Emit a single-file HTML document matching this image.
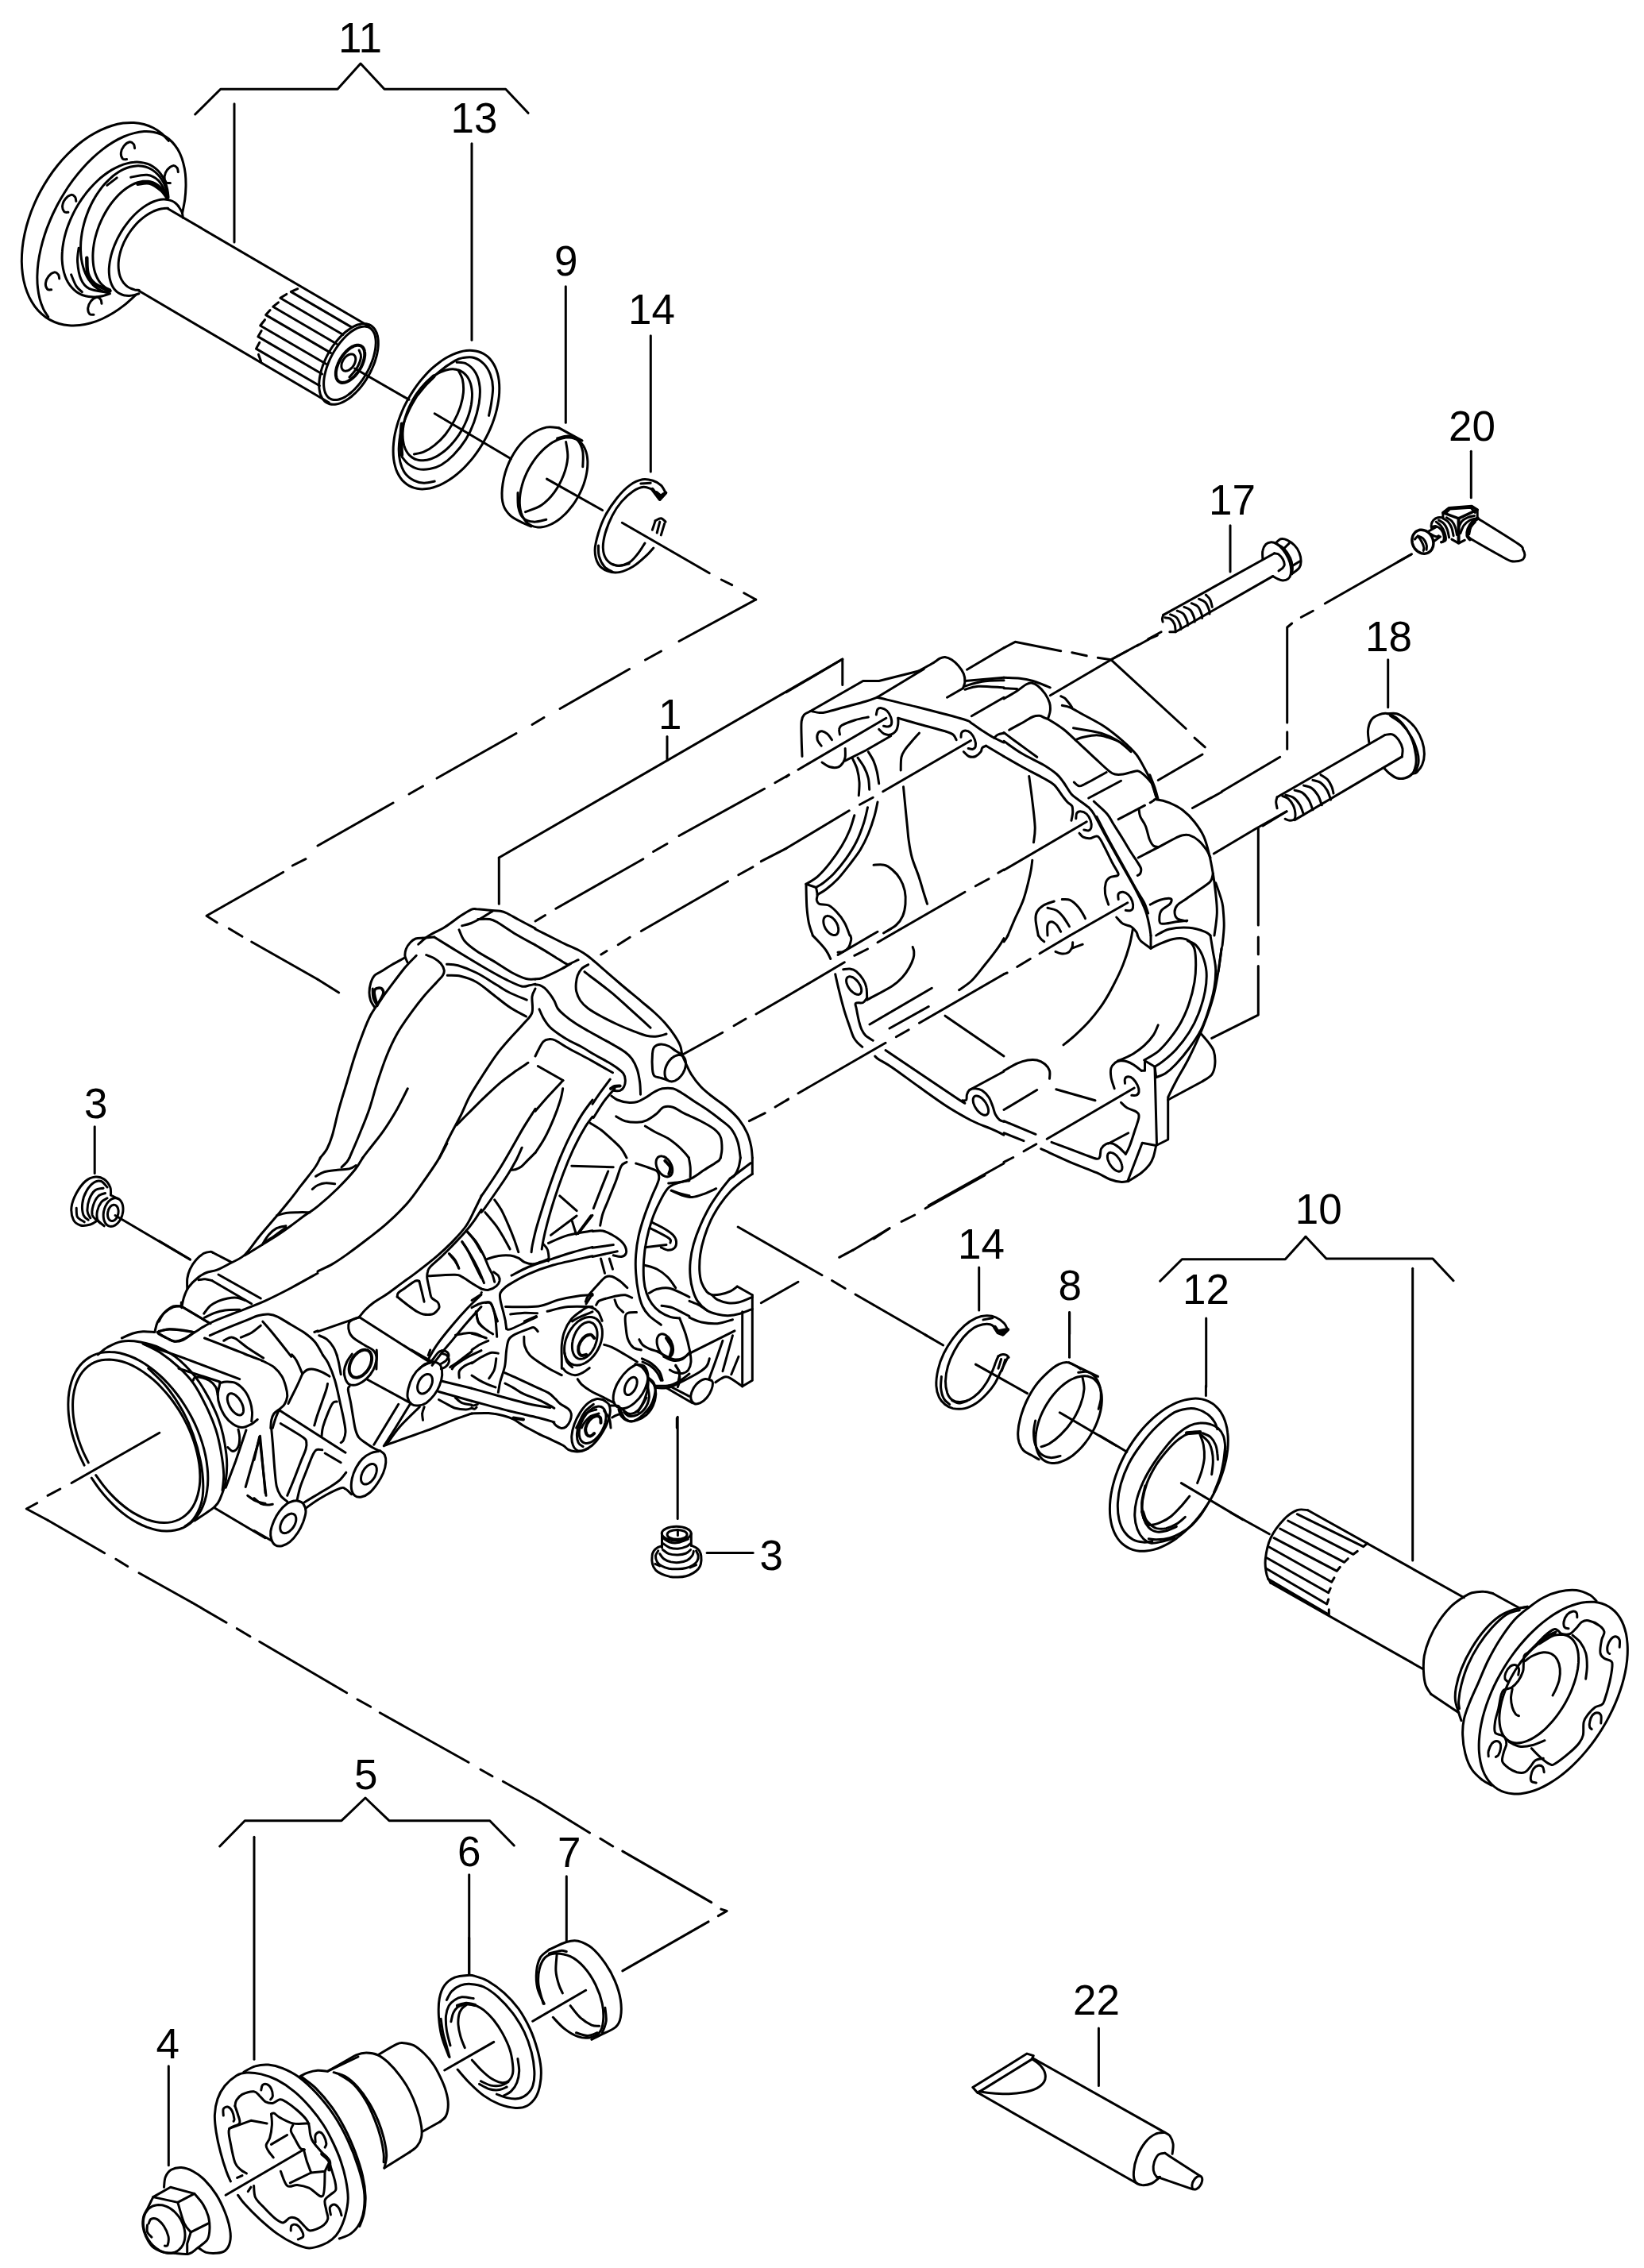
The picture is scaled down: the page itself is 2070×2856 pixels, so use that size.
<!DOCTYPE html>
<html><head><meta charset="utf-8"><title>Diagram</title>
<style>html,body{margin:0;padding:0;background:#fff}svg{display:block}</style></head>
<body><svg width="2070" height="2856" viewBox="0 0 2070 2856">
<rect width="2070" height="2856" fill="#fff"/>
<g fill="none" stroke="#000" stroke-width="3" stroke-linecap="round" stroke-linejoin="round">
<path d="M212.3 177.3C210.8 175.7 206.6 170.7 203.4 168C200.2 165.3 196.7 162.9 193 161C189.3 159.1 185.4 157.6 181.3 156.5C177.3 155.4 173 154.7 168.6 154.5C164.2 154.3 159.6 154.5 155 155.1C150.4 155.7 145.7 156.7 140.9 158.2C136.2 159.7 131.4 161.5 126.6 163.8C121.8 166.1 117 168.8 112.3 171.8C107.6 174.9 102.9 178.3 98.3 182C93.8 185.8 89.3 189.9 85 194.3C80.6 198.7 76.4 203.4 72.5 208.3C68.5 213.2 64.7 218.4 61.1 223.8C57.6 229.1 54.2 234.8 51.1 240.5C48 246.1 45.2 252 42.7 258C40.1 263.9 37.9 269.9 36 276C34 282 32.4 288.1 31.1 294.1C29.8 300.1 28.8 306.1 28.2 312C27.6 317.8 27.3 323.7 27.3 329.3C27.4 334.9 27.8 340.4 28.5 345.6C29.2 350.8 30.3 355.9 31.7 360.7C33.1 365.4 34.8 370 36.8 374.2C38.8 378.3 41.2 382.3 43.8 385.8C46.4 389.3 49.3 392.5 52.5 395.3C55.6 398.1 59 400.6 62.7 402.6C66.3 404.6 70.2 406.3 74.2 407.5C78.2 408.7 82.5 409.5 86.8 409.8C91.2 410.2 95.7 410.1 100.3 409.6C104.9 409.1 109.6 408.1 114.3 406.8C119.1 405.5 123.9 403.7 128.7 401.5C133.4 399.3 138.3 396.7 143 393.8C147.7 390.9 152.4 387.5 157 383.9C161.6 380.2 168.2 373.9 170.5 371.9"/>
<path d="M60.7 399C59.7 397.3 56.3 392.5 54.5 388.8C52.8 385.1 51.3 381 50.1 376.6C49 372.3 48.1 367.6 47.6 362.7C47 357.9 46.8 352.7 46.9 347.4C47 342.1 47.4 336.5 48.1 330.9C48.9 325.2 49.9 319.4 51.3 313.5C52.6 307.7 54.3 301.7 56.2 295.8C58.1 289.8 60.4 283.8 62.9 277.9C65.3 271.9 68.1 266 71.1 260.2C74.1 254.5 77.3 248.7 80.8 243.2C84.2 237.7 87.8 232.3 91.6 227.2C95.4 222.1 99.4 217.1 103.5 212.5C107.6 207.8 111.8 203.4 116.1 199.4C120.4 195.3 124.8 191.5 129.2 188.1C133.6 184.7 138.1 181.6 142.6 178.9C147 176.2 151.5 173.9 155.9 172C160.2 170.1 164.6 168.6 168.9 167.6C173.1 166.5 177.3 165.8 181.3 165.6C185.3 165.4 189.2 165.6 192.8 166.2C196.5 166.8 200.1 167.9 203.4 169.4C206.6 170.8 209.7 172.7 212.6 175C215.4 177.3 218 179.9 220.3 183C222.7 186 224.7 189.4 226.5 193.2C228.2 196.9 229.7 201 230.8 205.3C232 209.7 232.9 214.4 233.4 219.2C233.9 224.1 234.1 229.3 234 234.6C233.9 239.9 233.5 245.5 232.8 251.2C232 256.8 230.1 265.6 229.6 268.5"/>
<path d="M212.1 248.5C211.9 246.8 211.4 241.6 210.7 238.4C210 235.2 209.1 232.1 208 229.3C206.9 226.4 205.5 223.8 204 221.4C202.5 218.9 200.7 216.7 198.8 214.8C196.9 212.9 194.8 211.1 192.6 209.7C190.4 208.3 188 207.1 185.4 206.2C182.9 205.4 180.2 204.7 177.4 204.4C174.7 204.1 171.8 204 168.8 204.3C165.9 204.5 162.8 205.1 159.7 205.9C156.6 206.7 153.5 207.8 150.3 209.1C147.2 210.5 144 212.1 140.8 213.9C137.7 215.8 134.5 217.9 131.4 220.3C128.3 222.6 125.2 225.2 122.3 228C119.3 230.8 116.4 233.8 113.6 237C110.8 240.1 108.1 243.5 105.6 247C103 250.4 100.6 254.1 98.3 257.8C96.1 261.5 93.9 265.4 92 269.3C90.1 273.2 88.3 277.1 86.8 281.1C85.2 285.1 83.8 289.2 82.7 293.1C81.5 297.1 80.6 301.2 79.9 305.1C79.2 309 78.6 312.9 78.4 316.7C78.1 320.5 78 324.2 78.2 327.8C78.4 331.3 78.8 334.8 79.4 338.1C80 341.3 80.8 344.5 81.9 347.4C82.9 350.3 84.2 353 85.6 355.5C87.1 358 88.7 360.3 90.6 362.3C92.4 364.4 94.4 366.2 96.6 367.7C98.8 369.2 101.2 370.5 103.6 371.5C106.1 372.4 108.8 373.2 111.5 373.6C114.2 374 117.1 374.2 120 374C123 373.9 126 373.5 129.1 372.7C132.1 372 136.9 370.3 138.4 369.8"/>
<path d="M210.8 242.8C210.2 241.3 208.9 236.7 207.7 233.9C206.6 231.1 205.2 228.5 203.7 226.2C202.2 223.8 200.5 221.6 198.7 219.7C196.9 217.8 194.9 216.1 192.8 214.6C190.8 213.2 188.5 212 186.3 211.1C184 210.2 181.5 209.6 179.1 209.2C176.6 208.8 174.1 208.7 171.5 208.9C168.9 209.1 166.2 209.6 163.6 210.3C160.9 211 158.2 212 155.6 213.2C152.9 214.5 150.2 216 147.6 217.8C145 219.5 142.3 221.5 139.8 223.8C137.3 226 134.8 228.5 132.4 231.1C130 233.7 127.7 236.6 125.5 239.6C123.3 242.6 121.2 245.8 119.3 249.1C117.3 252.4 115.5 255.9 113.8 259.5C112.1 263 110.6 266.7 109.3 270.4C107.9 274.1 106.7 278 105.7 281.8C104.7 285.6 103.8 289.4 103.2 293.2C102.6 297 102.1 300.9 101.8 304.6C101.6 308.3 101.5 312.1 101.6 315.7C101.7 319.3 102 322.8 102.5 326.2C103 329.5 103.7 332.8 104.6 335.9C105.4 339 106.5 341.9 107.7 344.7C108.9 347.4 110.3 350 111.9 352.3C113.4 354.6 115.1 356.7 117 358.6C118.8 360.5 120.8 362.1 122.9 363.5C125 364.8 127.3 366 129.6 366.8C131.9 367.7 135.6 368.3 136.8 368.5"/>
<path d="M134.8 233.4L147.2 223.9"/>
<path d="M209.8 248.3C209.3 247.2 207.8 243.8 206.6 241.8C205.5 239.8 204.1 238 202.7 236.5C201.2 234.9 199.6 233.5 197.9 232.4C196.2 231.3 194.4 230.3 192.5 229.6C190.6 229 188.6 228.5 186.5 228.3C184.4 228.1 182.3 228.1 180.1 228.3C177.9 228.6 175.6 229.1 173.4 229.8C171.1 230.5 168.8 231.4 166.5 232.6C164.2 233.8 161.8 235.2 159.6 236.8C157.3 238.4 155 240.2 152.8 242.2C150.5 244.2 148.3 246.4 146.2 248.7C144.1 251 142 253.6 140.1 256.2C138.1 258.9 136.2 261.7 134.4 264.6C132.6 267.5 131 270.5 129.4 273.6C127.9 276.7 126.4 279.9 125.1 283.1C123.9 286.4 122.7 289.7 121.7 292.9C120.7 296.2 119.8 299.5 119.1 302.8C118.4 306.1 117.9 309.4 117.5 312.6C117.2 315.8 116.9 319 116.9 322.1C116.9 325.1 117 328.1 117.3 331C117.5 333.9 118 336.6 118.6 339.3C119.2 341.9 120 344.4 120.9 346.6C121.8 348.9 122.9 351.1 124.1 353C125.3 355 126.7 356.7 128.2 358.3C129.6 359.8 131.3 361.1 133 362.2C134.7 363.3 137.5 364.4 138.4 364.9"/>
<path d="M164.7 223.2C168.2 222.7 179.3 219.6 185.2 220.3C191 221 195.6 223.5 199.8 227.6C203.9 231.7 208.3 242.2 210 245.1"/>
<path d="M173.5 231.7C175.9 231.5 183.2 229.2 188.1 230.5C193 231.8 198.9 236.1 202.7 239.3C206.5 242.4 209.4 247.8 210.7 249.5" stroke-width="4.5"/>
<path d="M99.1 312.3C98.8 315.2 97.1 323.2 97.6 329.8C98.1 336.4 99.5 346.1 102 351.7C104.4 357.3 106.6 360.6 112.2 363.4C117.8 366.2 131.7 367.6 135.5 368.5"/>
<path d="M109.3 324.7C109.5 328 109 338.9 110.7 344.4C112.4 349.9 114.9 353.9 119.5 357.5C124.1 361.2 135.3 364.8 138.5 366.3" stroke-width="4.5"/>
<path d="M89.6 345.8C90.7 348.3 93.8 356.8 96.1 360.4C98.4 364.1 102.2 366.5 103.4 367.7"/>
<path d="M224.7 259.6C224.1 259 222.3 256.8 220.9 255.7C219.5 254.6 218 253.7 216.4 253C214.8 252.3 213 251.7 211.2 251.4C209.4 251.1 207.5 251 205.5 251.1C203.5 251.2 201.5 251.4 199.4 251.9C197.3 252.4 195.1 253.1 192.9 254C190.7 254.9 188.5 256 186.3 257.3C184.1 258.5 181.8 260 179.6 261.6C177.4 263.2 175.2 265 173 267C170.9 268.9 168.8 271 166.7 273.2C164.6 275.4 162.6 277.8 160.7 280.3C158.8 282.7 156.9 285.3 155.2 287.9C153.4 290.6 151.8 293.3 150.3 296.1C148.7 298.9 147.3 301.7 146 304.6C144.7 307.4 143.5 310.3 142.5 313.2C141.5 316 140.6 318.9 139.9 321.7C139.2 324.6 138.6 327.4 138.2 330.1C137.7 332.8 137.5 335.5 137.3 338.1C137.2 340.7 137.3 343.2 137.5 345.6C137.7 348 138 350.3 138.6 352.4C139.1 354.5 139.7 356.5 140.6 358.4C141.4 360.2 142.3 361.9 143.4 363.4C144.5 364.9 145.8 366.2 147.1 367.4C148.5 368.5 150 369.5 151.6 370.2C153.2 371 154.9 371.6 156.7 371.9C158.5 372.3 160.4 372.4 162.4 372.4C164.3 372.3 166.4 372.1 168.5 371.6C170.6 371.2 173.8 370 174.9 369.7"/>
<path d="M224.6 259.7C225.3 260.9 228 264.6 229 267C230 269.4 230.2 273.1 230.4 274.3"/>
<path d="M211.6 262.3C210.6 262.3 207.8 262.2 205.8 262.5C203.8 262.7 201.7 263.1 199.6 263.7C197.6 264.3 195.5 265.1 193.4 266C191.3 267 189.2 268.1 187.1 269.4C185 270.6 183 272.1 180.9 273.6C178.9 275.2 176.9 276.9 175 278.7C173.1 280.5 171.2 282.5 169.5 284.5C167.7 286.6 166 288.7 164.4 291C162.8 293.2 161.3 295.5 159.9 297.9C158.5 300.2 157.3 302.7 156.1 305.1C155 307.6 154 310.1 153.1 312.6C152.2 315.1 151.5 317.6 150.9 320C150.3 322.5 149.8 325 149.5 327.4C149.2 329.8 149.1 332.1 149.1 334.4C149.1 336.7 149.3 338.9 149.6 341C149.9 343.1 150.3 345.2 150.9 347.1C151.5 349 152.3 350.8 153.2 352.4C154.1 354.1 155.1 355.6 156.3 356.9C157.4 358.3 158.7 359.5 160.1 360.6C161.5 361.6 163 362.5 164.6 363.2C166.2 364 167.9 364.5 169.7 364.9C171.5 365.2 174.3 365.3 175.2 365.4"/>
<path d="M169.6 186.7C169.4 185.9 169.4 182.9 168.4 181.6C167.3 180.3 165.4 178.3 163.3 178.7C161.2 179.1 157.8 181.5 156 183.8C154.2 186.1 152.6 189.9 152.3 192.6C152.1 195.2 153.3 198.5 154.5 199.9C155.7 201.2 158.8 200.5 159.6 200.6"/>
<path d="M224.3 216.6C224.1 215.8 224.2 212.9 223.1 211.5C222.1 210.2 220.1 208.2 218 208.6C216 209 212.6 211.4 210.7 213.7C208.9 216 207.3 219.8 207.1 222.5C206.8 225.2 208.1 228.4 209.3 229.8C210.5 231.1 213.5 230.4 214.4 230.5"/>
<path d="M95.8 253.4C95.6 252.6 95.7 249.7 94.7 248.3C93.6 247 91.6 245 89.6 245.4C87.5 245.8 84.1 248.2 82.3 250.5C80.4 252.8 78.9 256.6 78.6 259.3C78.4 261.9 79.6 265.2 80.8 266.6C82 267.9 85.1 267.2 85.9 267.3"/>
<path d="M74.7 350.9C74.5 350.1 74.5 347.2 73.5 345.8C72.5 344.5 70.5 342.6 68.4 342.9C66.3 343.3 62.9 345.7 61.1 348C59.3 350.3 57.7 354.1 57.4 356.8C57.2 359.5 58.4 362.7 59.6 364.1C60.9 365.4 63.9 364.7 64.7 364.8"/>
<path d="M128 382.3C127.8 381.5 127.8 378.6 126.8 377.2C125.7 375.9 123.7 373.9 121.7 374.3C119.6 374.7 116.2 377.1 114.4 379.4C112.6 381.7 111 385.5 110.7 388.2C110.5 390.9 111.7 394.1 112.9 395.5C114.1 396.8 117.2 396.1 118 396.2"/>
<path d="M211.3 262.7L464.3 410.7"/>
<path d="M175 366.3L414.3 507"/>
<path d="M374.8 363.7L366.3 367.4L442.9 412.1"/>
<path d="M360.8 370.4L352.9 375.3L432 421.5"/>
<path d="M350.5 380.8L343.8 386.2L423.8 433"/>
<path d="M340.1 390.5L334.7 396.6L416.5 444.4"/>
<path d="M333.5 402.7L327.7 410L410.5 458.3"/>
<path d="M329.2 416.6L324.9 423.9L405.6 471"/>
<path d="M326.8 431.2L322.5 439.1L402.4 485.8"/>
<path d="M325.5 446.4L328.6 455"/>
<path d="M413.8 444.3C415 442.2 416.3 440.1 417.6 438C418.9 436 420.3 434 421.8 432.1C423.2 430.2 424.7 428.4 426.2 426.7C427.7 424.9 429.3 423.3 430.9 421.8C432.5 420.2 434.1 418.8 435.7 417.5C437.3 416.2 439 415 440.6 413.9C442.2 412.8 443.8 411.9 445.4 411.1C447 410.3 448.6 409.6 450.2 409C451.7 408.5 453.2 408.1 454.7 407.9C456.2 407.6 457.6 407.5 459 407.6C460.4 407.6 461.7 407.8 462.9 408.2C464.2 408.5 465.4 409 466.5 409.6C467.6 410.2 468.6 411 469.5 411.8C470.5 412.7 471.3 413.8 472.1 414.9C472.8 416.1 473.5 417.3 474 418.7C474.6 420.1 475.1 421.6 475.4 423.2C475.8 424.8 476 426.5 476.2 428.3C476.3 430.1 476.3 432 476.3 433.9C476.2 435.8 476 437.9 475.8 439.9C475.5 442 475.1 444.1 474.6 446.3C474.1 448.4 473.5 450.6 472.8 452.8C472.2 455 471.4 457.3 470.5 459.5C469.6 461.7 468.7 463.9 467.6 466.1C466.6 468.3 465.5 470.5 464.3 472.6C463.1 474.8 461.8 476.9 460.5 478.9C459.2 480.9 457.8 482.9 456.3 484.8C454.9 486.7 453.4 488.5 451.9 490.3C450.3 492 448.8 493.6 447.2 495.2C445.6 496.7 444 498.1 442.4 499.5C440.7 500.8 439.1 502 437.5 503C435.9 504.1 434.2 505.1 432.6 505.9C431 506.7 429.5 507.3 427.9 507.9C426.4 508.4 424.8 508.8 423.4 509C421.9 509.3 420.4 509.4 419.1 509.3C417.7 509.3 416.4 509.1 415.1 508.8C413.9 508.4 412.7 508 411.6 507.3C410.5 506.7 409.5 506 408.6 505.1C407.6 504.2 406.8 503.2 406 502C405.3 500.9 404.6 499.6 404 498.2C403.5 496.8 403 495.3 402.7 493.7C402.3 492.1 402.1 490.4 401.9 488.6C401.8 486.8 401.7 485 401.8 483C401.9 481.1 402 479.1 402.3 477C402.6 474.9 403 472.8 403.5 470.6C404 468.5 404.5 466.3 405.2 464.1C405.9 461.9 406.7 459.7 407.6 457.4C408.4 455.2 409.4 453 410.4 450.8C411.5 448.6 412.6 446.4 413.8 444.3Z"/>
<path d="M419 445.4C420 443.5 421.2 441.6 422.4 439.7C423.6 437.9 424.8 436 426.1 434.3C427.4 432.5 428.7 430.8 430.1 429.2C431.4 427.7 432.8 426.1 434.2 424.7C435.6 423.3 437.1 421.9 438.5 420.7C439.9 419.5 441.4 418.3 442.8 417.3C444.2 416.3 445.6 415.4 447 414.6C448.4 413.9 449.8 413.2 451.2 412.7C452.5 412.2 453.8 411.8 455.1 411.5C456.4 411.2 457.6 411.1 458.8 411.1C460 411.1 461.1 411.2 462.2 411.5C463.3 411.7 464.3 412.1 465.2 412.7C466.2 413.2 467 413.8 467.8 414.6C468.6 415.4 469.3 416.3 469.9 417.3C470.6 418.3 471.1 419.4 471.6 420.6C472 421.8 472.4 423.2 472.6 424.6C472.9 426 473.1 427.5 473.2 429.1C473.3 430.7 473.3 432.4 473.1 434.2C473 435.9 472.9 437.7 472.6 439.6C472.3 441.4 471.9 443.4 471.4 445.3C471 447.3 470.4 449.3 469.8 451.2C469.1 453.2 468.4 455.3 467.6 457.3C466.8 459.3 465.9 461.3 465 463.3C464 465.3 463 467.3 461.9 469.3C460.8 471.2 459.7 473.1 458.5 475C457.3 476.8 456.1 478.7 454.8 480.4C453.5 482.2 452.2 483.9 450.8 485.5C449.4 487.1 448.1 488.6 446.7 490C445.3 491.4 443.8 492.8 442.4 494C441 495.2 439.5 496.4 438.1 497.4C436.7 498.4 435.3 499.3 433.9 500.1C432.5 500.8 431.1 501.5 429.7 502C428.4 502.5 427 502.9 425.8 503.2C424.5 503.5 423.3 503.6 422.1 503.6C420.9 503.6 419.8 503.5 418.7 503.2C417.6 503 416.6 502.6 415.7 502C414.7 501.5 413.9 500.9 413.1 500.1C412.3 499.3 411.6 498.4 411 497.4C410.3 496.4 409.8 495.3 409.3 494.1C408.9 492.9 408.5 491.5 408.3 490.1C408 488.7 407.8 487.2 407.7 485.6C407.6 484 407.6 482.3 407.7 480.5C407.8 478.8 408 477 408.3 475.1C408.6 473.3 409 471.3 409.5 469.4C409.9 467.4 410.5 465.5 411.1 463.5C411.8 461.5 412.5 459.4 413.3 457.4C414.1 455.4 415 453.4 415.9 451.4C416.9 449.4 417.9 447.4 419 445.4Z"/>
<path d="M429.3 451C429.9 450.1 430.6 449.1 431.2 448.2C431.9 447.2 432.6 446.3 433.3 445.5C434 444.6 434.8 443.8 435.5 443C436.3 442.2 437.1 441.5 437.8 440.8C438.6 440.1 439.4 439.5 440.2 438.9C441 438.3 441.8 437.8 442.6 437.3C443.4 436.8 444.2 436.4 444.9 436.1C445.7 435.7 446.5 435.4 447.2 435.2C448 435 448.7 434.9 449.4 434.8C450.1 434.7 450.8 434.7 451.4 434.7C452.1 434.8 452.7 434.9 453.3 435.1C453.9 435.3 454.4 435.5 454.9 435.8C455.5 436.2 455.9 436.5 456.4 437C456.8 437.4 457.2 437.9 457.5 438.5C457.8 439.1 458.1 439.7 458.4 440.3C458.6 441 458.8 441.7 458.9 442.5C459.1 443.2 459.2 444.1 459.2 444.9C459.3 445.8 459.2 446.6 459.2 447.6C459.1 448.5 459 449.4 458.8 450.4C458.7 451.4 458.4 452.4 458.2 453.4C457.9 454.4 457.6 455.4 457.2 456.4C456.8 457.4 456.4 458.5 456 459.5C455.5 460.5 455 461.6 454.5 462.6C454 463.6 453.4 464.6 452.8 465.6C452.2 466.5 451.5 467.5 450.9 468.4C450.2 469.4 449.5 470.3 448.8 471.1C448.1 472 447.3 472.8 446.6 473.6C445.8 474.4 445.1 475.1 444.3 475.8C443.5 476.5 442.7 477.1 441.9 477.7C441.1 478.3 440.3 478.8 439.5 479.3C438.7 479.8 438 480.2 437.2 480.5C436.4 480.9 435.6 481.2 434.9 481.4C434.2 481.6 433.4 481.7 432.7 481.8C432 481.9 431.3 481.9 430.7 481.9C430 481.8 429.4 481.7 428.8 481.5C428.2 481.3 427.7 481.1 427.2 480.7C426.7 480.4 426.2 480 425.8 479.6C425.3 479.2 424.9 478.7 424.6 478.1C424.3 477.5 424 476.9 423.7 476.3C423.5 475.6 423.3 474.9 423.2 474.1C423 473.3 422.9 472.5 422.9 471.7C422.9 470.8 422.9 469.9 422.9 469C423 468.1 423.1 467.2 423.3 466.2C423.5 465.2 423.7 464.2 423.9 463.2C424.2 462.2 424.5 461.2 424.9 460.2C425.3 459.2 425.7 458.1 426.1 457.1C426.6 456.1 427.1 455 427.6 454C428.1 453 428.7 452 429.3 451Z" stroke-width="4"/>
<path d="M432.7 452.4C432.9 452 433.2 451.6 433.6 451.2C433.9 450.8 434.2 450.4 434.5 450C434.9 449.7 435.2 449.3 435.6 449C436 448.7 436.3 448.4 436.7 448.1C437.1 447.8 437.5 447.5 437.9 447.3C438.3 447.1 438.7 446.9 439 446.7C439.4 446.5 439.8 446.3 440.2 446.2C440.6 446.1 441 446 441.4 446C441.7 445.9 442.1 445.9 442.5 445.9C442.8 445.9 443.2 445.9 443.5 446C443.8 446 444.1 446.1 444.5 446.2C444.8 446.3 445 446.5 445.3 446.7C445.6 446.8 445.8 447.1 446.1 447.3C446.3 447.5 446.5 447.8 446.7 448.1C446.9 448.3 447 448.6 447.2 449C447.3 449.3 447.4 449.7 447.5 450C447.6 450.4 447.7 450.8 447.7 451.2C447.8 451.6 447.8 452 447.8 452.4C447.8 452.9 447.7 453.3 447.7 453.7C447.6 454.2 447.5 454.7 447.4 455.1C447.3 455.6 447.2 456 447 456.5C446.8 457 446.7 457.4 446.5 457.9C446.3 458.4 446 458.8 445.8 459.3C445.5 459.7 445.3 460.2 445 460.6C444.7 461 444.4 461.4 444.1 461.8C443.8 462.2 443.4 462.6 443.1 463C442.8 463.4 442.4 463.7 442 464C441.7 464.4 441.3 464.7 440.9 465C440.5 465.2 440.2 465.5 439.8 465.7C439.4 466 439 466.2 438.6 466.4C438.2 466.5 437.8 466.7 437.4 466.8C437 466.9 436.7 467 436.3 467.1C435.9 467.1 435.5 467.2 435.2 467.2C434.8 467.2 434.5 467.1 434.2 467.1C433.8 467 433.5 466.9 433.2 466.8C432.9 466.7 432.6 466.5 432.3 466.4C432.1 466.2 431.8 466 431.6 465.7C431.4 465.5 431.1 465.3 431 465C430.8 464.7 430.6 464.4 430.5 464.1C430.3 463.7 430.2 463.4 430.1 463C430 462.6 430 462.3 429.9 461.9C429.9 461.4 429.9 461 429.9 460.6C429.9 460.2 429.9 459.7 430 459.3C430 458.8 430.1 458.4 430.2 457.9C430.3 457.5 430.5 457 430.6 456.5C430.8 456.1 431 455.6 431.2 455.1C431.4 454.7 431.6 454.2 431.9 453.8C432.1 453.3 432.4 452.9 432.7 452.4Z"/>
<path d="M452.1 441C452.5 442.4 454.9 445.8 454.5 449.5C454.1 453.1 452.1 458.6 449.6 462.9C447.2 467.1 441.5 473 439.9 475"/>
<path d="M514.3 501.7C516.4 498.1 518.6 494.5 520.9 491.1C523.2 487.6 525.6 484.3 528.1 481.1C530.6 477.9 533.3 474.8 535.9 471.9C538.6 469 541.4 466.3 544.2 463.7C547 461.2 549.9 458.8 552.8 456.7C555.7 454.5 558.6 452.5 561.5 450.8C564.4 449.1 567.3 447.6 570.2 446.3C573.1 445 576 444 578.8 443.2C581.6 442.4 584.4 441.8 587.1 441.5C589.8 441.2 592.5 441.2 595 441.4C597.5 441.6 600 442 602.3 442.7C604.6 443.4 606.8 444.3 608.9 445.5C611 446.7 612.9 448.1 614.7 449.7C616.5 451.4 618.1 453.2 619.6 455.3C621.1 457.4 622.4 459.7 623.5 462.1C624.7 464.6 625.6 467.3 626.4 470.1C627.2 472.9 627.8 475.9 628.2 479.1C628.6 482.2 628.8 485.5 628.8 488.9C628.8 492.2 628.7 495.8 628.3 499.4C627.9 502.9 627.4 506.6 626.6 510.3C625.9 514.1 625 517.9 623.9 521.6C622.8 525.4 621.5 529.3 620.1 533.1C618.6 536.9 617 540.7 615.3 544.4C613.5 548.1 611.6 551.9 609.5 555.5C607.5 559.1 605.3 562.7 603 566.1C600.7 569.5 598.3 572.9 595.8 576.1C593.3 579.3 590.6 582.3 587.9 585.2C585.3 588.1 582.5 590.9 579.7 593.4C576.9 596 574 598.3 571.1 600.5C568.2 602.6 565.3 604.6 562.4 606.3C559.5 608.1 556.5 609.6 553.7 610.9C550.8 612.1 547.9 613.2 545.1 614C542.3 614.8 539.5 615.3 536.8 615.6C534.1 615.9 531.4 616 528.9 615.8C526.4 615.6 523.9 615.1 521.6 614.4C519.3 613.8 517.1 612.8 515 611.6C512.9 610.5 511 609 509.2 607.4C507.4 605.8 505.7 603.9 504.3 601.8C502.8 599.8 501.5 597.5 500.3 595C499.2 592.6 498.2 589.9 497.5 587.1C496.7 584.2 496.1 581.2 495.7 578.1C495.3 575 495.1 571.7 495.1 568.3C495.1 564.9 495.2 561.4 495.6 557.8C496 554.2 496.5 550.5 497.2 546.8C498 543.1 498.9 539.3 500 535.5C501.1 531.7 502.4 527.9 503.8 524.1C505.3 520.3 506.9 516.5 508.6 512.7C510.4 509 512.3 505.3 514.3 501.7Z"/>
<path d="M615.5 523.4C616 520.8 617.7 513.8 618.6 507.9C619.4 502 620.8 494.3 620.6 488.2C620.5 482.2 619.4 476.7 617.5 471.7C615.6 466.7 612.7 461.8 609.3 458.3C605.8 454.7 601.2 451.8 596.8 450.5C592.5 449.2 587.4 449.9 583.4 450.5C579.4 451.1 578.2 451.1 573.1 454.1C567.9 457.1 559.3 462.7 552.4 468.6C545.5 474.5 537.9 481.4 531.7 489.3C525.5 497.2 519.6 507 515.2 516.2C510.7 525.3 507 536 504.8 544.1C502.7 552.2 502.4 558.6 502.2 564.8C502.1 571 502.5 576.1 503.8 581.3C505.1 586.5 507.1 591.8 510 595.8C512.9 599.8 517.4 603 521.4 605.1C525.3 607.2 529.5 608 533.8 608.2C538.1 608.4 545 606.5 547.2 606.1"/>
<path d="M575.1 456.2C577.2 456.5 583.6 456 587.5 458.3C591.5 460.5 596.2 464.8 598.9 469.6C601.7 474.5 603.4 480.8 604.1 487.2C604.8 493.6 604.3 500.5 603.1 507.9C601.8 515.3 599.6 524.1 596.8 531.7C594.1 539.3 590.8 546.5 586.5 553.4C582.2 560.3 576.2 567.7 571 573C565.8 578.4 560.5 582.5 555.5 585.5C550.5 588.4 545.8 589.8 541 590.6C536.2 591.5 531 591.7 526.5 590.6C522.1 589.6 517.6 587 514.1 584.4C510.7 581.8 507.2 576.7 505.9 575.1"/>
<path d="M580.8 467.6C582.2 468.3 583.5 469.2 584.7 470.3C585.9 471.4 587 472.6 588 473.9C589 475.3 589.9 476.8 590.7 478.4C591.5 480 592.1 481.8 592.7 483.6C593.2 485.5 593.6 487.4 593.9 489.5C594.2 491.5 594.4 493.7 594.5 495.9C594.5 498.2 594.4 500.5 594.2 502.8C594 505.2 593.7 507.6 593.3 510C592.8 512.5 592.2 515 591.6 517.5C590.9 520 590.1 522.5 589.2 525C588.3 527.5 587.2 530 586.1 532.5C585 534.9 583.8 537.4 582.5 539.8C581.2 542.2 579.7 544.5 578.3 546.8C576.8 549 575.2 551.2 573.6 553.4C572 555.5 570.3 557.5 568.5 559.4C566.8 561.3 565 563.1 563.2 564.8C561.4 566.5 559.5 568.1 557.6 569.5C555.7 570.9 553.8 572.3 551.9 573.4C550 574.6 548.1 575.6 546.2 576.4C544.3 577.3 542.4 578 540.6 578.5C538.7 579 536.9 579.4 535.1 579.6C533.3 579.8 531.6 579.9 529.9 579.8C528.2 579.7 526.6 579.4 525.1 578.9C523.5 578.5 522 577.9 520.7 577.1C519.3 576.4 518 575.5 516.8 574.4C515.6 573.3 514.5 572.1 513.5 570.8C512.5 569.4 511.6 567.9 510.8 566.3C510 564.7 509.4 562.9 508.8 561.1C508.3 559.2 507.9 557.3 507.6 555.2C507.3 553.2 507.1 551 507.1 548.8C507 546.6 507.1 544.2 507.3 541.9C507.5 539.5 507.8 537.1 508.2 534.7C508.7 532.2 509.3 529.7 509.9 527.2C510.6 524.7 511.4 522.2 512.3 519.7C513.2 517.2 514.3 514.7 515.4 512.2C516.5 509.8 517.7 507.3 519 504.9C520.3 502.5 521.8 500.2 523.2 497.9C524.7 495.7 526.3 493.5 527.9 491.3C529.5 489.2 531.2 487.2 533 485.3C534.7 483.4 536.5 481.6 538.3 479.9C540.2 478.2 542 476.6 543.9 475.2C545.8 473.8 547.7 472.4 549.6 471.3C551.5 470.1 553.4 469.1 555.3 468.3C557.2 467.4 559.1 466.7 560.9 466.2C562.8 465.7 564.6 465.3 566.4 465.1C568.2 464.9 569.9 464.8 571.6 464.9C573.3 465 574.9 465.3 576.4 465.8C578 466.2 579.5 466.8 580.8 467.6Z"/>
<path d="M577.2 466.5C578.1 468.4 581.3 473.3 582.4 477.9C583.4 482.6 583.9 488.6 583.4 494.5C582.9 500.3 581.2 507.2 579.3 513.1C577.4 518.9 575.1 523.9 572 529.6C568.9 535.3 564.8 542 560.7 547.2C556.5 552.4 551.7 557 547.2 560.6C542.7 564.3 538.1 567 533.8 568.9C529.5 570.8 523.4 571.5 521.4 572"/>
<path d="M546.2 473.8C544.5 475.5 539.3 480.3 535.8 484.1C532.4 487.9 527.2 494.5 525.5 496.5" stroke-width="5"/>
<path d="M505.9 533.7C505.7 536.3 504.8 542.7 504.8 549.3C504.8 555.8 505.7 569.1 505.9 573" stroke-width="4.5"/>
<path d="M703.8 538.9C701.2 538.7 693.6 536.8 687.8 538.1C681.9 539.5 674.9 542.5 668.8 546.9C662.7 551.3 656.4 557.4 651.3 564.4C646.2 571.5 641.3 580.7 638.1 589.2C635 597.7 633 607.7 632.3 615.5C631.6 623.3 632.1 630.4 633.8 635.9C635.5 641.5 638.9 645.6 642.5 649.1C646.2 652.6 651.3 654.8 655.7 657.1C660 659.4 666.6 662 668.8 663"/>
<path d="M703.8 538.9L733 554.9"/>
<path d="M665.7 590.5C667 588.2 668.3 585.8 669.8 583.6C671.2 581.4 672.7 579.2 674.3 577.1C675.9 575 677.5 573 679.2 571.2C680.9 569.3 682.6 567.5 684.4 565.8C686.2 564.1 688 562.6 689.9 561.2C691.7 559.8 693.6 558.5 695.4 557.3C697.3 556.2 699.2 555.2 701 554.3C702.9 553.5 704.7 552.8 706.6 552.3C708.4 551.7 710.2 551.4 711.9 551.1C713.7 550.9 715.4 550.9 717 551C718.7 551.1 720.3 551.3 721.8 551.8C723.3 552.2 724.8 552.8 726.2 553.5C727.5 554.2 728.8 555.1 730 556.2C731.2 557.2 732.3 558.4 733.3 559.7C734.3 561 735.2 562.5 736 564.1C736.7 565.7 737.4 567.4 738 569.2C738.5 571 739 572.9 739.3 575C739.6 577 739.8 579.1 739.9 581.3C739.9 583.4 739.9 585.7 739.7 588C739.5 590.3 739.2 592.7 738.8 595.1C738.4 597.5 737.9 600 737.2 602.4C736.6 604.9 735.8 607.4 735 609.8C734.1 612.3 733.1 614.7 732 617.2C731 619.6 729.8 622 728.5 624.4C727.2 626.7 725.9 629 724.5 631.2C723 633.5 721.5 635.7 719.9 637.7C718.3 639.8 716.7 641.8 715 643.7C713.3 645.6 711.6 647.4 709.8 649C708 650.7 706.2 652.3 704.3 653.7C702.5 655.1 700.6 656.4 698.8 657.5C696.9 658.7 695 659.7 693.2 660.5C691.3 661.3 689.5 662 687.6 662.6C685.8 663.1 684 663.5 682.3 663.7C680.5 663.9 678.8 664 677.2 663.9C675.5 663.8 673.9 663.5 672.4 663.1C670.9 662.7 669.4 662.1 668 661.3C666.7 660.6 665.4 659.7 664.2 658.7C663 657.6 661.9 656.4 660.9 655.1C659.9 653.8 659 652.3 658.2 650.8C657.5 649.2 656.8 647.5 656.2 645.7C655.7 643.8 655.2 641.9 654.9 639.9C654.6 637.9 654.4 635.8 654.3 633.6C654.3 631.4 654.3 629.1 654.5 626.8C654.7 624.5 655 622.1 655.4 619.7C655.8 617.3 656.3 614.9 657 612.4C657.6 610 658.4 607.5 659.2 605C660.1 602.6 661.1 600.1 662.2 597.7C663.2 595.3 664.4 592.8 665.7 590.5Z"/>
<path d="M701.6 552C704 551.5 711.3 548.7 715.5 549.1C719.8 549.5 724.1 550.9 727.2 554.2C730.2 557.5 732.7 563.2 733.8 568.8C734.9 574.4 733.8 584.6 733.8 587.8"/>
<path d="M652 620.6C652.1 623.7 651.6 633.6 652.7 638.9C653.8 644.1 655.4 649 658.6 652C661.7 655 666.8 656.8 671.7 657.1C676.6 657.5 685.1 654.7 687.8 654.2"/>
<path d="M712.6 556.4C713 559.7 715.3 569.2 714.8 576.1C714.3 583 712.5 590.7 709.7 598C706.9 605.3 702.6 613.6 698 619.9C693.4 626.2 688 631.8 681.9 635.9C675.9 640.1 664.9 643.2 661.5 644.7"/>
<path d="M838.1 620.6C837.2 619 835 613.7 832.3 611.1C829.6 608.6 826 606.5 822.1 605.3C818.2 604.1 813.8 602.9 808.9 603.8C804.1 604.8 798.2 607.2 792.9 611.1C787.5 615 781.9 620.9 776.8 627.2C771.7 633.5 766.1 641.8 762.2 649.1C758.3 656.4 755.7 663.7 753.5 671C751.3 678.3 749.1 686.3 749.1 692.9C749.1 699.5 750.8 706 753.5 710.4C756.1 714.8 760.8 717.5 765.1 719.2C769.5 720.9 774.4 721.6 779.7 720.6C785.1 719.6 791.7 716.7 797.3 713.3C802.9 709.9 809.1 704.1 813.3 700.2C817.6 696.3 821.2 691.7 822.8 690"/>
<path d="M821.4 616.2C819.5 615.8 814.4 613 810.4 613.3C806.4 613.7 801.9 615.4 797.3 618.4C792.6 621.5 787 626.5 782.7 631.6C778.3 636.7 774.4 642.5 771 649.1C767.6 655.7 764.2 664.2 762.2 671C760.3 677.8 759.1 684.4 759.3 690C759.5 695.6 761 700.9 763.7 704.6C766.4 708.2 770.7 711.1 775.4 711.9C780 712.6 786.8 711.4 791.4 708.9C796 706.5 799.7 701.4 803.1 697.3C806.5 693.1 810.4 686.3 811.9 684.1"/>
<path d="M821.4 616.2L830.8 628.6L838.1 620.6" stroke-width="4.5"/>
<path d="M826.5 620.6L832.3 625.7L835.2 622.8" stroke-width="5"/>
<path d="M753.5 687C753.6 689.2 753 695.8 754.2 700.2C755.4 704.6 758 710 760.8 713.3C763.6 716.6 769.3 718.8 771 719.9"/>
<path d="M806.8 608.9L819.2 608.2"/>
<path d="M771 710.4C772.4 710.8 776.2 712.7 779.7 712.6C783.3 712.5 790.1 710.2 792.2 709.7"/>
<path d="M821.4 667.3L825 656.4"/>
<path d="M827.2 671L830.8 657.1"/>
<path d="M832.3 673.9L836.7 659.3"/>
<path d="M825 655.7C826.2 655.2 830.1 652.5 832.3 652.7C834.5 653 837.2 656.4 838.1 657.1"/>
<path d="M688.5 603.1L758.6 642.5"/>
<path d="M547.2 520.8L643.4 577.7"/>
<path d="M446.7 464L515 503.3"/>
<path d="M245.7 144L277.7 112.3L425 112.3L454 80L484 112.3L636.7 112.3L665 142.3"/>
<path d="M295 130.7L295 305"/>
<path d="M594 180.7L594 428.3"/>
<path d="M712.3 360.7L712.3 532.3"/>
<path d="M819.3 422.7L819.3 594"/>
<path d="M628.3 1080L628.3 1138.3"/>
<path d="M400 1233.3L426.7 1250"/>
<path d="M526.7 1189.2C528.9 1187.4 534.4 1181.9 540 1178.3C545.6 1174.7 553.3 1171.7 560 1167.5C566.7 1163.3 574.4 1157 580 1153.3C585.6 1149.6 590 1146.8 593.3 1145.3C596.7 1143.9 596.1 1144.5 600 1144.7C603.9 1144.8 611.7 1145.9 616.7 1146.3C621.7 1146.8 626.4 1146.6 630 1147.2C633.6 1147.8 634.4 1148.1 638.3 1150C642.2 1151.9 647.4 1155.1 653.3 1158.3C659.3 1161.5 670.6 1167.4 674 1169.2"/>
<path d="M581.7 1165.8C583.6 1165.3 589.2 1164.2 593.3 1162.5C597.5 1160.8 602.2 1158.3 606.7 1155.8C611.1 1153.3 617.8 1148.9 620 1147.5"/>
<path d="M601.7 1157.5C604.2 1157.5 612.5 1156.8 616.7 1157.5C620.8 1158.2 621.1 1158.5 626.7 1161.7C632.2 1164.9 642.1 1171.9 650 1176.7C657.9 1181.4 670 1187.8 674 1190"/>
<path d="M578 1170.8C579.2 1173.2 581.3 1180.6 585 1185C588.7 1189.4 593.3 1192.9 600 1197.5C606.7 1202.1 617.5 1207.9 625 1212.5C632.5 1217.1 638.8 1221.7 645 1225C651.2 1228.3 657.7 1231.2 662.5 1232.5C667.3 1233.8 672.1 1232.9 674 1233"/>
<path d="M546.7 1180C551.4 1182.9 564 1190.8 575 1197.5C586 1204.2 602.1 1214 612.5 1220C622.9 1226 630.1 1230 637.5 1233.7C644.9 1237.3 651.8 1240.8 656.7 1242C661.5 1243.2 663.8 1241.3 666.7 1240.8C669.6 1240.4 672.8 1239.4 674 1239.2"/>
<path d="M531.7 1181.3L546.7 1180"/>
<path d="M531.7 1181.3C530.3 1181.4 525.8 1181.1 523.3 1182C520.8 1182.9 518.7 1184.5 516.7 1186.7C514.7 1188.8 512.4 1192.1 511.3 1195C510.2 1197.9 509.7 1201.4 510 1204.2C510.3 1206.9 512.5 1210.4 513 1211.7"/>
<path d="M510 1205.8C507.2 1207.4 498.3 1212.1 493.3 1215C488.3 1217.9 483.6 1221.1 480 1223.3C476.4 1225.6 473.9 1225.8 471.7 1228.3C469.4 1230.8 467.8 1234.7 466.7 1238.3C465.6 1241.9 465 1246.4 465 1250C465 1253.6 465.6 1256.9 466.7 1260C467.8 1263.1 470.8 1266.9 471.7 1268.3"/>
<path d="M469.2 1245C469.3 1246.9 469 1253.1 470 1256.7C471 1260.3 474.2 1265 475 1266.7"/>
<path d="M475 1265.8C474.4 1263.8 472.2 1256.5 471.7 1253.3C471.1 1250.1 471 1248.2 471.7 1246.7C472.4 1245.1 474.3 1244.4 475.8 1244.2C477.4 1243.9 479.7 1243.8 480.8 1245C481.9 1246.2 483.5 1248.2 482.5 1251.7C481.5 1255.1 476.2 1263.5 475 1265.8" stroke-width="3.5"/>
<path d="M524.2 1203.3C521.8 1205.8 515.1 1212.2 510 1218.3C504.9 1224.4 498.3 1233.3 493.3 1240C488.3 1246.7 484.4 1251.9 480 1258.3C475.6 1264.7 470.6 1271.1 466.7 1278.3C462.8 1285.6 460 1293.1 456.7 1301.7C453.3 1310.3 450 1319.7 446.7 1330C443.3 1340.3 440 1352.2 436.7 1363.3C433.3 1374.4 429.7 1385.6 426.7 1396.7C423.6 1407.8 420.8 1421.7 418.3 1430C415.8 1438.3 414.2 1442 411.7 1446.7C409.2 1451.3 404.7 1456.1 403.3 1458"/>
<path d="M536.7 1202.5C538.3 1203.2 543.6 1204.9 546.7 1206.7C549.7 1208.5 552.9 1210.8 555 1213.3C557.1 1215.8 558.8 1219.2 559.2 1221.7C559.6 1224.2 559 1225.8 557.5 1228.3C556 1230.8 554 1232.2 550 1236.7C546 1241.1 538.9 1248.3 533.3 1255C527.8 1261.7 522.2 1268.9 516.7 1276.7C511.1 1284.4 505 1292.8 500 1301.7C495 1310.6 490.8 1319.7 486.7 1330C482.5 1340.3 478.6 1352.2 475 1363.3C471.4 1374.4 468.6 1386.1 465 1396.7C461.4 1407.2 457.5 1416.4 453.3 1426.7C449.2 1436.9 442.2 1452.8 440 1458"/>
<path d="M513.3 1370.8C511.1 1375.1 505 1387.9 500 1396.7C495 1405.4 488.9 1415.3 483.3 1423.3C477.8 1431.4 471.1 1439.2 466.7 1445C462.2 1450.8 458.3 1455.8 456.7 1458"/>
<path d="M562.5 1214.2C564.9 1214.4 570.4 1214 576.7 1215.8C582.9 1217.6 591.9 1221 600 1225C608.1 1229 618.1 1235.8 625 1240C631.9 1244.2 635.3 1246.8 641.7 1250C648.1 1253.2 659.7 1257.6 663.3 1259.2"/>
<path d="M563.3 1228.3C566.1 1228.5 573.9 1227.8 580 1229.2C586.1 1230.6 593.3 1232.9 600 1236.7C606.7 1240.4 613.1 1246.4 620 1251.7C626.9 1256.9 634.6 1263.6 641.7 1268.3C648.8 1273.1 659 1278.1 662.5 1280"/>
<path d="M674 1245C673.3 1246.7 670.7 1250 670 1255C669.3 1260 671.7 1269.4 670 1275C668.3 1280.6 664.7 1282.8 660 1288.3C655.3 1293.9 647.5 1301.7 641.7 1308.3C635.8 1315 630.6 1320.8 625 1328.3C619.4 1335.8 613.9 1344.7 608.3 1353.3C602.8 1361.9 596.4 1371.4 591.7 1380C586.9 1388.6 584.2 1396.7 580 1405C575.8 1413.3 571.1 1421.2 566.7 1430C562.2 1438.8 555.6 1453.3 553.3 1458"/>
<path d="M665 1338.3C662.5 1340 655.8 1344.2 650 1348.3C644.2 1352.5 636.9 1357.5 630 1363.3C623.1 1369.2 615.3 1376.7 608.3 1383.3C601.4 1390 593.9 1397.8 588.3 1403.3C582.8 1408.9 577.2 1414.4 575 1416.7"/>
<path d="M809.8 1081.7L699.8 1144.2"/>
<path d="M686.5 1152.5L674 1160"/>
<path d="M948 1091.7L929.8 1101.7"/>
<path d="M916.5 1109.7L807.3 1172.5"/>
<path d="M793.2 1180.3L778.2 1189.7"/>
<path d="M764 1197.5L756.8 1202"/>
<path d="M939 1283L924 1291.7"/>
<path d="M909.8 1300.3L859 1328.3"/>
<path d="M674 1170C676.8 1171.4 684.6 1175.3 690.7 1178.3C696.8 1181.4 704.3 1185.3 710.7 1188.3C717.1 1191.4 724 1194 729 1196.7C734 1199.3 735.9 1200.6 740.7 1204.2C745.4 1207.8 750.4 1212.4 757.3 1218.3C764.3 1224.3 774 1232.9 782.3 1240C790.7 1247.1 800.4 1255 807.3 1260.8C814.3 1266.7 819 1270.4 824 1275C829 1279.6 833.2 1283.6 837.3 1288.3C841.5 1293.1 845.8 1298.6 849 1303.3C852.2 1308.1 854.8 1312.5 856.5 1316.7C858.2 1320.8 857.8 1324.4 859 1328.3C860.2 1332.2 862.1 1335.8 864 1340C865.9 1344.2 867.6 1348.6 870.7 1353.3C873.7 1358.1 878.2 1363.9 882.3 1368.3C886.5 1372.8 890.1 1375.6 895.7 1380C901.2 1384.4 909.8 1390 915.7 1395C921.5 1400 926.5 1404.7 930.7 1410C934.8 1415.3 938.2 1421.1 940.7 1426.7C943.2 1432.2 944.6 1438.1 945.7 1443.3C946.8 1448.6 947.1 1455.6 947.3 1458"/>
<path d="M674 1190C676.8 1191.7 685.7 1196.9 690.7 1200C695.7 1203.1 700.1 1206 704 1208.3C707.9 1210.7 711.6 1213.3 714 1214.2C716.4 1215 715.8 1214.2 718.2 1213.3C720.5 1212.4 726.5 1209.4 728.2 1208.7"/>
<path d="M674 1233C675.4 1232.8 679 1232.7 682.3 1231.7C685.7 1230.6 689.8 1228.6 694 1226.7C698.2 1224.7 703.2 1222.2 707.3 1220C711.5 1217.8 717.1 1214.4 719 1213.3"/>
<path d="M740.7 1214.7C739.3 1215.6 734.6 1217.7 732.3 1220C730.1 1222.3 728.5 1225.3 727.3 1228.3C726.2 1231.4 725.6 1235 725.3 1238.3C725.1 1241.7 724.8 1244.7 725.7 1248.3C726.6 1251.9 728.2 1256.4 730.7 1260C733.2 1263.6 736.2 1266.7 740.7 1270C745.1 1273.3 751.2 1276.7 757.3 1280C763.4 1283.3 770.7 1286.9 777.3 1290C784 1293.1 791.2 1296 797.3 1298.3C803.4 1300.7 809 1303.1 814 1304.2C819 1305.3 823.2 1305.4 827.3 1305C831.5 1304.6 837.1 1302.5 839 1302"/>
<path d="M736 1223.7C737.3 1224.7 740.4 1227.3 744 1230C747.6 1232.7 752.3 1236.1 757.3 1240C762.3 1243.9 768.4 1248.6 774 1253.3C779.6 1258.1 785.1 1263.3 790.7 1268.3C796.2 1273.3 802.6 1279 807.3 1283.3C812.1 1287.6 817.1 1292.4 819 1294.2"/>
<path d="M674 1240C674.8 1240.1 677.1 1239.6 679 1240.3C680.9 1241 683.4 1242.3 685.7 1244.2C687.9 1246.1 690.2 1248.9 692.3 1251.7C694.4 1254.4 696.5 1257.8 698.2 1260.8C699.8 1263.9 700.2 1267.1 702.3 1270C704.4 1272.9 707.1 1275.3 710.7 1278.3C714.3 1281.4 719 1285 724 1288.3C729 1291.7 735.1 1295.1 740.7 1298.3C746.2 1301.5 751.8 1304.4 757.3 1307.5C762.9 1310.6 769 1313.8 774 1316.7C779 1319.6 783.7 1322.2 787.3 1325C790.9 1327.8 793.2 1329.7 795.7 1333.3C798.2 1336.9 800.7 1341.7 802.3 1346.7C804 1351.7 805 1358.1 805.7 1363.3C806.4 1368.6 806.4 1375.8 806.5 1378.3"/>
<path d="M679 1270.8C679.8 1272.6 681.8 1277.9 684 1281.7C686.2 1285.4 689 1289.9 692.3 1293.3C695.7 1296.8 699.8 1299.6 704 1302.5C708.2 1305.4 712.6 1308.2 717.3 1310.8C722.1 1313.5 727.1 1315.4 732.3 1318.3C737.6 1321.2 743.4 1325.1 749 1328.3C754.6 1331.5 760.9 1334.7 765.7 1337.5C770.4 1340.3 774.1 1342.6 777.3 1345C780.5 1347.4 783.2 1349.2 784.8 1351.7C786.5 1354.2 787.2 1357.2 787.3 1360C787.5 1362.8 786.8 1366.1 785.7 1368.3C784.6 1370.6 782.9 1372.5 780.7 1373.3C778.4 1374.2 773.7 1373.3 772.3 1373.3"/>
<path d="M780.7 1367.5C779.6 1367.6 775.9 1367.4 774 1368C772.1 1368.6 769.8 1370.4 769 1370.8" stroke-width="4"/>
<path d="M674 1330C674.8 1328.3 677.3 1323.1 679 1320C680.7 1316.9 682.1 1313.6 684 1311.7C685.9 1309.8 688.2 1308.9 690.7 1308.7C693.2 1308.4 694.8 1308.1 699 1310C703.2 1311.9 708.7 1316.1 715.7 1320C722.6 1323.9 731.4 1328.2 740.7 1333.3C750 1338.5 766.4 1347.9 771.5 1350.8"/>
<path d="M677.3 1342.5L709 1360.5"/>
<path d="M709 1360.5C705.9 1363.8 696.5 1373.6 690.7 1380C684.8 1386.4 676.8 1396 674 1399.2"/>
<path d="M708.7 1370.8C708.2 1373.2 707.6 1378.8 705.7 1385C703.8 1391.2 700.7 1400.3 697.3 1408.3C694 1416.4 689.6 1426.1 685.7 1433.3C681.8 1440.6 675.9 1448.6 674 1451.7"/>
<path d="M768.2 1359.2C765.8 1362.4 757.7 1373.1 754 1378.3C750.3 1383.5 747.3 1388.3 746 1390.3"/>
<path d="M774 1370.8C771.8 1373.5 765.1 1380.6 760.7 1386.7C756.2 1392.8 749.6 1404 747.3 1407.5"/>
<path d="M769.8 1380C771.1 1380.8 773.9 1383.6 777.3 1385C780.8 1386.4 786.5 1387.9 790.7 1388.3C794.8 1388.8 798.7 1388.5 802.3 1387.5C805.9 1386.5 808.7 1384.6 812.3 1382.5C815.9 1380.4 820.4 1376.9 824 1375C827.6 1373.1 830.1 1371.5 834 1370.8C837.9 1370.1 843.2 1369.9 847.3 1370.8C851.5 1371.8 854.6 1374 859 1376.7C863.4 1379.3 868.7 1383.2 874 1386.7C879.3 1390.1 885.1 1393.6 890.7 1397.5C896.2 1401.4 902.3 1406 907.3 1410C912.3 1414 917.1 1416.9 920.7 1421.7C924.3 1426.4 927.1 1432.3 929 1438.3C930.9 1444.4 931.8 1454.7 932.3 1458"/>
<path d="M775.7 1405.8C777.6 1406.8 782.9 1410.4 787.3 1411.7C791.8 1412.9 797.9 1413.5 802.3 1413.3C806.8 1413.2 810.1 1412.5 814 1410.8C817.9 1409.2 822.1 1406.1 825.7 1403.3C829.3 1400.6 832.1 1395.7 835.7 1394.2C839.3 1392.6 843.2 1392.9 847.3 1394.2C851.5 1395.4 854.8 1398.8 860.7 1401.7C866.5 1404.6 875.9 1408.3 882.3 1411.7C888.7 1415 894.8 1418.3 899 1421.7C903.2 1425 905.7 1427.5 907.3 1431.7C909 1435.8 909 1442.3 909 1446.7C909 1451.1 907.6 1456.1 907.3 1458"/>
<path d="M743.2 1414.2C745.5 1415.7 752.8 1419.9 757.3 1423.3C761.9 1426.8 766.5 1431.1 770.7 1435C774.8 1438.9 779.3 1442.8 782.3 1446.7C785.4 1450.5 787.9 1456.1 789 1458"/>
<path d="M812.3 1418C814.3 1419.2 819.3 1422.4 824 1425C828.7 1427.6 835.7 1430.3 840.7 1433.3C845.7 1436.4 850.4 1440.3 854 1443.3C857.6 1446.4 860.1 1449.2 862.3 1451.7C864.6 1454.1 866.5 1456.9 867.3 1458"/>
<path d="M859 1328.3C857.6 1327.5 853.4 1325.1 850.7 1323.3C847.9 1321.5 845.4 1318.9 842.3 1317.5C839.3 1316.1 835.4 1314.9 832.3 1315C829.3 1315.1 825.8 1316.4 824 1318.3C822.2 1320.3 821.9 1321.9 821.5 1326.7C821.1 1331.4 821.1 1341.9 821.5 1346.7C821.9 1351.4 822.2 1353.2 824 1355C825.8 1356.8 829.6 1356.6 832.3 1357.5C835.1 1358.4 839.3 1359.9 840.7 1360.3"/>
<path d="M858.9 1329.5C859.3 1329.7 859.7 1330 860.1 1330.3C860.5 1330.7 860.9 1331 861.2 1331.4C861.5 1331.9 861.8 1332.3 862.1 1332.8C862.3 1333.3 862.6 1333.8 862.7 1334.4C862.9 1334.9 863.1 1335.5 863.2 1336.1C863.3 1336.7 863.4 1337.3 863.4 1338C863.5 1338.7 863.5 1339.3 863.5 1340C863.4 1340.7 863.4 1341.4 863.3 1342.1C863.1 1342.8 863 1343.6 862.8 1344.3C862.6 1345 862.4 1345.8 862.2 1346.5C861.9 1347.2 861.6 1347.9 861.3 1348.6C861 1349.3 860.6 1350.1 860.3 1350.7C859.9 1351.4 859.5 1352.1 859.1 1352.7C858.6 1353.4 858.2 1354 857.7 1354.6C857.2 1355.2 856.7 1355.8 856.2 1356.3C855.7 1356.9 855.1 1357.4 854.6 1357.9C854 1358.3 853.5 1358.8 852.9 1359.2C852.4 1359.6 851.8 1359.9 851.2 1360.2C850.6 1360.6 850 1360.8 849.5 1361.1C848.9 1361.3 848.3 1361.5 847.7 1361.6C847.2 1361.7 846.6 1361.8 846.1 1361.9C845.5 1361.9 845 1361.9 844.5 1361.8C843.9 1361.8 843.4 1361.7 843 1361.5C842.5 1361.4 842 1361.2 841.6 1360.9C841.1 1360.7 840.7 1360.4 840.3 1360.1C840 1359.8 839.6 1359.4 839.3 1359C838.9 1358.6 838.6 1358.1 838.4 1357.6C838.1 1357.2 837.9 1356.6 837.7 1356.1C837.5 1355.5 837.4 1354.9 837.2 1354.3C837.1 1353.7 837.1 1353.1 837 1352.4C837 1351.8 837 1351.1 837 1350.4C837 1349.7 837.1 1349 837.2 1348.3C837.3 1347.6 837.5 1346.9 837.6 1346.1C837.8 1345.4 838 1344.7 838.3 1343.9C838.5 1343.2 838.8 1342.5 839.1 1341.8C839.5 1341.1 839.8 1340.4 840.2 1339.7C840.6 1339 841 1338.3 841.4 1337.7C841.8 1337 842.3 1336.4 842.8 1335.8C843.3 1335.2 843.8 1334.6 844.3 1334.1C844.8 1333.5 845.3 1333 845.9 1332.6C846.4 1332.1 847 1331.7 847.5 1331.3C848.1 1330.9 848.7 1330.5 849.3 1330.2C849.8 1329.9 850.4 1329.6 851 1329.4C851.6 1329.1 852.1 1329 852.7 1328.8C853.3 1328.7 853.8 1328.6 854.4 1328.6C854.9 1328.5 855.5 1328.5 856 1328.6C856.5 1328.6 857 1328.7 857.5 1328.9C858 1329 858.5 1329.2 858.9 1329.5Z"/>
<path d="M200 1562.5L239.2 1585.8"/>
<path d="M235.8 1623.3C235.8 1621.1 235.3 1614.2 235.8 1610C236.4 1605.8 237.4 1602.2 239.2 1598.3C241 1594.4 243.8 1590 246.7 1586.7C249.6 1583.3 253.6 1580.1 256.7 1578.3C259.7 1576.6 263.1 1576.5 265 1576.3C266.9 1576.2 267.8 1577.3 268.3 1577.5"/>
<path d="M268.3 1577.5L290.8 1589.2"/>
<path d="M403.3 1458C402.2 1460 400.6 1464.4 396.7 1470C392.8 1475.6 385.6 1484.4 380 1491.7C374.4 1498.9 368.9 1506.4 363.3 1513.3C357.8 1520.3 352.8 1526.1 346.7 1533.3C340.6 1540.6 333.1 1548.9 326.7 1556.7C320.3 1564.4 314.4 1574.3 308.3 1580C302.2 1585.7 295.8 1587.6 290 1590.8C284.2 1594 278.3 1597.2 273.3 1599.2C268.3 1601.1 263.9 1601 260 1602.5C256.1 1604 253.8 1605.3 250 1608.3C246.2 1611.4 240.6 1616.7 237.5 1620.8C234.4 1625 233.1 1629 231.7 1633.3C230.2 1637.6 229.2 1644.4 228.7 1646.7"/>
<path d="M456.7 1458C455 1460.6 451.9 1466.9 446.7 1473.3C441.4 1479.8 432.8 1489 425 1496.7C417.2 1504.3 406.9 1513.5 400 1519.2C393.1 1524.9 388.9 1526.8 383.3 1530.8C377.8 1534.9 372.2 1539.3 366.7 1543.3C361.1 1547.4 356.1 1551 350 1555C343.9 1559 335.8 1563.9 330 1567.5C324.2 1571.1 318.6 1574.4 315 1576.7C311.4 1578.9 309.4 1580.1 308.3 1580.8"/>
<path d="M440 1458C439.4 1458.9 438.3 1461.3 436.7 1463.3C435 1465.3 431.1 1468.9 430 1470"/>
<path d="M397.5 1481.3C399.3 1480.4 403.8 1477.2 408.3 1475.8C412.9 1474.5 419.7 1474 425 1473.3C430.3 1472.6 436.1 1472.6 440 1471.7C443.9 1470.7 446.9 1468.2 448.3 1467.5"/>
<path d="M393.3 1497.5C394.4 1496.7 397.2 1493.8 400 1492.5C402.8 1491.2 406.4 1489.9 410 1489.7C413.6 1489.4 419.7 1490.6 421.7 1490.8"/>
<path d="M348.3 1530.8C350.3 1530.3 355.6 1528.2 360 1527.5C364.4 1526.8 370 1526.8 375 1526.7C380 1526.5 387.5 1526.7 390 1526.7"/>
<path d="M330 1567.5C331.4 1565.4 335.3 1558.5 338.3 1555C341.4 1551.5 344.7 1548.6 348.3 1546.7C351.9 1544.8 358.1 1544.2 360 1543.7"/>
<path d="M333.3 1564.2C335.3 1562.9 340.6 1559.7 345 1556.7C349.4 1553.6 357.5 1547.6 360 1545.8"/>
<path d="M275 1605L328.3 1635"/>
<path d="M250 1611.7C251.4 1611.5 255.6 1610.7 258.3 1610.8C261.1 1611 265.3 1612.2 266.7 1612.5"/>
<path d="M266.7 1612.5L316.7 1641.7"/>
<path d="M256.7 1654.2C258.1 1652.5 261.9 1646.8 265 1644.2C268.1 1641.5 271.4 1639.9 275 1638.3C278.6 1636.8 282.8 1635.7 286.7 1635C290.6 1634.3 294.7 1633.8 298.3 1634.2C301.9 1634.6 306.7 1636.9 308.3 1637.5"/>
<path d="M257.5 1659.2C259.6 1658.2 265.7 1654.9 270 1653.3C274.3 1651.8 278.1 1650.7 283.3 1650C288.6 1649.3 298.6 1649.3 301.7 1649.2"/>
<path d="M200 1664.2C201.1 1662.4 203.6 1656.5 206.7 1653.3C209.7 1650.1 214.7 1646.4 218.3 1645C221.9 1643.6 226.7 1645 228.3 1645"/>
<path d="M228.3 1645L261.7 1665"/>
<path d="M400 1603.3C394.4 1606.4 377.8 1615.8 366.7 1621.7C355.6 1627.5 344.4 1633.3 333.3 1638.3C322.2 1643.3 311.1 1647.2 300 1651.7C288.9 1656.1 275.6 1660.8 266.7 1665C257.8 1669.2 252.2 1673.3 246.7 1676.7C241.1 1680 237.8 1682.9 233.3 1685C228.9 1687.1 223.9 1689.2 220 1689.2C216.1 1689.2 213.3 1686.5 210 1685C206.7 1683.5 201.7 1680.8 200 1680"/>
<path d="M200 1676.3C202.2 1675.9 208.3 1673.9 213.3 1673.7C218.3 1673.4 224.9 1674.4 230 1675C235.1 1675.6 241.8 1677.1 244.2 1677.5"/>
<path d="M264.2 1681.7C267.4 1680.3 276 1676.4 283.3 1673.3C290.7 1670.3 301.4 1666.1 308.3 1663.3C315.3 1660.6 320 1658.1 325 1656.7C330 1655.3 334.2 1654.7 338.3 1655C342.5 1655.3 345.3 1656.1 350 1658.3C354.7 1660.6 361.1 1665 366.7 1668.3C372.2 1671.7 378.3 1674.7 383.3 1678.3C388.3 1681.9 392.8 1685.3 396.7 1690C400.6 1694.7 405 1703.9 406.7 1706.7"/>
<path d="M257.5 1685C261.8 1686.7 274.9 1691.7 283.3 1695C291.8 1698.3 300.6 1701.9 308.3 1705C316.1 1708.1 326.4 1711.9 330 1713.3"/>
<path d="M281.7 1688.3C283.1 1687.6 287.5 1684.6 290 1684.2C292.5 1683.8 292.8 1683.5 296.7 1685.8C300.6 1688.2 307.5 1694.3 313.3 1698.3C319.2 1702.4 328.6 1708.1 331.7 1710"/>
<path d="M303.3 1684.2C305.6 1683.2 312.5 1680.8 316.7 1678.3C320.8 1675.8 326.4 1670.7 328.3 1669.2"/>
<path d="M330.8 1664.2C332.6 1666.2 337.6 1671.8 341.7 1676.7C345.7 1681.5 350.8 1688.1 355 1693.3C359.2 1698.6 364.7 1705.8 366.7 1708.3"/>
<path d="M401.7 1681.7C403.3 1682.5 408.6 1684.2 411.7 1686.7C414.7 1689.2 417.9 1693.3 420 1696.7C422.1 1700 423.5 1705 424.2 1706.7"/>
<path d="M400 1675.8L395.8 1677.5"/>
<path d="M562.9 1440C560.8 1443.8 555.6 1454.2 550.4 1462.6C545.1 1470.9 537.8 1481.4 531.6 1490.1C525.3 1498.9 520.1 1506.8 512.8 1515.2C505.5 1523.5 496.1 1532.7 487.7 1540.2C479.4 1547.8 471 1553.8 462.7 1560.3C454.3 1566.8 444.9 1573.9 437.6 1579.1C430.3 1584.3 425.1 1588 418.8 1591.6C412.5 1595.3 403.1 1599.4 400 1601"/>
<path d="M606 1506.4C604.7 1509.1 601.2 1516.4 598 1522.7C594.8 1529 591.5 1537.1 586.7 1544C581.9 1550.9 575.2 1557.8 569.2 1564.1C563.1 1570.3 557.7 1575.3 550.4 1581.6C543.1 1587.9 532.6 1596 525.3 1601.6C518 1607.3 512.8 1610.8 506.5 1615.4C500.2 1620 493.8 1625 487.7 1629.2C481.7 1633.4 474.8 1637.1 470.2 1640.5C465.6 1643.8 463.1 1646.3 460.1 1649.3C457.2 1652.2 453.9 1656.6 452.6 1658"/>
<path d="M452.6 1658.7L400 1676.8"/>
<path d="M452.6 1658.7C451.2 1659.2 446 1660.6 443.9 1661.8C441.7 1662.9 440.3 1663.7 439.5 1665.5C438.6 1667.4 438.5 1670.6 438.8 1673.1C439.2 1675.6 439.9 1678.3 441.4 1680.6C442.8 1682.9 444.5 1684.6 447.6 1686.8C450.7 1689.1 456.4 1692.1 460.1 1694.4C463.9 1696.7 467.9 1698.3 470.2 1700.6C472.5 1702.9 473.3 1704.3 473.9 1708.2C474.6 1712 473.9 1721.3 473.9 1723.9"/>
<path d="M606 1523.3C604.5 1525.7 599.9 1533.2 596.7 1537.7C593.5 1542.2 590.7 1545.7 586.7 1550.3C582.7 1554.9 577.9 1560.1 572.9 1565.3C567.9 1570.5 561.9 1576.6 556.6 1581.6C551.4 1586.6 544.6 1592 541.6 1595.4C538.6 1598.7 539.1 1599.3 538.5 1601.6C537.8 1603.9 537.5 1605.8 537.8 1609.2C538.1 1612.5 539.5 1617.7 540.3 1621.7C541.2 1625.7 541.8 1630.5 542.8 1633C543.9 1635.5 545.1 1635.5 546.6 1636.7C548.1 1638 550.6 1638.8 551.6 1640.5C552.7 1642.2 553.3 1644.9 552.9 1646.8C552.5 1648.6 550.6 1650.4 549.1 1651.8C547.7 1653.1 546.8 1654.4 544.1 1654.9C541.4 1655.4 536 1655.4 532.8 1654.9C529.7 1654.4 528.6 1653.7 525.3 1651.8C522 1649.8 517 1646.1 512.8 1643C508.6 1639.9 502.3 1634.6 500.2 1633"/>
<path d="M500.2 1633C500.5 1632.1 499.8 1629.8 501.5 1628C503.2 1626.1 506.7 1624.2 510.3 1621.7C513.8 1619.2 519.9 1614.6 522.8 1613.2C525.7 1611.8 527 1613.2 527.8 1613.2"/>
<path d="M527.8 1613.2L530.9 1625.5L534.1 1639.2"/>
<path d="M539.7 1606.7C545.2 1606.4 565.9 1604.9 572.9 1605.2C579.9 1605.4 577.9 1606 581.7 1607.9C585.5 1609.8 591.4 1614.2 595.5 1616.7C599.5 1619.2 604.2 1621.9 606 1622.9"/>
<path d="M565.4 1578.5C566.7 1579.8 570.8 1583.5 572.9 1586.6C575 1589.7 577.1 1595.5 577.9 1597.3"/>
<path d="M581.7 1563.4C582.7 1565 585.7 1568.8 588 1572.8C590.3 1576.9 592.5 1581.8 595.5 1587.9C598.5 1593.9 604.2 1605.6 606 1609.2"/>
<path d="M588 1550.3C589.6 1552.4 595 1558.4 598 1562.8C601 1567.2 604.7 1574.3 606 1576.6"/>
<path d="M452.6 1658.7L537.8 1713.2L544.1 1715.7"/>
<path d="M606 1630.5C603 1633.4 594.1 1641.5 588 1648C581.8 1654.5 575.4 1661.8 569.2 1669.3C562.9 1676.8 555.5 1685.8 550.4 1693.1C545.2 1700.4 540.4 1709.8 538.5 1713.2"/>
<path d="M606 1645.5C603 1648.8 594.1 1658.4 588 1665.5C581.8 1672.6 574.4 1681.8 569.2 1688.1C563.9 1694.4 560.8 1697.9 556.6 1703.1C552.5 1708.4 546.2 1716.7 544.1 1719.4"/>
<path d="M556.6 1704.4C557.7 1704.8 561.4 1705.2 562.9 1706.9C564.4 1708.6 565.6 1712.1 565.4 1714.4C565.2 1716.7 563.3 1719.1 561.6 1720.7C560 1722.3 556.4 1723.4 555.4 1723.9"/>
<path d="M599.2 1651.8C599.7 1653.6 600.6 1660.1 601.7 1663C602.9 1666 605.3 1668.3 606 1669.3"/>
<path d="M573.5 1681.2C575.9 1680.8 583.9 1679 588 1678.7C592 1678.4 595 1678.7 598 1679.3C601 1680 604.7 1681.9 606 1682.5"/>
<path d="M527.8 1723.9C529.1 1722.9 532.6 1718.9 535.3 1717.5C538 1716.2 542.6 1716 544.1 1715.7"/>
<path d="M606 1700.6C603 1702.1 593.5 1706.3 588 1709.4C582.4 1712.5 576.1 1717 572.9 1719.4C569.8 1721.9 569.8 1723.2 569.2 1723.9"/>
<path d="M123.3 1705.8C125.3 1704.3 130 1699.4 135 1696.7C140 1693.9 146.4 1690.3 153.3 1689.2C160.3 1688.1 168.6 1688.6 176.7 1690C184.7 1691.4 193.3 1693.6 201.7 1697.5C210 1701.4 218.3 1706 226.7 1713.3C235 1720.7 243.6 1729.4 251.7 1741.7C259.7 1753.9 269.4 1771.7 275 1786.7C280.6 1801.7 283.5 1818.6 285 1831.7C286.5 1844.7 285.6 1855.6 284.2 1865C282.8 1874.4 279 1882.9 276.7 1888.3C274.3 1893.8 272.8 1894.7 270 1897.5C267.2 1900.3 264.2 1902.1 260 1905C255.8 1907.9 247.5 1913.3 245 1915"/>
<path d="M180 1692C183.6 1693.9 194.2 1698.4 201.7 1703.3C209.2 1708.3 218.1 1715.3 225 1721.7C231.9 1728.1 237.5 1733.3 243.3 1741.7C249.2 1750 255.3 1761.9 260 1771.7C264.7 1781.4 268.6 1790.6 271.7 1800C274.7 1809.4 276.7 1818.9 278.3 1828.3C280 1837.8 281.4 1848.6 281.7 1856.7C281.9 1864.7 280.3 1873.3 280 1876.7"/>
<path d="M115.3 1861.2C117 1863.6 121.8 1870.9 125.3 1875.4C128.8 1879.9 132.4 1884.3 136.2 1888.3C140 1892.4 143.9 1896.3 147.9 1899.8C151.9 1903.3 156 1906.6 160.1 1909.6C164.2 1912.5 168.4 1915.1 172.6 1917.4C176.8 1919.7 181 1921.6 185.1 1923.2C189.3 1924.7 193.4 1925.9 197.4 1926.7C201.4 1927.5 205.4 1928 209.2 1928C213 1928.1 216.8 1927.7 220.3 1927C223.9 1926.3 227.3 1925.2 230.5 1923.8C233.7 1922.3 236.7 1920.5 239.5 1918.3C242.2 1916.2 244.8 1913.6 247.1 1910.8C249.4 1907.9 251.5 1904.7 253.3 1901.3C255.1 1897.8 256.6 1894 257.9 1890C259.1 1886 260.1 1881.7 260.7 1877.3C261.4 1872.8 261.8 1868.1 261.8 1863.3C261.9 1858.4 261.7 1853.4 261.1 1848.3C260.6 1843.2 259.8 1837.9 258.7 1832.6C257.6 1827.3 256.2 1821.9 254.5 1816.6C252.8 1811.2 250.9 1805.8 248.7 1800.5C246.5 1795.3 244 1789.9 241.3 1784.8C238.6 1779.7 235.7 1774.6 232.6 1769.7C229.5 1764.8 226.2 1760 222.7 1755.5C219.2 1750.9 215.6 1746.6 211.8 1742.5C208 1738.4 204.1 1734.5 200.1 1731C196.2 1727.4 192 1724.1 187.9 1721.2C183.8 1718.2 179.6 1715.6 175.4 1713.3C171.3 1711 167.1 1709 162.9 1707.5C158.8 1705.9 154.6 1704.7 150.6 1703.8C146.6 1703 142.6 1702.5 138.8 1702.5C135 1702.4 131.2 1702.7 127.7 1703.4C124.1 1704.1 120.7 1705.1 117.5 1706.6C114.3 1708 111.2 1709.8 108.5 1712C105.7 1714.1 103.1 1716.6 100.7 1719.5C98.4 1722.3 96.3 1725.5 94.5 1728.9C92.7 1732.3 91.2 1736.1 89.9 1740.1C88.7 1744.1 87.7 1748.4 87 1752.8C86.3 1757.3 85.9 1762 85.9 1766.8C85.8 1771.6 86 1776.7 86.5 1781.8C87 1786.9 87.8 1792.1 88.9 1797.4C90 1802.7 91.4 1808.1 93.1 1813.4C94.7 1818.8 96.7 1824.2 98.8 1829.5C101 1834.8 104.9 1842.6 106.1 1845.2"/>
<path d="M120.7 1857.6C122.2 1859.7 126.8 1866.3 130 1870.4C133.2 1874.5 136.6 1878.5 140.1 1882.1C143.6 1885.8 147.2 1889.3 150.9 1892.5C154.5 1895.6 158.3 1898.6 162.1 1901.2C165.8 1903.9 169.7 1906.2 173.5 1908.2C177.3 1910.3 181.1 1912 184.8 1913.4C188.6 1914.7 192.3 1915.8 195.9 1916.5C199.5 1917.2 203.1 1917.5 206.5 1917.6C209.9 1917.6 213.3 1917.2 216.4 1916.6C219.5 1915.9 222.6 1914.8 225.4 1913.5C228.2 1912.1 230.9 1910.4 233.3 1908.4C235.7 1906.4 238 1904.1 240 1901.5C242 1898.9 243.7 1895.9 245.2 1892.8C246.8 1889.6 248 1886.1 249 1882.5C250 1878.8 250.8 1874.9 251.3 1870.8C251.8 1866.7 252 1862.4 251.9 1858C251.8 1853.6 251.5 1849 250.9 1844.4C250.3 1839.7 249.4 1834.9 248.3 1830.1C247.2 1825.3 245.8 1820.4 244.2 1815.5C242.5 1810.7 240.7 1805.7 238.6 1800.9C236.5 1796.1 234.1 1791.3 231.6 1786.6C229.1 1781.9 226.3 1777.3 223.4 1772.9C220.5 1768.4 217.4 1764.1 214.2 1760C211 1755.9 207.6 1751.9 204.1 1748.2C200.7 1744.5 197.1 1741 193.4 1737.7C189.8 1734.5 186 1731.5 182.2 1728.9C178.5 1726.2 174.6 1723.8 170.9 1721.7C167.1 1719.6 163.2 1717.9 159.5 1716.4C155.7 1715 152 1713.9 148.4 1713.2C144.8 1712.4 141.2 1712 137.7 1711.9C134.3 1711.9 130.9 1712.2 127.8 1712.8C124.6 1713.4 121.6 1714.4 118.7 1715.7C115.9 1717 113.2 1718.7 110.7 1720.6C108.3 1722.6 106 1724.9 104 1727.4C101.9 1730 100.1 1732.9 98.6 1736C97 1739.2 95.7 1742.6 94.7 1746.2C93.6 1749.8 92.8 1753.7 92.3 1757.8C91.8 1761.8 91.5 1766.1 91.6 1770.5C91.6 1774.9 91.9 1779.5 92.4 1784.1C93 1788.7 93.8 1793.5 94.9 1798.3C96 1803.1 97.4 1808 98.9 1812.9C100.5 1817.7 102.4 1822.7 104.4 1827.5C106.5 1832.3 110.2 1839.4 111.3 1841.8"/>
<path d="M186.7 1723.3C190.6 1727.2 202.8 1737.8 210 1746.7C217.2 1755.6 224.4 1766.7 230 1776.7C235.6 1786.7 239.6 1796.1 243.3 1806.7C247.1 1817.2 250.4 1829.4 252.5 1840C254.6 1850.6 255.7 1861.1 255.8 1870C256 1878.9 255.4 1886.1 253.3 1893.3C251.2 1900.6 246.7 1908.6 243.3 1913.3C240 1918.1 235 1920.3 233.3 1921.7"/>
<path d="M200.8 1804.2L90 1867.5"/>
<path d="M75.8 1875L60 1883.3"/>
<path d="M60 1914.2L131.7 1955.8"/>
<path d="M145.8 1963.3L160.8 1972.5"/>
<path d="M175 1980.8L241.7 2018"/>
<path d="M270.8 1899.2L334 1936.7"/>
<path d="M153.3 1685C155.6 1684 162.2 1680.6 166.7 1679.2C171.1 1677.8 175.3 1676.9 180 1676.7C184.7 1676.4 192.5 1677.4 195 1677.5"/>
<path d="M195 1676.7C195.6 1674.7 196.4 1668.9 198.3 1665C200.3 1661.1 203.3 1656.5 206.7 1653.3C210 1650.1 214.7 1647.2 218.3 1645.8C221.9 1644.4 226.7 1645.1 228.3 1645"/>
<path d="M228.3 1645L265 1666.7"/>
<path d="M228.3 1640L228.3 1645"/>
<path d="M198.3 1677.5C200.3 1676.9 205.3 1674.6 210 1674.2C214.7 1673.8 221.1 1674.4 226.7 1675C232.2 1675.6 240.6 1677.1 243.3 1677.5"/>
<path d="M198.3 1678.3C200.3 1679.4 206.4 1683.2 210 1685C213.6 1686.8 216.7 1688.8 220 1689.2C223.3 1689.6 226.4 1689 230 1687.5C233.6 1686 239.7 1681.2 241.7 1680"/>
<path d="M180.8 1692.5L226.7 1708.3L301.7 1736.7"/>
<path d="M225 1723.3L276.7 1740"/>
<path d="M243.3 1738.3C243.6 1737.8 243.6 1735.7 245 1735C246.4 1734.3 248.6 1733.6 251.7 1734.2C254.7 1734.7 260 1736.2 263.3 1738.3C266.7 1740.4 269.9 1743.6 271.7 1746.7C273.5 1749.7 273.7 1755 274.2 1756.7"/>
<path d="M276.7 1741.7C278.1 1741.4 281.7 1740 285 1740C288.3 1740 292.8 1739.7 296.7 1741.7C300.6 1743.6 305.3 1747.8 308.3 1751.7C311.4 1755.6 313.5 1760.6 315 1765C316.5 1769.4 317.2 1774.2 317.5 1778.3C317.8 1782.5 316.8 1788.1 316.7 1790"/>
<path d="M276.7 1743.3C276.2 1745.6 274.2 1752.2 274.2 1756.7C274.2 1761.1 275.1 1765.6 276.7 1770C278.2 1774.4 280.6 1779.4 283.3 1783.3C286.1 1787.2 289.7 1791 293.3 1793.3C296.9 1795.7 301.1 1797.5 305 1797.5C308.9 1797.5 313.5 1795 316.7 1793.3C319.9 1791.7 322.9 1788.5 324.2 1787.5"/>
<path d="M303.1 1764.5C303.4 1765.1 303.7 1765.6 304 1766.2C304.3 1766.8 304.6 1767.4 304.8 1768C305.1 1768.6 305.3 1769.2 305.5 1769.8C305.7 1770.4 305.9 1771 306 1771.5C306.1 1772.1 306.3 1772.7 306.4 1773.2C306.4 1773.8 306.5 1774.3 306.5 1774.9C306.6 1775.4 306.6 1775.9 306.5 1776.4C306.5 1776.9 306.5 1777.3 306.4 1777.8C306.3 1778.2 306.2 1778.6 306 1779C305.9 1779.3 305.7 1779.7 305.5 1780C305.4 1780.3 305.1 1780.6 304.9 1780.8C304.6 1781.1 304.4 1781.3 304.1 1781.5C303.8 1781.6 303.5 1781.8 303.2 1781.8C302.8 1781.9 302.5 1782 302.1 1782C301.7 1782 301.4 1782 301 1781.9C300.6 1781.9 300.2 1781.8 299.7 1781.6C299.3 1781.5 298.9 1781.3 298.5 1781.1C298 1780.9 297.6 1780.7 297.1 1780.4C296.7 1780.1 296.3 1779.8 295.8 1779.4C295.4 1779.1 294.9 1778.7 294.5 1778.3C294.1 1777.9 293.6 1777.4 293.2 1777C292.8 1776.5 292.4 1776 292 1775.5C291.6 1775 291.2 1774.5 290.8 1773.9C290.5 1773.4 290.1 1772.8 289.8 1772.3C289.4 1771.7 289.1 1771.1 288.8 1770.5C288.5 1769.9 288.3 1769.3 288 1768.8C287.8 1768.2 287.6 1767.6 287.4 1767C287.2 1766.4 287 1765.8 286.8 1765.2C286.7 1764.6 286.6 1764.1 286.5 1763.5C286.4 1763 286.3 1762.4 286.3 1761.9C286.3 1761.4 286.3 1760.9 286.3 1760.4C286.3 1759.9 286.4 1759.4 286.5 1759C286.5 1758.6 286.7 1758.2 286.8 1757.8C286.9 1757.4 287.1 1757.1 287.3 1756.8C287.5 1756.4 287.7 1756.2 288 1755.9C288.2 1755.7 288.5 1755.5 288.8 1755.3C289 1755.1 289.4 1755 289.7 1754.9C290 1754.8 290.4 1754.8 290.7 1754.7C291.1 1754.7 291.5 1754.8 291.9 1754.8C292.3 1754.9 292.7 1755 293.1 1755.1C293.5 1755.2 294 1755.4 294.4 1755.6C294.8 1755.8 295.3 1756.1 295.7 1756.4C296.1 1756.7 296.6 1757 297 1757.3C297.5 1757.7 297.9 1758.1 298.3 1758.5C298.8 1758.9 299.2 1759.3 299.6 1759.8C300 1760.2 300.5 1760.7 300.9 1761.2C301.2 1761.7 301.6 1762.3 302 1762.8C302.4 1763.4 302.7 1763.9 303.1 1764.5Z"/>
<path d="M300 1800C300.3 1801.7 301.7 1806.4 301.7 1810C301.7 1813.6 301.4 1818.8 300 1821.7C298.6 1824.6 295.6 1827.4 293.3 1827.5C291.1 1827.6 287.8 1823.3 286.7 1822.5"/>
<path d="M310 1800.8L296.7 1840L284.2 1873.3"/>
<path d="M309.2 1872.5L327.5 1808.3L334 1880"/>
<path d="M311.7 1883.3C313.3 1884.4 317.9 1888.3 321.7 1890C325.4 1891.7 331.9 1892.8 334 1893.3"/>
<path d="M674.1 1396.3C671.6 1400.3 664.1 1411.7 659 1420.1C654 1428.5 649.2 1437.4 644 1446.4C638.8 1455.4 633.4 1465 627.7 1474C622.1 1483 613.8 1495 610.2 1500.3C606.6 1505.6 606.7 1505 606 1505.9"/>
<path d="M657.2 1445.2C656 1447.7 653.1 1454.8 650.3 1460.2C647.4 1465.6 644 1471.7 640.2 1477.7C636.5 1483.8 632.7 1489.2 627.7 1496.5C622.7 1503.8 613.8 1516.6 610.2 1521.6C606.6 1526.6 606.7 1525.8 606 1526.6"/>
<path d="M674 1451.7C672.3 1453.3 667 1458.6 664.1 1461.4C661.1 1464.3 659 1467.1 656.5 1469C654 1470.8 651.2 1472 649 1472.7C646.8 1473.5 644.3 1473.2 643.4 1473.4"/>
<path d="M746 1385C743.6 1388.4 736.4 1397.5 731.7 1405.1C727 1412.6 722.3 1421.4 717.9 1430.1C713.5 1438.9 709.4 1448.1 705.4 1457.7C701.4 1467.3 697.7 1477.7 694.1 1487.8C690.6 1497.8 687.2 1508 684.1 1517.8C681 1527.7 677.6 1538.3 675.3 1546.7C673 1555 671.4 1562.9 670.3 1568C669.3 1573 669.3 1575.3 669.1 1576.7"/>
<path d="M746 1406.3C744.2 1408.8 739.5 1414.5 735.5 1421.4C731.4 1428.2 726.1 1438.3 721.7 1447.7C717.3 1457.1 713.1 1467.3 709.2 1477.7C705.2 1488.2 701.2 1499.9 697.9 1510.3C694.5 1520.8 691.4 1531.8 689.1 1540.4C686.8 1549 685.2 1556.3 684.1 1561.7C683 1567.1 682.5 1571.1 682.2 1573"/>
<path d="M704.8 1505.9L726.1 1524.7"/>
<path d="M726.1 1531L693.5 1555.4"/>
<path d="M720.4 1537.9L725.5 1554.2"/>
<path d="M746 1530.4L728 1553.5"/>
<path d="M690.4 1565.5C694.5 1563.8 706.2 1558 715.4 1555.4C724.7 1552.8 740.9 1550.7 746 1549.8"/>
<path d="M684.1 1566.7C684.9 1567.7 688 1570.3 689.1 1573C690.3 1575.7 690.8 1580.5 691 1583C691.2 1585.5 690.5 1587.2 690.4 1588"/>
<path d="M644 1606.2C647.6 1604.4 657.6 1598.8 665.3 1595.5C673 1592.3 681 1589.9 690.4 1586.8C699.8 1583.6 712.4 1579.4 721.7 1576.7C731 1574 741.9 1571.5 746 1570.5"/>
<path d="M632.7 1624.3C634 1623.3 634.8 1621.4 640.2 1618.1C645.7 1614.7 655.9 1608.5 665.3 1604.3C674.7 1600.1 683.2 1596.8 696.6 1593C710.1 1589.3 737.8 1583.6 746 1581.7"/>
<path d="M622.7 1510.9C624.2 1513.1 628.5 1518.8 631.5 1524.1C634.4 1529.4 637.5 1536.6 640.2 1542.9C643 1549.2 645.7 1556.1 647.8 1561.7C649.8 1567.3 651.9 1574.2 652.8 1576.7"/>
<path d="M610.8 1526.6C613.2 1529.5 621.1 1538.5 625.2 1544.1C629.3 1549.8 632.4 1555.6 635.2 1560.4C638.1 1565.2 641 1570.9 642.1 1573"/>
<path d="M587 1549.8C589 1552 595.2 1557.8 598.9 1562.9C602.5 1568.1 606.2 1575.1 608.9 1580.5C611.6 1585.9 613.3 1591.3 615.2 1595.5C617.1 1599.7 618.9 1602.4 620.2 1605.5C621.4 1608.7 622.3 1612.9 622.7 1614.3"/>
<path d="M582 1564.2C583.8 1566.9 589.2 1574.6 592.6 1580.5C596.1 1586.3 599.8 1593.4 602.7 1599.3C605.5 1605.1 608.4 1612.9 609.5 1615.6"/>
<path d="M565.7 1579.2C567 1580.9 571.8 1586.3 573.8 1589.3C575.8 1592.2 577 1595.5 577.6 1596.8"/>
<path d="M613.3 1585.5C615.7 1584.8 622.8 1582.2 627.7 1581.5C632.6 1580.8 638.6 1580.7 642.7 1581.1C646.9 1581.6 649.8 1582.9 652.8 1584.2C655.7 1585.6 657.4 1588 660.3 1589.3C663.2 1590.5 667 1591.8 670.3 1591.8C673.7 1591.8 677 1590.3 680.3 1589.3C683.7 1588.2 688.7 1586.1 690.4 1585.5"/>
<path d="M606 1623.1C607.6 1623.3 612 1625 615.2 1624.3C618.4 1623.7 622.9 1621.2 625.2 1619.3C627.5 1617.5 628.5 1615.2 629 1613.1C629.4 1611 629 1608.7 627.7 1606.8C626.5 1604.9 622.5 1602.6 621.4 1601.8"/>
<path d="M632.7 1624.3C632.2 1625.2 630 1627.1 629.6 1629.4C629.2 1631.7 629.5 1634.2 630.2 1638.1C630.9 1642.1 632.9 1648.9 634 1653.2C635 1657.5 636.1 1662.1 636.5 1663.9"/>
<path d="M606.4 1627.5L606 1628.1"/>
<path d="M611.4 1640.6C612.5 1640.6 616 1639.2 617.7 1640.6C619.4 1642.1 620 1645.5 621.4 1649.4C622.9 1653.3 625.6 1661.5 626.5 1663.9"/>
<path d="M636.5 1645.6C643.4 1645.5 666.8 1646.5 677.8 1645C688.9 1643.6 694.5 1639.1 702.9 1636.9C711.2 1634.7 720.8 1632.9 728 1631.9C735.1 1630.8 743 1630.8 746 1630.6"/>
<path d="M746 1629.4L738 1641.9"/>
<path d="M642.7 1655C645.7 1654.7 654.7 1653.4 660.3 1653.2C665.9 1653 673.9 1653.7 676.6 1653.8"/>
<path d="M689.1 1651.3C693.5 1650.3 705.9 1646.6 715.4 1645.6C724.9 1644.7 740.9 1645.6 746 1645.6"/>
<path d="M660.3 1663.9L675.3 1657.5"/>
<path d="M746 1651.9C743 1653.2 732.2 1657.4 728 1659.4C723.7 1661.4 721.7 1663.2 720.4 1663.9"/>
<path d="M844.2 1464.5C844.5 1465 844.8 1465.6 845 1466.1C845.3 1466.7 845.5 1467.3 845.7 1467.8C845.9 1468.4 846.1 1469 846.2 1469.5C846.4 1470.1 846.5 1470.7 846.6 1471.2C846.7 1471.8 846.7 1472.3 846.7 1472.9C846.8 1473.4 846.8 1473.9 846.7 1474.4C846.7 1475 846.6 1475.5 846.6 1475.9C846.5 1476.4 846.3 1476.9 846.2 1477.3C846.1 1477.7 845.9 1478.1 845.7 1478.5C845.5 1478.9 845.2 1479.2 845 1479.6C844.7 1479.9 844.5 1480.2 844.2 1480.4C843.9 1480.7 843.5 1480.9 843.2 1481.1C842.9 1481.3 842.5 1481.5 842.1 1481.6C841.7 1481.7 841.3 1481.8 840.9 1481.8C840.5 1481.9 840.1 1481.9 839.7 1481.8C839.2 1481.8 838.8 1481.8 838.4 1481.6C837.9 1481.5 837.5 1481.4 837 1481.2C836.6 1481.1 836.1 1480.8 835.7 1480.6C835.2 1480.4 834.8 1480.1 834.3 1479.8C833.9 1479.5 833.4 1479.1 833 1478.8C832.6 1478.4 832.2 1478 831.7 1477.6C831.3 1477.2 831 1476.7 830.6 1476.2C830.2 1475.8 829.8 1475.3 829.5 1474.8C829.2 1474.3 828.8 1473.7 828.5 1473.2C828.2 1472.7 828 1472.1 827.7 1471.6C827.5 1471 827.2 1470.5 827 1469.9C826.9 1469.3 826.7 1468.8 826.5 1468.2C826.4 1467.6 826.3 1467.1 826.2 1466.5C826.1 1465.9 826 1465.4 826 1464.9C826 1464.3 826 1463.8 826 1463.3C826.1 1462.8 826.1 1462.3 826.2 1461.8C826.3 1461.3 826.4 1460.9 826.6 1460.4C826.7 1460 826.9 1459.6 827.1 1459.2C827.3 1458.8 827.5 1458.5 827.8 1458.1C828 1457.8 828.3 1457.5 828.6 1457.3C828.9 1457 829.2 1456.8 829.6 1456.6C829.9 1456.4 830.3 1456.3 830.6 1456.1C831 1456 831.4 1455.9 831.8 1455.9C832.2 1455.8 832.7 1455.8 833.1 1455.9C833.5 1455.9 834 1456 834.4 1456.1C834.8 1456.2 835.3 1456.3 835.7 1456.5C836.2 1456.7 836.7 1456.9 837.1 1457.1C837.6 1457.4 838 1457.6 838.4 1457.9C838.9 1458.2 839.3 1458.6 839.8 1459C840.2 1459.3 840.6 1459.7 841 1460.1C841.4 1460.6 841.8 1461 842.2 1461.5C842.6 1461.9 842.9 1462.4 843.3 1462.9C843.6 1463.4 843.9 1464 844.2 1464.5Z"/>
<path d="M837.3 1461.7C838.4 1463.1 843.2 1467.2 844 1470C844.8 1472.8 842.6 1476.9 842.3 1478.3" stroke-width="4"/>
<path d="M800.7 1465C803.2 1465.8 811.2 1468.3 815.7 1470C820.1 1471.7 825 1472.8 827.3 1475C829.7 1477.2 829.8 1480.6 829.8 1483.3C829.8 1486.1 828.9 1487.8 827.3 1491.7C825.8 1495.6 823.4 1499.7 820.7 1506.7C817.9 1513.6 813.4 1525 810.7 1533.3C807.9 1541.7 805.7 1548.9 804 1556.7C802.3 1564.4 801.2 1572.2 800.7 1580C800.1 1587.8 800.1 1595.3 800.7 1603.3C801.2 1611.4 802.6 1621.4 804 1628.3C805.4 1635.3 806.8 1640.3 809 1645C811.2 1649.7 813.4 1652.8 817.3 1656.7C821.2 1660.6 829.8 1666.4 832.3 1668.3"/>
<path d="M868 1486.7C865.4 1487.2 856.9 1488.3 852.3 1490C847.8 1491.7 844.3 1492.8 840.7 1496.7C837.1 1500.6 834 1506.7 830.7 1513.3C827.3 1520 823.4 1528.6 820.7 1536.7C817.9 1544.7 815.7 1553.3 814 1561.7C812.3 1570 811.2 1578.3 810.7 1586.7C810.1 1595 810.1 1604.7 810.7 1611.7C811.2 1618.6 812.3 1623.3 814 1628.3C815.7 1633.3 817.9 1637.8 820.7 1641.7C823.4 1645.6 826.8 1648.9 830.7 1651.7C834.6 1654.4 839.8 1656.9 844 1658.3C848.2 1659.7 853.7 1659.7 855.7 1660"/>
<path d="M789 1463.3C787.9 1464.2 784.6 1464.4 782.3 1468.3C780.1 1472.2 778.4 1479.4 775.7 1486.7C772.9 1493.9 768.4 1504.7 765.7 1511.7C762.9 1518.6 760.7 1523.1 759 1528.3C757.3 1533.6 756.2 1540.8 755.7 1543.3"/>
<path d="M765.7 1475C764 1479.2 758.7 1492.2 755.7 1500C752.6 1507.8 748.7 1518.1 747.3 1521.7"/>
<path d="M719.8 1468.3L772.3 1469.7"/>
<path d="M744 1530.8L727.3 1553.3"/>
<path d="M746 1550.5C748.2 1550.4 754.9 1549.2 759 1550C763.1 1550.8 767.1 1553.1 770.7 1555C774.3 1556.9 777.9 1559.2 780.7 1561.7C783.4 1564.2 786.1 1567.2 787.3 1570C788.6 1572.8 789 1576.2 788.2 1578.3C787.3 1580.4 785 1582.1 782.3 1582.5C779.7 1582.9 774 1581.1 772.3 1580.8"/>
<path d="M746 1571.2L772.3 1567.5"/>
<path d="M746 1582.5L777.3 1575.8"/>
<path d="M756.5 1585L761.5 1603.3"/>
<path d="M767.3 1585L771.5 1598.3"/>
<path d="M737.3 1639.2C737.9 1637.9 738.2 1635.1 740.7 1631.7C743.2 1628.2 748.7 1622.2 752.3 1618.3C755.9 1614.4 759.3 1610.1 762.3 1608.3C765.4 1606.5 767.6 1606.7 770.7 1607.5C773.7 1608.3 777.5 1611 780.7 1613.3C783.9 1615.7 788.3 1620.3 789.8 1621.7"/>
<path d="M812.3 1593.3C814.8 1594.2 822.6 1595.8 827.3 1598.3C832.1 1600.8 836.8 1604.4 840.7 1608.3C844.6 1612.2 849 1619.4 850.7 1621.7"/>
<path d="M817.3 1628.3C819 1627.5 822.9 1624.3 827.3 1623.3C831.8 1622.4 837.2 1620.8 844 1622.5C850.8 1624.2 864 1631.5 868 1633.3"/>
<path d="M833 1644.2C835.2 1644.6 841.3 1644.9 846.3 1646.7C851.3 1648.5 859.4 1653.2 863 1655C866.6 1656.8 867.2 1657.1 868 1657.5"/>
<path d="M812.3 1570.8L839 1567.5"/>
<path d="M820.7 1539.2C823.2 1540.4 831.2 1544 835.7 1546.7C840.1 1549.3 844.7 1552.2 847.3 1555C850 1557.8 851.2 1560.6 851.5 1563.3C851.8 1566.1 850.8 1569.9 849 1571.7C847.2 1573.5 843.4 1574.3 840.7 1574.2C837.9 1574 833.7 1571.4 832.3 1570.8"/>
<path d="M819 1546.7C822.9 1548.8 838.2 1556.1 842.3 1559.2C846.5 1562.2 843.7 1564 844 1565"/>
<path d="M845.7 1499.2C847.6 1499.9 853.6 1502.2 857.3 1503.3C861.1 1504.4 866.2 1505.4 868 1505.8"/>
<path d="M845.7 1690.8C846 1691.4 846.2 1692.1 846.4 1692.7C846.6 1693.3 846.8 1694 847 1694.6C847.1 1695.2 847.2 1695.9 847.3 1696.5C847.4 1697.1 847.5 1697.7 847.5 1698.3C847.6 1698.9 847.6 1699.5 847.6 1700.1C847.5 1700.7 847.5 1701.3 847.4 1701.8C847.3 1702.4 847.2 1702.9 847.1 1703.4C847 1703.9 846.8 1704.3 846.6 1704.8C846.4 1705.2 846.2 1705.6 846 1706C845.7 1706.4 845.5 1706.7 845.2 1707C844.9 1707.3 844.6 1707.6 844.2 1707.8C843.9 1708.1 843.6 1708.3 843.2 1708.4C842.8 1708.6 842.4 1708.7 842 1708.8C841.7 1708.8 841.2 1708.9 840.8 1708.8C840.4 1708.8 840 1708.8 839.5 1708.7C839.1 1708.6 838.6 1708.5 838.2 1708.3C837.8 1708.1 837.3 1707.9 836.9 1707.6C836.4 1707.4 836 1707.1 835.5 1706.8C835.1 1706.5 834.6 1706.1 834.2 1705.7C833.8 1705.3 833.4 1704.9 833 1704.4C832.6 1704 832.2 1703.5 831.8 1703C831.4 1702.5 831.1 1701.9 830.7 1701.4C830.4 1700.8 830 1700.2 829.7 1699.7C829.4 1699.1 829.2 1698.5 828.9 1697.8C828.6 1697.2 828.4 1696.6 828.2 1696C828 1695.4 827.8 1694.7 827.7 1694.1C827.5 1693.5 827.4 1692.8 827.3 1692.2C827.2 1691.6 827.1 1690.9 827.1 1690.3C827.1 1689.7 827 1689.1 827.1 1688.5C827.1 1688 827.1 1687.4 827.2 1686.9C827.3 1686.3 827.4 1685.8 827.5 1685.3C827.7 1684.8 827.8 1684.3 828 1683.9C828.2 1683.5 828.4 1683 828.7 1682.7C828.9 1682.3 829.2 1681.9 829.5 1681.6C829.7 1681.3 830.1 1681.1 830.4 1680.8C830.7 1680.6 831.1 1680.4 831.4 1680.3C831.8 1680.1 832.2 1680 832.6 1679.9C833 1679.8 833.4 1679.8 833.8 1679.8C834.2 1679.8 834.7 1679.9 835.1 1680C835.5 1680.1 836 1680.2 836.4 1680.4C836.9 1680.6 837.3 1680.8 837.8 1681C838.2 1681.3 838.7 1681.6 839.1 1681.9C839.5 1682.2 840 1682.6 840.4 1683C840.8 1683.4 841.3 1683.8 841.7 1684.3C842.1 1684.7 842.5 1685.2 842.8 1685.7C843.2 1686.2 843.6 1686.7 843.9 1687.3C844.3 1687.8 844.6 1688.4 844.9 1689C845.2 1689.6 845.5 1690.2 845.7 1690.8Z"/>
<path d="M839 1685C840.1 1686.9 844.8 1693.1 845.7 1696.7C846.5 1700.3 844.3 1705 844 1706.7" stroke-width="4"/>
<path d="M637.7 1673.3C638.7 1673.3 637.7 1675.8 644 1673.3C650.3 1670.8 670.4 1660.8 675.7 1658.3"/>
<path d="M636.5 1664.7L637.7 1673.3"/>
<path d="M746 1631.3L744 1630.8"/>
<path d="M749 1648.3C747.6 1647.9 743.7 1645.3 740.7 1645.8C737.6 1646.4 734.3 1649 730.7 1651.7C727.1 1654.3 722.3 1657.5 719 1661.7C715.7 1665.8 712.6 1671.4 710.7 1676.7C708.7 1681.9 707.9 1687.2 707.3 1693.3C706.8 1699.4 707.3 1708.3 707.3 1713.3C707.3 1718.3 707.3 1721.7 707.3 1723.3"/>
<path d="M749 1648.3C749.8 1649.2 752.5 1650.8 754 1653.3C755.5 1655.8 757.5 1661.7 758.2 1663.3"/>
<path d="M750.7 1643.3C751.2 1642.5 752.3 1639.6 754 1638.3C755.7 1637.1 756.8 1636.9 760.7 1635.8C764.6 1634.7 772.9 1632.5 777.3 1631.7C781.8 1630.8 784.3 1630.4 787.3 1630.8C790.4 1631.2 794.3 1633.6 795.7 1634.2"/>
<path d="M715.7 1679.1C716.4 1677.9 717.1 1676.6 717.8 1675.4C718.6 1674.3 719.4 1673.1 720.2 1672C721.1 1670.9 721.9 1669.8 722.8 1668.8C723.8 1667.8 724.7 1666.9 725.7 1666C726.6 1665.1 727.6 1664.3 728.6 1663.6C729.7 1662.9 730.7 1662.2 731.7 1661.6C732.8 1661 733.8 1660.5 734.9 1660.1C735.9 1659.6 736.9 1659.3 738 1659C739 1658.8 740 1658.6 741 1658.5C742 1658.4 743 1658.4 744 1658.5C744.9 1658.6 745.9 1658.7 746.8 1659C747.7 1659.2 748.5 1659.6 749.4 1660C750.2 1660.4 751 1660.9 751.7 1661.5C752.4 1662.1 753.1 1662.8 753.7 1663.5C754.3 1664.2 754.9 1665 755.4 1665.9C755.9 1666.8 756.4 1667.7 756.8 1668.7C757.1 1669.7 757.5 1670.7 757.7 1671.8C758 1672.9 758.2 1674.1 758.3 1675.3C758.4 1676.5 758.5 1677.7 758.4 1678.9C758.4 1680.2 758.4 1681.5 758.2 1682.8C758.1 1684.1 757.8 1685.4 757.5 1686.7C757.3 1688 756.9 1689.4 756.5 1690.7C756.1 1692 755.6 1693.3 755.1 1694.6C754.5 1695.9 753.9 1697.2 753.3 1698.5C752.7 1699.7 751.9 1701 751.2 1702.2C750.5 1703.3 749.7 1704.5 748.8 1705.6C748 1706.7 747.1 1707.8 746.2 1708.8C745.3 1709.8 744.3 1710.7 743.4 1711.6C742.4 1712.5 741.4 1713.3 740.4 1714C739.4 1714.8 738.3 1715.4 737.3 1716C736.3 1716.6 735.2 1717.1 734.2 1717.5C733.1 1718 732.1 1718.3 731.1 1718.6C730 1718.8 729 1719 728 1719.1C727 1719.2 726 1719.2 725 1719.1C724.1 1719 723.1 1718.9 722.3 1718.6C721.4 1718.4 720.5 1718 719.7 1717.6C718.9 1717.2 718.1 1716.7 717.4 1716.1C716.6 1715.5 715.9 1714.9 715.3 1714.1C714.7 1713.4 714.1 1712.6 713.6 1711.7C713.1 1710.8 712.7 1709.9 712.3 1708.9C711.9 1707.9 711.6 1706.9 711.3 1705.8C711.1 1704.7 710.9 1703.5 710.7 1702.3C710.6 1701.1 710.6 1699.9 710.6 1698.7C710.6 1697.4 710.7 1696.1 710.8 1694.8C711 1693.5 711.2 1692.2 711.5 1690.9C711.8 1689.6 712.1 1688.2 712.5 1686.9C712.9 1685.6 713.4 1684.3 714 1683C714.5 1681.7 715.1 1680.4 715.7 1679.1Z"/>
<path d="M722.6 1683.2C722.9 1682.2 723.3 1681.2 723.8 1680.2C724.2 1679.3 724.7 1678.4 725.1 1677.4C725.6 1676.5 726.2 1675.7 726.7 1674.8C727.3 1674 727.9 1673.2 728.5 1672.4C729.1 1671.7 729.7 1671 730.3 1670.3C731 1669.7 731.6 1669.1 732.3 1668.5C733 1668 733.7 1667.5 734.3 1667C735 1666.6 735.7 1666.2 736.4 1665.9C737.1 1665.6 737.8 1665.3 738.5 1665.2C739.2 1665 739.8 1664.9 740.5 1664.8C741.2 1664.8 741.8 1664.8 742.5 1664.8C743.1 1664.9 743.7 1665.1 744.3 1665.3C744.9 1665.5 745.5 1665.8 746 1666.1C746.6 1666.5 747.1 1666.9 747.6 1667.3C748.1 1667.8 748.5 1668.3 748.9 1668.9C749.3 1669.4 749.7 1670.1 750 1670.8C750.4 1671.4 750.7 1672.2 750.9 1672.9C751.2 1673.7 751.4 1674.5 751.6 1675.4C751.8 1676.2 751.9 1677.1 752 1678C752 1678.9 752.1 1679.9 752.1 1680.9C752.1 1681.8 752 1682.8 751.9 1683.8C751.8 1684.8 751.7 1685.8 751.5 1686.8C751.3 1687.8 751.1 1688.9 750.8 1689.9C750.5 1690.9 750.2 1691.9 749.8 1692.9C749.5 1693.9 749.1 1694.9 748.7 1695.8C748.2 1696.8 747.8 1697.7 747.3 1698.6C746.8 1699.5 746.3 1700.4 745.7 1701.2C745.2 1702 744.6 1702.8 744 1703.6C743.4 1704.4 742.7 1705.1 742.1 1705.7C741.5 1706.4 740.8 1707 740.1 1707.5C739.5 1708.1 738.8 1708.6 738.1 1709C737.4 1709.5 736.7 1709.8 736 1710.1C735.3 1710.5 734.6 1710.7 733.9 1710.9C733.3 1711.1 732.6 1711.2 731.9 1711.2C731.3 1711.3 730.6 1711.3 730 1711.2C729.3 1711.1 728.7 1711 728.1 1710.8C727.5 1710.6 726.9 1710.3 726.4 1709.9C725.9 1709.6 725.3 1709.2 724.9 1708.7C724.4 1708.3 723.9 1707.7 723.5 1707.2C723.1 1706.6 722.7 1706 722.4 1705.3C722 1704.6 721.7 1703.9 721.5 1703.1C721.2 1702.3 721 1701.5 720.8 1700.7C720.7 1699.8 720.6 1698.9 720.5 1698C720.4 1697.1 720.4 1696.2 720.4 1695.2C720.4 1694.2 720.4 1693.2 720.5 1692.2C720.6 1691.2 720.8 1690.2 721 1689.2C721.1 1688.2 721.4 1687.2 721.6 1686.2C721.9 1685.2 722.2 1684.2 722.6 1683.2Z"/>
<path d="M748.2 1685C747.5 1684.3 745.8 1681.2 744 1680.8C742.2 1680.4 739.6 1681 737.3 1682.5C735.1 1684 732.2 1687.1 730.7 1690C729.1 1692.9 728 1697.2 728.2 1700C728.3 1702.8 729.8 1705.7 731.5 1706.7C733.2 1707.6 737.1 1706 738.2 1705.8" stroke-width="4"/>
<path d="M710.7 1703.3C711.2 1705.3 712.3 1711.9 714 1715C715.7 1718.1 719.6 1720.6 720.7 1721.7"/>
<path d="M709 1723.3C709.8 1724.2 711.5 1726.9 714 1728.3C716.5 1729.7 720.7 1731.7 724 1731.7C727.3 1731.7 730.9 1729.9 734 1728.3C737.1 1726.8 740.9 1723.5 742.3 1722.5"/>
<path d="M659.8 1683.3C660 1685.3 659.4 1691.1 660.7 1695C661.9 1698.9 664 1703.1 667.3 1706.7C670.7 1710.3 676.2 1713.6 680.7 1716.7C685.1 1719.7 689.6 1722.5 694 1725C698.4 1727.5 705.1 1730.6 707.3 1731.7"/>
<path d="M677.3 1676.7C676.5 1675.8 674.3 1672.2 672.3 1671.7C670.4 1671.1 669.6 1671.9 665.7 1673.3C661.8 1674.7 653.2 1677.8 649 1680C644.8 1682.2 642.6 1683.3 640.7 1686.7C638.8 1690 638.5 1694.4 637.7 1700C636.8 1705.6 637 1713.3 635.7 1720C634.4 1726.7 631.2 1734.4 629.8 1740C628.4 1745.6 627.8 1751.1 627.3 1753.3"/>
<path d="M594 1646.7C595.7 1645.8 600.4 1642.8 604 1641.7C607.6 1640.6 612.9 1639.2 615.7 1640C618.4 1640.8 619.3 1643.1 620.7 1646.7C622.1 1650.3 623.2 1655.6 624 1661.7C624.8 1667.8 625.4 1679.7 625.7 1683.3"/>
<path d="M599.8 1651.7C600.2 1653.9 600.5 1661.4 602.3 1665C604.1 1668.6 607.6 1670.8 610.7 1673.3C613.7 1675.8 619 1678.9 620.7 1680"/>
<path d="M594 1679.2C595.4 1679.6 599.3 1680.7 602.3 1681.7C605.4 1682.6 610.7 1684.4 612.3 1685"/>
<path d="M594 1700C595.7 1698.9 600.5 1695.3 604 1693.3C607.5 1691.4 613 1689.2 614.8 1688.3"/>
<path d="M594 1716.7C596.2 1715.3 603.2 1710.6 607.3 1708.3C611.5 1706.1 615.7 1704 619 1703.3C622.3 1702.6 625.9 1704 627.3 1704.2"/>
<path d="M624.8 1710.8C624.4 1713.2 623.9 1720.8 622.3 1725C620.8 1729.2 616.8 1734 615.7 1735.8"/>
<path d="M594 1637.5L605.7 1630"/>
<path d="M800.7 1718.3C799 1719.4 794 1721.9 790.7 1725C787.3 1728.1 783.4 1732.5 780.7 1736.7C777.9 1740.8 775.4 1745.6 774 1750C772.6 1754.4 771.8 1759.7 772.3 1763.3C772.9 1766.9 774.8 1770 777.3 1771.7C779.8 1773.3 783.7 1774.2 787.3 1773.3C790.9 1772.5 795.4 1769.7 799 1766.7C802.6 1763.6 806.4 1759.2 809 1755C811.6 1750.8 813.7 1745.8 814.8 1741.7C815.9 1737.5 816.4 1733.6 815.7 1730C815 1726.4 812.9 1721.9 810.7 1720C808.4 1718.1 803.7 1718.6 802.3 1718.3"/>
<path d="M788.4 1742.5C788.7 1742.1 788.9 1741.6 789.2 1741.2C789.4 1740.7 789.7 1740.3 790 1739.8C790.3 1739.4 790.6 1739 790.9 1738.6C791.2 1738.2 791.5 1737.9 791.9 1737.5C792.2 1737.2 792.5 1736.8 792.9 1736.5C793.2 1736.2 793.5 1736 793.9 1735.7C794.2 1735.5 794.6 1735.3 794.9 1735.1C795.2 1734.9 795.6 1734.7 795.9 1734.6C796.3 1734.5 796.6 1734.4 796.9 1734.3C797.2 1734.2 797.6 1734.2 797.9 1734.2C798.2 1734.2 798.5 1734.2 798.8 1734.3C799 1734.4 799.3 1734.5 799.6 1734.6C799.8 1734.7 800.1 1734.9 800.3 1735C800.5 1735.2 800.7 1735.4 800.9 1735.7C801.1 1735.9 801.3 1736.2 801.4 1736.5C801.5 1736.8 801.7 1737.1 801.8 1737.5C801.9 1737.8 802 1738.2 802 1738.6C802.1 1738.9 802.1 1739.3 802.2 1739.8C802.2 1740.2 802.2 1740.6 802.1 1741.1C802.1 1741.5 802.1 1742 802 1742.5C801.9 1742.9 801.8 1743.4 801.7 1743.9C801.6 1744.4 801.5 1744.9 801.3 1745.4C801.2 1745.8 801 1746.3 800.8 1746.8C800.6 1747.3 800.4 1747.8 800.1 1748.3C799.9 1748.7 799.7 1749.2 799.4 1749.6C799.1 1750.1 798.9 1750.5 798.6 1751C798.3 1751.4 798 1751.8 797.7 1752.2C797.4 1752.6 797.1 1752.9 796.7 1753.3C796.4 1753.6 796.1 1753.9 795.7 1754.2C795.4 1754.5 795 1754.8 794.7 1755.1C794.4 1755.3 794 1755.5 793.7 1755.7C793.3 1755.9 793 1756.1 792.7 1756.2C792.3 1756.3 792 1756.4 791.7 1756.5C791.3 1756.5 791 1756.6 790.7 1756.6C790.4 1756.6 790.1 1756.6 789.8 1756.5C789.5 1756.4 789.3 1756.3 789 1756.2C788.8 1756.1 788.5 1755.9 788.3 1755.7C788.1 1755.6 787.9 1755.3 787.7 1755.1C787.5 1754.9 787.3 1754.6 787.2 1754.3C787 1754 786.9 1753.7 786.8 1753.3C786.7 1753 786.6 1752.6 786.5 1752.2C786.5 1751.9 786.4 1751.4 786.4 1751C786.4 1750.6 786.4 1750.2 786.4 1749.7C786.5 1749.3 786.5 1748.8 786.6 1748.3C786.7 1747.9 786.7 1747.4 786.9 1746.9C787 1746.4 787.1 1745.9 787.3 1745.4C787.4 1744.9 787.6 1744.5 787.8 1744C788 1743.5 788.2 1743 788.4 1742.5Z"/>
<path d="M817.3 1736.7C818.4 1738.1 822.6 1741.7 824 1745C825.4 1748.3 825.9 1752.5 825.7 1756.7C825.4 1760.8 824.3 1765.8 822.3 1770C820.4 1774.2 817.3 1778.6 814 1781.7C810.7 1784.7 806.2 1787.1 802.3 1788.3C798.4 1789.6 794 1790 790.7 1789.2C787.3 1788.3 784.3 1785.7 782.3 1783.3C780.4 1781 779.6 1776.4 779 1775"/>
<path d="M815.7 1746.7C815.9 1748.9 817.9 1755.6 817.3 1760C816.8 1764.4 814.8 1769.7 812.3 1773.3C809.8 1776.9 805.7 1780 802.3 1781.7C799 1783.3 795.1 1783.9 792.3 1783.3C789.6 1782.8 786.8 1779.2 785.7 1778.3"/>
<path d="M760.7 1693.3C762.3 1693.9 766.5 1694.7 770.7 1696.7C774.8 1698.6 780.4 1701.9 785.7 1705C790.9 1708.1 799.6 1713.3 802.3 1715"/>
<path d="M727.3 1736.7C728.2 1737.8 729.6 1740.8 732.3 1743.3C735.1 1745.8 739.3 1748.9 744 1751.7C748.7 1754.4 755.8 1757.5 760.7 1760C765.5 1762.5 771.1 1765.6 773.2 1766.7"/>
<path d="M804.8 1686.7C805.5 1687.8 806.9 1691.4 809 1693.3C811.1 1695.3 814.3 1696.9 817.3 1698.3C820.4 1699.7 825.7 1701.1 827.3 1701.7"/>
<path d="M809 1715C810.7 1715.8 815.9 1717.8 819 1720C822.1 1722.2 825.1 1725.3 827.3 1728.3C829.6 1731.4 831.5 1736.7 832.3 1738.3"/>
<path d="M850.7 1720C851.5 1721.4 855.1 1725 855.7 1728.3C856.2 1731.7 854.3 1738.1 854 1740"/>
<path d="M868 1730C865.7 1731.7 858.6 1737.5 854 1740C849.4 1742.5 845.7 1744.2 840.7 1745C835.7 1745.8 826.8 1745 824 1745"/>
<path d="M842.3 1745L868 1758.3"/>
<path d="M801.5 1652.5C799.7 1652.6 793 1652.4 790.7 1653.3C788.3 1654.3 787.8 1655 787.3 1658.3C786.9 1661.7 787.6 1668.6 788.2 1673.3C788.7 1678.1 789.1 1682.8 790.7 1686.7C792.2 1690.6 794.6 1694.4 797.3 1696.7C800.1 1698.9 805.7 1699.4 807.3 1700"/>
<path d="M774 1636.7C774.6 1638.1 775.5 1642.4 777.3 1645C779.1 1647.6 783.6 1651.2 784.8 1652.5"/>
<path d="M835.7 1708.3C837.6 1709.2 843.4 1712.8 847.3 1713.3C851.2 1713.9 855.6 1713.3 859 1711.7C862.4 1710 866.5 1704.7 868 1703.3"/>
<path d="M750.7 1775C749 1775.6 743.7 1776.4 740.7 1778.3C737.6 1780.3 734.8 1783.4 732.3 1786.7C729.8 1789.9 726.8 1796.1 725.7 1798"/>
<path d="M760.7 1776.7C761.8 1778.3 765.9 1783.1 767.3 1786.7C768.7 1790.2 768.7 1796.1 769 1798"/>
<path d="M754 1780C752.3 1780.6 747.1 1781.4 744 1783.3C740.9 1785.3 737.6 1789.2 735.7 1791.7C733.7 1794.1 732.9 1796.9 732.3 1798"/>
<path d="M852.3 1785.8L852.3 1798"/>
<path d="M947.3 1458L947.3 1478.3"/>
<path d="M947.3 1478.3C945 1480 937.9 1484.7 933.3 1488.3C928.8 1491.9 924.4 1495.3 920 1500C915.6 1504.7 910.8 1510.6 906.7 1516.7C902.5 1522.8 898.3 1529.7 895 1536.7C891.7 1543.6 888.9 1551.1 886.7 1558.3C884.4 1565.6 882.6 1573.1 881.7 1580C880.7 1586.9 880.6 1594.2 880.8 1600C881.1 1605.8 881.8 1610.6 883.3 1615C884.9 1619.4 887.8 1624 890 1626.7C892.2 1629.3 895.6 1630.1 896.7 1630.8"/>
<path d="M896.7 1630.8C898.3 1630.7 902.8 1630.8 906.7 1630C910.6 1629.2 916.4 1627.5 920 1625.8C923.6 1624.2 926.9 1621 928.3 1620"/>
<path d="M928.3 1620L947.3 1630.8"/>
<path d="M896.7 1630.8C897.8 1631.8 900 1635 903.3 1636.7C906.7 1638.3 912.2 1640.3 916.7 1640.8C921.1 1641.4 924.9 1641.2 930 1640C935.1 1638.8 944.4 1634.4 947.3 1633.3"/>
<path d="M945 1464.7L919.2 1484.2"/>
<path d="M919.2 1484.2C917.1 1486.8 911 1494 906.7 1500C902.4 1506 897.5 1512.8 893.3 1520C889.2 1527.2 885 1535.6 881.7 1543.3C878.3 1551.1 875.4 1559.2 873.3 1566.7C871.2 1574.2 869.9 1581.4 869.2 1588.3C868.5 1595.3 868.6 1602.2 869.2 1608.3C869.7 1614.4 871 1620 872.5 1625C874 1630 875.4 1634.2 878.3 1638.3C881.2 1642.5 885.8 1647.2 890 1650C894.2 1652.8 898.9 1653.9 903.3 1655C907.8 1656.1 911.9 1656.8 916.7 1656.7C921.4 1656.5 926.6 1655.6 931.7 1654.2C936.8 1652.8 944.7 1649.3 947.3 1648.3"/>
<path d="M932.3 1458C931.9 1460 931.2 1466.3 930 1470C928.8 1473.7 926.8 1477.6 925 1480C923.2 1482.4 920.1 1483.5 919.2 1484.2"/>
<path d="M907.3 1458C906.9 1458.6 906.1 1460.6 905 1461.7C903.9 1462.7 901.5 1463.8 900.8 1464.2"/>
<path d="M947.3 1630.8L947.3 1738.3L934.7 1745.8"/>
<path d="M934.7 1651.7L934.7 1745.8"/>
<path d="M929.2 1545L1035 1605.8"/>
<path d="M1047.5 1612.5L1064.2 1622.5"/>
<path d="M1056.7 1583.3L1074 1574.2"/>
<path d="M958.3 1640.8L1005 1614.2"/>
<path d="M943.3 1411.7L963.3 1401.7"/>
<path d="M855.7 1660C856.9 1663.3 861.2 1673.3 863.3 1680C865.4 1686.7 867.2 1694.2 868.3 1700C869.4 1705.8 870.3 1710.8 870 1715C869.7 1719.2 868.3 1722.6 866.7 1725C865 1727.4 862.8 1728.6 860 1729.2C857.2 1729.7 852.8 1729 850 1728.3C847.2 1727.6 844.4 1725.6 843.3 1725"/>
<path d="M841.7 1490C844.4 1489.7 853.3 1489.4 858.3 1488.3C863.3 1487.2 866.9 1485.8 871.7 1483.3C876.4 1480.8 881.9 1476.4 886.7 1473.3C891.4 1470.3 897.8 1466.4 900 1465"/>
<path d="M845 1499.2C847.2 1500.1 853.9 1503.6 858.3 1505C862.8 1506.4 866.9 1507.8 871.7 1507.5C876.4 1507.2 881.7 1505.1 886.7 1503.3C891.7 1501.5 899.2 1497.8 901.7 1496.7"/>
<path d="M867.3 1458C867.6 1460 868.9 1465.9 869.2 1470C869.5 1474.1 869.2 1480.4 869.2 1482.5"/>
<path d="M868 1638.3C870 1639.2 876.3 1641.4 880 1643.3C883.7 1645.3 888.3 1648.9 890 1650"/>
<path d="M868 1659.2C870.6 1660.1 877.4 1663.8 883.3 1665C889.2 1666.2 896.8 1667.2 903.3 1666.7C909.9 1666.1 919.3 1662.5 922.5 1661.7"/>
<path d="M827.3 1701.7C830 1703.1 839.6 1708.3 843.3 1710C847.1 1711.7 847.5 1711.9 850 1712C852.5 1712.1 855 1712.3 858.3 1710.8C861.7 1709.4 868.1 1704.6 870 1703.3"/>
<path d="M870 1703.3L925 1675.8"/>
<path d="M808.3 1710.8C810.3 1711.8 816.4 1714 820 1716.7C823.6 1719.3 827.6 1723.1 830 1726.7C832.4 1730.3 833.5 1736.4 834.2 1738.3"/>
<path d="M850.8 1719.2C851.5 1720.7 854.2 1725.1 855 1728.3C855.8 1731.5 856.1 1735.3 855.8 1738.3C855.6 1741.4 853.8 1745.3 853.3 1746.7"/>
<path d="M893.3 1710.8C892.8 1712.4 892.2 1717.1 890 1720C887.8 1722.9 885.8 1724.7 880 1728.3C874.2 1731.9 861.4 1738.5 855 1741.7C848.6 1744.9 846.4 1746.5 841.7 1747.5C836.9 1748.5 829.2 1747.5 826.7 1747.5"/>
<path d="M922.5 1681.7L910 1726.7"/>
<path d="M910 1688.3C908.3 1693.1 902.8 1708.9 900 1716.7C897.2 1724.4 894.4 1731.9 893.3 1735"/>
<path d="M930 1708.3L920.8 1730.8"/>
<path d="M900.8 1740.8C902.1 1740 905.7 1736.9 908.3 1735.8C911 1734.7 912.3 1732.5 916.7 1734.2C921.1 1735.8 931.7 1743.9 934.7 1745.8"/>
<path d="M895.8 1738.3C894.3 1738.1 889.9 1735.8 886.7 1736.7C883.5 1737.5 879.3 1740.6 876.7 1743.3C874 1746.1 871.9 1750.3 870.8 1753.3C869.7 1756.4 869.4 1759.3 870 1761.7C870.6 1764 872.2 1766.7 874.2 1767.5C876.1 1768.3 879 1767.9 881.7 1766.7C884.3 1765.4 887.6 1762.8 890 1760C892.4 1757.2 894.6 1753.1 895.8 1750C897.1 1746.9 897.5 1743.6 897.5 1741.7C897.5 1739.7 896.1 1738.9 895.8 1738.3"/>
<path d="M840 1748.3L871.7 1766.7"/>
<path d="M800 1717.5C801.4 1718.2 805.8 1719.3 808.3 1721.7C810.8 1724 813.8 1727.5 815 1731.7C816.2 1735.8 816.4 1741.7 815.8 1746.7C815.3 1751.7 813.5 1756.9 811.7 1761.7C809.9 1766.4 806.4 1772.3 805 1775C803.6 1777.7 803.6 1777.5 803.3 1778"/>
<path d="M816.7 1735C817.8 1736.1 821.9 1738.9 823.3 1741.7C824.7 1744.4 825.3 1747.8 825 1751.7C824.7 1755.6 823.3 1760.6 821.7 1765C820 1769.4 816.1 1775.8 815 1778"/>
<path d="M330 1713.7C330.6 1713.9 330.8 1713.7 333.3 1715C335.8 1716.3 341.4 1718.6 345 1721.7C348.6 1724.7 352.5 1729.2 355 1733.3C357.5 1737.5 358.9 1742.5 360 1746.7C361.1 1750.8 361.9 1754.7 361.7 1758.3C361.4 1761.9 359.7 1765.8 358.3 1768.3C356.9 1770.8 355.6 1771.4 353.3 1773.3C351.1 1775.3 346.9 1777.5 345 1780C343.1 1782.5 342.4 1785.3 341.7 1788.3C341 1791.4 341 1796.7 340.8 1798.3"/>
<path d="M350.8 1776.7C350.1 1778.3 347.9 1783.1 346.7 1786.7C345.4 1790.3 343.9 1796.4 343.3 1798.3"/>
<path d="M367.5 1705.8C368.5 1707.1 371.1 1709.3 373.3 1713.3C375.6 1717.4 379.6 1727.2 380.8 1730"/>
<path d="M380.8 1730C381.8 1729.2 384.3 1726 386.7 1725C389 1724 391.7 1723.6 395 1724.2C398.3 1724.7 403.3 1726.8 406.7 1728.3C410 1729.9 413.6 1732.5 415 1733.3"/>
<path d="M380.8 1730C379.6 1732.8 376 1741.1 373.3 1746.7C370.7 1752.2 366.7 1759.9 365 1763.3C363.3 1766.8 363.3 1766.8 363 1767.5"/>
<path d="M406.7 1706.7C407.8 1708.3 410.8 1711.4 413.3 1716.7C415.8 1721.9 419.2 1730 421.7 1738.3C424.2 1746.7 426.4 1758.1 428.3 1766.7C430.3 1775.3 432.2 1783.9 433.3 1790C434.4 1796.1 435.1 1799.4 435 1803.3C434.9 1807.2 433.5 1811.1 432.5 1813.3C431.5 1815.6 429.7 1816.1 429.2 1816.7"/>
<path d="M424.2 1706.7C424.6 1708.3 425.8 1712.6 426.7 1716.7C427.5 1720.7 428.8 1728.5 429.2 1730.8"/>
<path d="M412.5 1742.5C412.2 1743.8 412.1 1746 410.8 1750C409.6 1754 406.9 1761.1 405 1766.7C403.1 1772.2 400.7 1778.6 399.2 1783.3C397.6 1788.1 396.4 1793.1 395.8 1795"/>
<path d="M424.2 1765C423.3 1765.3 421 1764.4 419.2 1766.7C417.4 1768.9 415.4 1773.3 413.3 1778.3C411.2 1783.3 408.1 1791.7 406.7 1796.7C405.3 1801.7 405.3 1806.4 405 1808.3"/>
<path d="M443.3 1705C442.2 1706.7 438.3 1711.4 436.7 1715C435 1718.6 433.6 1723.1 433.3 1726.7C433.1 1730.3 433.9 1733.9 435 1736.7C436.1 1739.4 437.5 1742.2 440 1743.3C442.5 1744.4 446.4 1744.6 450 1743.3C453.6 1742.1 458.3 1738.9 461.7 1735.8C465 1732.8 467.9 1729 470 1725C472.1 1721 473.5 1715.8 474.2 1711.7C474.9 1707.5 474.2 1701.9 474.2 1700"/>
<path d="M443.6 1711.1C444 1710.4 444.4 1709.7 444.9 1709C445.4 1708.4 445.9 1707.7 446.4 1707.1C447 1706.5 447.5 1705.9 448.1 1705.3C448.6 1704.8 449.2 1704.2 449.8 1703.8C450.4 1703.3 451 1702.8 451.6 1702.4C452.2 1702 452.8 1701.7 453.5 1701.3C454.1 1701 454.7 1700.8 455.3 1700.5C455.9 1700.3 456.5 1700.1 457.1 1700C457.7 1699.9 458.3 1699.8 458.9 1699.8C459.5 1699.8 460.1 1699.8 460.6 1699.9C461.2 1699.9 461.7 1700.1 462.2 1700.2C462.7 1700.4 463.2 1700.6 463.6 1700.9C464.1 1701.2 464.5 1701.5 464.9 1701.8C465.3 1702.2 465.6 1702.6 466 1703C466.3 1703.5 466.6 1704 466.8 1704.5C467.1 1705 467.3 1705.6 467.5 1706.2C467.7 1706.8 467.8 1707.4 467.9 1708C468 1708.7 468.1 1709.3 468.1 1710C468.1 1710.7 468.1 1711.4 468 1712.2C468 1712.9 467.9 1713.6 467.7 1714.4C467.6 1715.1 467.4 1715.9 467.2 1716.7C467 1717.4 466.7 1718.2 466.4 1719C466.1 1719.7 465.8 1720.5 465.4 1721.2C465.1 1721.9 464.7 1722.7 464.2 1723.4C463.8 1724.1 463.4 1724.8 462.9 1725.5C462.4 1726.1 461.9 1726.8 461.4 1727.4C460.9 1728 460.3 1728.6 459.7 1729.2C459.2 1729.7 458.6 1730.3 458 1730.7C457.4 1731.2 456.8 1731.7 456.2 1732.1C455.6 1732.5 455 1732.8 454.4 1733.2C453.7 1733.5 453.1 1733.7 452.5 1734C451.9 1734.2 451.3 1734.4 450.7 1734.5C450.1 1734.6 449.5 1734.7 448.9 1734.7C448.3 1734.7 447.7 1734.7 447.2 1734.6C446.7 1734.6 446.1 1734.4 445.6 1734.3C445.1 1734.1 444.6 1733.9 444.2 1733.6C443.7 1733.3 443.3 1733 442.9 1732.7C442.5 1732.3 442.2 1731.9 441.9 1731.5C441.5 1731 441.2 1730.5 441 1730C440.7 1729.5 440.5 1728.9 440.3 1728.3C440.2 1727.8 440 1727.1 439.9 1726.5C439.8 1725.8 439.8 1725.2 439.7 1724.5C439.7 1723.8 439.7 1723.1 439.8 1722.3C439.9 1721.6 440 1720.9 440.1 1720.1C440.2 1719.4 440.4 1718.6 440.6 1717.8C440.9 1717.1 441.1 1716.3 441.4 1715.6C441.7 1714.8 442 1714 442.4 1713.3C442.7 1712.6 443.1 1711.8 443.6 1711.1Z" stroke-width="4"/>
<path d="M440 1745.8C439.7 1746.5 438.1 1746.5 438.3 1750C438.6 1753.5 440.6 1760.6 441.7 1766.7C442.8 1772.8 444 1781.1 445 1786.7C446 1792.2 446.4 1796.1 447.5 1800C448.6 1803.9 449.6 1807.2 451.7 1810C453.7 1812.8 456.9 1814.4 460 1816.7C463.1 1818.9 467.2 1821.7 470 1823.3C472.8 1825 475.6 1826.1 476.7 1826.7"/>
<path d="M461.7 1736.7L516.7 1766.7"/>
<path d="M543.3 1715C541.1 1716.1 533.9 1718.6 530 1721.7C526.1 1724.7 522.6 1728.9 520 1733.3C517.4 1737.8 515.3 1743.9 514.2 1748.3C513.1 1752.8 512.6 1756.7 513.3 1760C514 1763.3 516.1 1766.7 518.3 1768.3C520.6 1770 523.6 1770.3 526.7 1770C529.7 1769.7 533.3 1768.9 536.7 1766.7C540 1764.4 543.9 1760.3 546.7 1756.7C549.4 1753.1 551.7 1749.2 553.3 1745C555 1740.8 556.4 1735.8 556.7 1731.7C556.9 1727.5 556.1 1722.6 555 1720C553.9 1717.4 551.9 1716.7 550 1715.8C548.1 1715 544.4 1715.1 543.3 1715"/>
<path d="M527.8 1739C528 1738.5 528.3 1738 528.6 1737.5C528.9 1737 529.2 1736.5 529.6 1736.1C529.9 1735.6 530.3 1735.2 530.6 1734.8C531 1734.4 531.4 1734 531.8 1733.6C532.1 1733.2 532.5 1732.9 532.9 1732.6C533.3 1732.3 533.7 1732 534.2 1731.8C534.6 1731.5 535 1731.3 535.4 1731.1C535.8 1731 536.2 1730.8 536.6 1730.7C537 1730.6 537.4 1730.5 537.8 1730.4C538.2 1730.4 538.6 1730.4 539 1730.4C539.3 1730.4 539.7 1730.5 540.1 1730.6C540.4 1730.7 540.7 1730.8 541.1 1731C541.4 1731.1 541.7 1731.3 542 1731.6C542.2 1731.8 542.5 1732.1 542.7 1732.3C543 1732.6 543.2 1733 543.4 1733.3C543.6 1733.6 543.7 1734 543.9 1734.4C544 1734.8 544.2 1735.2 544.2 1735.7C544.3 1736.1 544.4 1736.6 544.4 1737.1C544.5 1737.5 544.5 1738 544.5 1738.5C544.5 1739 544.4 1739.5 544.4 1740.1C544.3 1740.6 544.2 1741.1 544.1 1741.7C543.9 1742.2 543.8 1742.7 543.6 1743.3C543.5 1743.8 543.3 1744.3 543 1744.9C542.8 1745.4 542.6 1745.9 542.3 1746.4C542.1 1746.9 541.8 1747.4 541.5 1747.9C541.2 1748.4 540.9 1748.9 540.5 1749.3C540.2 1749.8 539.8 1750.2 539.5 1750.6C539.1 1751 538.7 1751.4 538.3 1751.8C538 1752.1 537.6 1752.5 537.2 1752.8C536.8 1753.1 536.4 1753.4 535.9 1753.6C535.5 1753.9 535.1 1754.1 534.7 1754.3C534.3 1754.4 533.9 1754.6 533.5 1754.7C533.1 1754.8 532.7 1754.9 532.3 1754.9C531.9 1755 531.5 1755 531.1 1755C530.8 1754.9 530.4 1754.9 530 1754.8C529.7 1754.7 529.4 1754.6 529 1754.4C528.7 1754.2 528.4 1754 528.1 1753.8C527.9 1753.6 527.6 1753.3 527.4 1753C527.1 1752.8 526.9 1752.4 526.7 1752.1C526.5 1751.7 526.4 1751.4 526.2 1751C526.1 1750.6 525.9 1750.2 525.9 1749.7C525.8 1749.3 525.7 1748.8 525.7 1748.3C525.6 1747.9 525.6 1747.4 525.6 1746.9C525.6 1746.4 525.7 1745.8 525.7 1745.3C525.8 1744.8 525.9 1744.3 526 1743.7C526.2 1743.2 526.3 1742.7 526.5 1742.1C526.6 1741.6 526.8 1741.1 527.1 1740.5C527.3 1740 527.5 1739.5 527.8 1739Z"/>
<path d="M518.3 1700L543.3 1714.2"/>
<path d="M539.2 1706.7L541.7 1700"/>
<path d="M543.3 1714.2C544.7 1712.4 549.4 1705.6 551.7 1703.3C553.9 1701.1 555.8 1701.2 556.7 1700.8"/>
<path d="M555 1717.5C556.1 1716.8 560 1715.1 561.7 1713.3C563.3 1711.5 565 1708.6 565 1706.7C565 1704.7 563.1 1702.6 561.7 1701.7C560.3 1700.7 557.5 1701 556.7 1700.8"/>
<path d="M556.7 1739.2L594 1748.3"/>
<path d="M552.5 1752.5L594 1764.2"/>
<path d="M552.5 1762.5C554 1763.3 558.2 1765.7 561.7 1767.5C565.1 1769.3 569.2 1772.1 573.3 1773.3C577.5 1774.6 583.2 1775 586.7 1775C590.1 1775 592.8 1773.6 594 1773.3"/>
<path d="M566.7 1721.7C568.3 1720.6 572.1 1718.3 576.7 1715C581.2 1711.7 591.1 1703.9 594 1701.7"/>
<path d="M578.3 1735C578.3 1733.6 577.2 1729.2 578.3 1726.7C579.4 1724.2 582.4 1721.8 585 1720C587.6 1718.2 592.5 1716.5 594 1715.8"/>
<path d="M573.3 1760C574.7 1761.1 578.2 1765.1 581.7 1766.7C585.1 1768.2 591.9 1768.8 594 1769.2"/>
<path d="M534.2 1771.7C533.8 1773.1 531.9 1777.2 531.7 1780C531.4 1782.8 532.4 1786.9 532.5 1788.3"/>
<path d="M470.8 1819.2L501.7 1768.3"/>
<path d="M483.3 1820.8C485.6 1817.4 491.1 1808.9 496.7 1800C502.2 1791.1 513.3 1772.9 516.7 1767.5"/>
<path d="M486.7 1819.2C489.4 1815.4 496.4 1804.6 503.3 1796.7C510.3 1788.8 524.2 1775.8 528.3 1771.7"/>
<path d="M485 1820C493.6 1816.9 522.5 1806.9 536.7 1801.7C550.8 1796.4 560.4 1791.9 570 1788.3C579.6 1784.7 590 1781.4 594 1780"/>
<path d="M476.7 1827.5C475 1827.9 470 1828.5 466.7 1830C463.3 1831.5 459.7 1833.6 456.7 1836.7C453.6 1839.7 450.6 1844.2 448.3 1848.3C446.1 1852.5 444.3 1857.2 443.3 1861.7C442.4 1866.1 441.9 1871.4 442.5 1875C443.1 1878.6 444.6 1881.7 446.7 1883.3C448.8 1885 451.9 1885.6 455 1885C458.1 1884.4 461.7 1882.8 465 1880C468.3 1877.2 472.1 1872.5 475 1868.3C477.9 1864.2 480.7 1859.4 482.5 1855C484.3 1850.6 485.6 1845.6 485.8 1841.7C486.1 1837.8 485.4 1834.2 484.2 1831.7C482.9 1829.2 479.3 1827.5 478.3 1826.7"/>
<path d="M457.4 1852.2C457.7 1851.7 458 1851.2 458.3 1850.7C458.7 1850.2 459 1849.7 459.4 1849.2C459.8 1848.8 460.2 1848.3 460.6 1847.9C461 1847.5 461.4 1847.1 461.8 1846.7C462.2 1846.3 462.6 1846 463.1 1845.7C463.5 1845.4 463.9 1845.1 464.4 1844.8C464.8 1844.6 465.2 1844.4 465.7 1844.2C466.1 1844 466.5 1843.9 466.9 1843.8C467.4 1843.6 467.8 1843.6 468.2 1843.5C468.6 1843.5 469 1843.5 469.3 1843.5C469.7 1843.6 470.1 1843.6 470.4 1843.7C470.8 1843.8 471.1 1844 471.4 1844.2C471.7 1844.3 472 1844.6 472.3 1844.8C472.5 1845 472.8 1845.3 473 1845.6C473.2 1845.9 473.4 1846.3 473.6 1846.6C473.7 1847 473.9 1847.4 474 1847.8C474.1 1848.2 474.2 1848.7 474.3 1849.1C474.3 1849.6 474.3 1850.1 474.3 1850.6C474.3 1851.1 474.3 1851.6 474.3 1852.1C474.2 1852.7 474.1 1853.2 474 1853.8C473.9 1854.3 473.8 1854.9 473.6 1855.4C473.4 1856 473.2 1856.5 473 1857.1C472.8 1857.6 472.6 1858.2 472.3 1858.7C472.1 1859.3 471.8 1859.8 471.5 1860.4C471.2 1860.9 470.8 1861.4 470.5 1861.9C470.1 1862.4 469.8 1862.9 469.4 1863.4C469 1863.8 468.6 1864.3 468.2 1864.7C467.9 1865.1 467.4 1865.5 467 1865.9C466.6 1866.2 466.2 1866.6 465.7 1866.9C465.3 1867.2 464.9 1867.5 464.5 1867.7C464 1868 463.6 1868.2 463.2 1868.4C462.7 1868.6 462.3 1868.7 461.9 1868.8C461.5 1868.9 461 1869 460.6 1869C460.2 1869.1 459.9 1869.1 459.5 1869C459.1 1869 458.7 1868.9 458.4 1868.8C458.1 1868.7 457.7 1868.6 457.4 1868.4C457.1 1868.2 456.8 1868 456.6 1867.8C456.3 1867.5 456 1867.2 455.8 1866.9C455.6 1866.6 455.4 1866.3 455.2 1865.9C455.1 1865.6 454.9 1865.2 454.8 1864.7C454.7 1864.3 454.6 1863.9 454.6 1863.4C454.5 1863 454.5 1862.5 454.5 1862C454.5 1861.5 454.5 1861 454.6 1860.4C454.6 1859.9 454.7 1859.4 454.8 1858.8C454.9 1858.3 455.1 1857.7 455.2 1857.2C455.4 1856.6 455.6 1856 455.8 1855.5C456 1854.9 456.2 1854.4 456.5 1853.8C456.8 1853.3 457.1 1852.7 457.4 1852.2Z"/>
<path d="M442.5 1881.7C441.2 1880.6 437.4 1876.2 435 1875C432.6 1873.8 433.6 1872.2 428.3 1874.2C423.1 1876.1 410.6 1882.5 403.3 1886.7C396.1 1890.8 388.1 1897.1 385 1899.2"/>
<path d="M351.7 1775.8L435 1829.2"/>
<path d="M353.3 1792.5C358.1 1795.4 376.2 1806 381.7 1810C387.1 1814 385.3 1814.2 385.8 1816.7C386.4 1819.2 386.2 1820.8 385 1825C383.8 1829.2 380.8 1835.3 378.3 1841.7C375.8 1848.1 372.8 1856.4 370 1863.3C367.2 1870.3 363.1 1880 361.7 1883.3"/>
<path d="M409.2 1830L429.2 1841.7"/>
<path d="M405.8 1825.8C404.6 1825.8 400.4 1824.6 398.3 1825.8C396.2 1827.1 395.3 1829.3 393.3 1833.3C391.4 1837.4 389.2 1843.6 386.7 1850C384.2 1856.4 380.4 1865.3 378.3 1871.7C376.2 1878.1 374.9 1885.6 374.2 1888.3"/>
<path d="M435.8 1854.2C434.6 1855.7 431.5 1860.4 428.3 1863.3C425.1 1866.2 421.4 1868.6 416.7 1871.7C411.9 1874.7 405.6 1878.3 400 1881.7C394.4 1885 386.1 1890 383.3 1891.7"/>
<path d="M341.7 1798.3C341.9 1801.4 342.6 1808.1 343.3 1816.7C344 1825.3 345 1840.8 345.8 1850C346.7 1859.2 347.1 1866.1 348.3 1871.7C349.6 1877.2 351.1 1880.1 353.3 1883.3C355.6 1886.5 360.3 1889.6 361.7 1890.8"/>
<path d="M370 1890C368.6 1890.6 364.7 1891.1 361.7 1893.3C358.6 1895.6 354.4 1899.7 351.7 1903.3C348.9 1906.9 346.8 1910.8 345 1915C343.2 1919.2 341.4 1924.4 340.8 1928.3C340.3 1932.2 340.7 1935.4 341.7 1938.3C342.6 1941.2 344.4 1944.4 346.7 1945.8C348.9 1947.2 351.9 1947.4 355 1946.7C358.1 1946 361.7 1944.4 365 1941.7C368.3 1938.9 372.2 1934.2 375 1930C377.8 1925.8 380 1921.1 381.7 1916.7C383.3 1912.2 385 1907.2 385 1903.3C385 1899.4 383.3 1895.6 381.7 1893.3C380 1891.1 376.9 1890.6 375 1890C373.1 1889.4 370.8 1890 370 1890"/>
<path d="M356 1914C356.3 1913.5 356.7 1913 357 1912.5C357.4 1912.1 357.8 1911.6 358.1 1911.2C358.5 1910.7 358.9 1910.3 359.3 1909.9C359.8 1909.6 360.2 1909.2 360.6 1908.9C361 1908.5 361.5 1908.2 361.9 1907.9C362.3 1907.6 362.8 1907.4 363.2 1907.2C363.7 1907 364.1 1906.8 364.5 1906.6C365 1906.5 365.4 1906.3 365.8 1906.3C366.2 1906.2 366.6 1906.1 367 1906.1C367.4 1906.1 367.8 1906.1 368.2 1906.2C368.5 1906.2 368.9 1906.3 369.2 1906.4C369.6 1906.6 369.9 1906.7 370.2 1906.9C370.5 1907.1 370.8 1907.3 371 1907.6C371.3 1907.8 371.5 1908.1 371.7 1908.4C371.9 1908.7 372.1 1909.1 372.2 1909.5C372.4 1909.8 372.5 1910.2 372.6 1910.6C372.7 1911.1 372.8 1911.5 372.8 1911.9C372.8 1912.4 372.8 1912.9 372.8 1913.4C372.8 1913.9 372.8 1914.4 372.7 1914.9C372.6 1915.4 372.5 1915.9 372.4 1916.4C372.2 1917 372.1 1917.5 371.9 1918C371.7 1918.6 371.5 1919.1 371.3 1919.6C371 1920.2 370.8 1920.7 370.5 1921.2C370.2 1921.7 369.9 1922.3 369.6 1922.8C369.3 1923.3 368.9 1923.7 368.6 1924.2C368.2 1924.7 367.8 1925.1 367.4 1925.6C367 1926 366.6 1926.4 366.2 1926.8C365.8 1927.2 365.4 1927.6 365 1927.9C364.5 1928.2 364.1 1928.6 363.7 1928.8C363.2 1929.1 362.8 1929.4 362.4 1929.6C361.9 1929.8 361.5 1930 361 1930.1C360.6 1930.3 360.2 1930.4 359.8 1930.5C359.4 1930.6 358.9 1930.6 358.5 1930.6C358.2 1930.7 357.8 1930.6 357.4 1930.6C357 1930.5 356.7 1930.4 356.3 1930.3C356 1930.2 355.7 1930 355.4 1929.8C355.1 1929.7 354.8 1929.4 354.6 1929.2C354.3 1928.9 354.1 1928.6 353.9 1928.3C353.7 1928 353.5 1927.7 353.4 1927.3C353.2 1926.9 353.1 1926.5 353 1926.1C352.9 1925.7 352.8 1925.3 352.8 1924.8C352.7 1924.4 352.7 1923.9 352.8 1923.4C352.8 1922.9 352.8 1922.4 352.9 1921.9C353 1921.4 353.1 1920.8 353.2 1920.3C353.3 1919.8 353.5 1919.3 353.7 1918.7C353.9 1918.2 354.1 1917.6 354.3 1917.1C354.5 1916.6 354.8 1916.1 355.1 1915.5C355.4 1915 355.7 1914.5 356 1914Z"/>
<path d="M320 1927.5L341.7 1940"/>
<path d="M320 1838.3L326.7 1809.2L335 1883.3"/>
<path d="M320 1886.7C321.4 1887.8 325.6 1891.9 328.3 1893.3C331.1 1894.7 334.2 1894.9 336.7 1895C339.2 1895.1 342.2 1894.3 343.3 1894.2"/>
<path d="M759 1762.5C757.6 1762.4 753.7 1761 750.7 1761.7C747.6 1762.4 744 1763.9 740.7 1766.7C737.3 1769.4 733.6 1773.9 730.7 1778.3C727.8 1782.8 725 1788.3 723.2 1793.3C721.4 1798.3 720.1 1803.9 719.8 1808.3C719.6 1812.8 720.2 1816.9 721.5 1820C722.8 1823.1 725 1825.7 727.3 1826.7C729.7 1827.6 732.6 1826.9 735.7 1825.8C738.7 1824.7 742.3 1822.9 745.7 1820C749 1817.1 752.6 1812.8 755.7 1808.3C758.7 1803.9 761.9 1798.3 764 1793.3C766.1 1788.3 767.8 1782.5 768.2 1778.3C768.6 1774.2 768 1771 766.5 1768.3C765 1765.7 760.2 1763.5 759 1762.5"/>
<path d="M747.3 1768.3C745.7 1769.7 740.2 1773.1 737.3 1776.7C734.4 1780.3 731.6 1785.3 729.8 1790C728 1794.7 726.8 1800.6 726.5 1805C726.2 1809.4 726.9 1813.9 728.2 1816.7C729.4 1819.4 733 1820.8 734 1821.7"/>
<path d="M733.7 1787.8C734.2 1786.9 734.7 1785.9 735.3 1785C735.9 1784 736.5 1783.1 737.1 1782.3C737.7 1781.4 738.4 1780.6 739 1779.8C739.7 1779 740.4 1778.2 741.1 1777.5C741.8 1776.8 742.5 1776.2 743.3 1775.6C744 1775 744.7 1774.4 745.5 1773.9C746.2 1773.4 746.9 1773 747.7 1772.6C748.4 1772.3 749.1 1771.9 749.9 1771.7C750.6 1771.5 751.3 1771.3 752 1771.2C752.7 1771 753.3 1771 754 1771C754.6 1771 755.3 1771.1 755.9 1771.3C756.5 1771.4 757.1 1771.6 757.6 1771.9C758.1 1772.2 758.7 1772.5 759.1 1772.9C759.6 1773.3 760 1773.8 760.4 1774.3C760.8 1774.8 761.2 1775.4 761.5 1776C761.8 1776.7 762.1 1777.4 762.3 1778.1C762.5 1778.8 762.7 1779.6 762.8 1780.4C762.9 1781.2 763 1782.1 763 1783C763.1 1783.8 763 1784.8 763 1785.7C762.9 1786.6 762.8 1787.6 762.6 1788.6C762.5 1789.6 762.2 1790.6 762 1791.6C761.7 1792.6 761.4 1793.6 761.1 1794.6C760.8 1795.6 760.4 1796.6 759.9 1797.6C759.5 1798.6 759 1799.6 758.5 1800.6C758.1 1801.6 757.5 1802.5 756.9 1803.5C756.4 1804.4 755.8 1805.3 755.2 1806.2C754.5 1807 753.9 1807.9 753.2 1808.7C752.5 1809.5 751.9 1810.2 751.1 1810.9C750.4 1811.6 749.7 1812.3 749 1812.9C748.3 1813.5 747.5 1814 746.8 1814.5C746.1 1815 745.3 1815.4 744.6 1815.8C743.9 1816.2 743.1 1816.5 742.4 1816.7C741.7 1817 741 1817.2 740.3 1817.3C739.6 1817.4 738.9 1817.5 738.3 1817.4C737.6 1817.4 737 1817.3 736.4 1817.2C735.8 1817 735.2 1816.8 734.7 1816.5C734.1 1816.3 733.6 1815.9 733.1 1815.5C732.7 1815.1 732.2 1814.7 731.8 1814.1C731.4 1813.6 731.1 1813 730.8 1812.4C730.5 1811.8 730.2 1811.1 730 1810.4C729.8 1809.6 729.6 1808.9 729.5 1808C729.3 1807.2 729.3 1806.4 729.2 1805.5C729.2 1804.6 729.2 1803.7 729.3 1802.7C729.4 1801.8 729.5 1800.8 729.6 1799.9C729.8 1798.9 730 1797.9 730.3 1796.9C730.5 1795.9 730.8 1794.8 731.2 1793.8C731.5 1792.8 731.9 1791.8 732.3 1790.8C732.7 1789.8 733.2 1788.8 733.7 1787.8Z"/>
<path d="M756.5 1791.7C756.4 1790.6 756.8 1786.4 755.7 1785C754.6 1783.6 752.1 1782.8 749.8 1783.3C747.6 1783.9 744.4 1785.8 742.3 1788.3C740.2 1790.8 737.9 1795.3 737.3 1798.3C736.8 1801.4 737.9 1805 739 1806.7C740.1 1808.3 742.5 1808.6 744 1808.3C745.5 1808.1 747.5 1805.6 748.2 1805" stroke-width="4"/>
<path d="M769 1770C770.7 1770.1 776.8 1769.4 779 1770.8C781.2 1772.2 780.9 1775.7 782.3 1778.3C783.7 1781 785.1 1784.7 787.3 1786.7C789.6 1788.6 792.6 1790.3 795.7 1790C798.7 1789.7 802.3 1787.5 805.7 1785C809 1782.5 812.9 1778.3 815.7 1775C818.4 1771.7 820.8 1767.5 822.3 1765C823.9 1762.5 824.4 1760.8 824.8 1760"/>
<path d="M784 1775C785.1 1775.8 788.2 1779.3 790.7 1780C793.2 1780.7 796.2 1780.6 799 1779.2C801.8 1777.8 804.8 1774.9 807.3 1771.7C809.8 1768.5 812.9 1761.9 814 1760"/>
<path d="M770.7 1785C771.8 1784.4 775.4 1782.5 777.3 1781.7C779.3 1780.8 781.5 1780.3 782.3 1780"/>
<path d="M853.2 1784.2L853.2 1912.5"/>
<ellipse cx="851.7" cy="1931.1" rx="18.5" ry="8.9" transform="rotate(0 851.7 1931.1)"/>
<ellipse cx="852.6" cy="1932.4" rx="12.5" ry="5.9" transform="rotate(0 852.6 1932.4)"/>
<path d="M853.4 1926.6L853.4 1933.6"/>
<path d="M833.5 1931.1L833.5 1949"/>
<path d="M870.3 1931.1L870.3 1946.4"/>
<path d="M835.8 1937.5C837 1938.2 840.5 1941.1 843.4 1942C846.4 1942.8 849.8 1943.2 853.6 1942.6C857.5 1942 864.3 1938.9 866.4 1938.1"/>
<path d="M835.1 1943.9C836.5 1944.7 840.3 1947.9 843.4 1949C846.5 1950 850.2 1950.5 853.6 1950.3C857.1 1950 861.3 1948.8 863.9 1947.7C866.4 1946.6 868.1 1944.5 869 1943.9"/>
<path d="M834.5 1951.5C835.8 1952.4 839 1955.6 842.2 1956.6C845.3 1957.7 850 1958 853.6 1957.9C857.3 1957.8 861.2 1957.1 863.9 1956C866.5 1954.9 868.7 1952.3 869.6 1951.5"/>
<path d="M830.7 1956.6C831.5 1957.7 833.4 1961.3 835.8 1963C838.1 1964.7 841.5 1966.1 844.7 1966.9C847.9 1967.6 851.5 1967.8 854.9 1967.5C858.3 1967.2 862.4 1966.3 865.1 1964.9C867.9 1963.6 870.1 1961.1 871.5 1959.2C872.9 1957.3 873.1 1954.4 873.4 1953.4"/>
<path d="M833.5 1946.7C832.5 1947.1 829.2 1947.8 827.5 1949C825.7 1950.1 824.1 1951.7 823 1953.4C821.9 1955.2 821.3 1956.5 821.1 1959.2C820.8 1961.9 820.7 1966.4 821.5 1969.4C822.2 1972.4 823.6 1975 825.5 1977.1C827.5 1979.2 830.2 1980.8 833.2 1982.2C836.2 1983.6 840 1984.7 843.4 1985.4C846.8 1986 850.2 1986.1 853.6 1986C857.1 1985.9 860.7 1985.6 863.9 1984.7C867.1 1983.9 870.3 1982.4 872.8 1980.9C875.4 1979.4 877.6 1977.7 879.2 1975.8C880.8 1973.9 881.8 1972.2 882.4 1969.4C883 1966.6 883.1 1962 882.8 1959.2C882.5 1956.4 881.5 1954.5 880.5 1952.8C879.5 1951.1 878.2 1950 876.6 1949C875 1947.9 871.9 1946.8 870.9 1946.4"/>
<path d="M828.7 1952.8C828.2 1953.9 825.8 1956.9 825.5 1959.2C825.3 1961.5 826.2 1964.7 827.5 1966.9C828.7 1969 830.8 1970.6 833.2 1972C835.7 1973.4 838.7 1974.5 842.2 1975.2C845.6 1975.8 850 1975.9 853.6 1975.8C857.3 1975.7 860.7 1975.4 863.9 1974.5C867.1 1973.7 870.5 1972.2 872.8 1970.7C875.2 1969.2 876.9 1967.5 877.9 1965.6C879 1963.7 879.4 1961.3 879.2 1959.2C879 1957.1 877.1 1953.9 876.6 1952.8"/>
<path d="M824.9 1969.4L830.7 1972"/>
<path d="M869 1973.9L876.6 1970.7"/>
<path d="M890.1 1955.4L948.2 1955.4"/>
<path d="M119.2 1418.8L119.2 1477.5"/>
<path d="M139.5 1505C139.4 1503.3 140.1 1498.3 138.8 1495C137.4 1491.7 134.4 1487.2 131.2 1485C128.1 1482.8 124 1481.6 120 1482C116 1482.4 111.5 1484.1 107.5 1487.5C103.5 1490.9 99.2 1497.1 96.2 1502.5C93.3 1507.9 90.6 1514.4 90 1520C89.4 1525.6 90.6 1532.4 92.5 1536.2C94.4 1540.1 97.7 1542 101.2 1543C104.8 1544 110.2 1543 113.8 1542C117.3 1541 121 1537.8 122.5 1537"/>
<path d="M96.2 1521.2C96.5 1523.1 95.8 1529.6 97.5 1532.5C99.2 1535.4 104.8 1537.7 106.2 1538.8"/>
<path d="M135 1495C133.8 1493.8 130.2 1488.5 127.5 1487.5C124.8 1486.5 121.9 1486.7 118.8 1488.8C115.6 1490.8 111.2 1495.6 108.8 1500C106.2 1504.4 104.4 1510 103.8 1515C103.1 1520 103.8 1526.5 105 1530C106.2 1533.5 110.2 1535.2 111.2 1536.2"/>
<path d="M130 1496.2C128.3 1496.7 122.9 1496.5 120 1498.8C117.1 1501 114.2 1505.6 112.5 1510C110.8 1514.4 109.8 1521 110 1525C110.2 1529 113.1 1532.3 113.8 1533.8"/>
<path d="M132.5 1502.5C131 1503.1 126.2 1503.8 123.8 1506.2C121.2 1508.8 118.8 1513.5 117.5 1517.5C116.2 1521.5 115.6 1526.9 116.2 1530C116.9 1533.1 120.4 1535.2 121.2 1536.2"/>
<path d="M135 1508.8C133.8 1509.6 129.6 1511 127.5 1513.8C125.4 1516.5 123.3 1521.5 122.5 1525C121.7 1528.5 121.9 1532.5 122.5 1535C123.1 1537.5 125.6 1539.2 126.2 1540"/>
<path d="M139.5 1505L148.8 1509.5"/>
<path d="M131.2 1523.4C131.4 1522.6 131.6 1521.9 131.9 1521.1C132.2 1520.4 132.5 1519.6 132.8 1518.9C133.2 1518.2 133.5 1517.6 133.9 1516.9C134.3 1516.2 134.7 1515.6 135.1 1515C135.6 1514.4 136 1513.9 136.5 1513.3C137 1512.8 137.4 1512.3 137.9 1511.9C138.4 1511.4 139 1511 139.5 1510.7C140 1510.3 140.5 1510 141.1 1509.7C141.6 1509.5 142.2 1509.3 142.7 1509.1C143.2 1508.9 143.8 1508.8 144.3 1508.7C144.9 1508.7 145.4 1508.7 145.9 1508.7C146.4 1508.7 146.9 1508.8 147.4 1509C147.9 1509.1 148.4 1509.3 148.9 1509.5C149.4 1509.8 149.8 1510 150.2 1510.4C150.7 1510.7 151.1 1511.1 151.4 1511.5C151.8 1511.9 152.2 1512.4 152.5 1512.9C152.8 1513.4 153.1 1513.9 153.4 1514.5C153.7 1515.1 153.9 1515.7 154.1 1516.3C154.3 1517 154.5 1517.6 154.6 1518.3C154.7 1519 154.8 1519.7 154.9 1520.5C155 1521.2 155 1522 155 1522.7C155 1523.5 154.9 1524.3 154.9 1525C154.8 1525.8 154.7 1526.6 154.5 1527.4C154.4 1528.1 154.2 1528.9 154 1529.7C153.8 1530.4 153.6 1531.2 153.3 1531.9C153 1532.7 152.7 1533.4 152.4 1534.1C152 1534.8 151.7 1535.5 151.3 1536.2C150.9 1536.8 150.5 1537.5 150.1 1538C149.6 1538.6 149.2 1539.2 148.7 1539.7C148.2 1540.2 147.7 1540.7 147.2 1541.2C146.7 1541.6 146.2 1542 145.7 1542.4C145.2 1542.7 144.6 1543.1 144.1 1543.3C143.6 1543.6 143 1543.8 142.5 1544C141.9 1544.1 141.4 1544.3 140.9 1544.3C140.3 1544.4 139.8 1544.4 139.3 1544.4C138.8 1544.3 138.2 1544.2 137.7 1544.1C137.3 1544 136.8 1543.8 136.3 1543.5C135.8 1543.3 135.4 1543 135 1542.7C134.5 1542.4 134.1 1542 133.7 1541.6C133.4 1541.1 133 1540.7 132.7 1540.2C132.4 1539.7 132.1 1539.1 131.8 1538.6C131.5 1538 131.3 1537.4 131.1 1536.7C130.9 1536.1 130.7 1535.4 130.6 1534.7C130.5 1534 130.3 1533.3 130.3 1532.6C130.2 1531.9 130.2 1531.1 130.2 1530.3C130.2 1529.6 130.2 1528.8 130.3 1528C130.4 1527.3 130.5 1526.5 130.6 1525.7C130.8 1524.9 131 1524.1 131.2 1523.4Z"/>
<path d="M135.9 1526.1C135.9 1525.6 136.1 1525.2 136.2 1524.8C136.3 1524.3 136.4 1523.9 136.6 1523.5C136.8 1523.1 136.9 1522.7 137.1 1522.3C137.3 1521.9 137.5 1521.6 137.7 1521.2C138 1520.9 138.2 1520.5 138.4 1520.2C138.7 1519.9 138.9 1519.6 139.2 1519.3C139.5 1519.1 139.7 1518.8 140 1518.6C140.3 1518.4 140.6 1518.2 140.9 1518C141.1 1517.8 141.4 1517.7 141.7 1517.6C142 1517.5 142.3 1517.4 142.6 1517.3C142.9 1517.3 143.2 1517.2 143.5 1517.2C143.8 1517.2 144.1 1517.2 144.4 1517.3C144.6 1517.4 144.9 1517.4 145.2 1517.6C145.5 1517.7 145.7 1517.8 146 1518C146.2 1518.2 146.5 1518.4 146.7 1518.6C146.9 1518.8 147.1 1519 147.3 1519.3C147.5 1519.6 147.7 1519.9 147.9 1520.2C148 1520.5 148.2 1520.8 148.3 1521.2C148.5 1521.5 148.6 1521.9 148.7 1522.3C148.8 1522.7 148.9 1523.1 148.9 1523.5C149 1523.9 149 1524.3 149.1 1524.7C149.1 1525.2 149.1 1525.6 149.1 1526.1C149.1 1526.5 149 1526.9 149 1527.4C148.9 1527.8 148.9 1528.3 148.8 1528.7C148.7 1529.1 148.6 1529.6 148.4 1530C148.3 1530.4 148.2 1530.9 148 1531.3C147.9 1531.7 147.7 1532.1 147.5 1532.5C147.3 1532.9 147.1 1533.2 146.9 1533.6C146.7 1533.9 146.4 1534.3 146.2 1534.6C145.9 1534.9 145.7 1535.2 145.4 1535.5C145.2 1535.7 144.9 1536 144.6 1536.2C144.3 1536.4 144.1 1536.6 143.8 1536.8C143.5 1537 143.2 1537.1 142.9 1537.2C142.6 1537.3 142.3 1537.4 142 1537.5C141.7 1537.5 141.4 1537.6 141.1 1537.6C140.8 1537.6 140.5 1537.5 140.3 1537.5C140 1537.4 139.7 1537.3 139.4 1537.2C139.2 1537.1 138.9 1537 138.7 1536.8C138.4 1536.6 138.2 1536.4 137.9 1536.2C137.7 1536 137.5 1535.7 137.3 1535.5C137.1 1535.2 136.9 1534.9 136.8 1534.6C136.6 1534.3 136.4 1534 136.3 1533.6C136.2 1533.3 136 1532.9 135.9 1532.5C135.8 1532.1 135.8 1531.7 135.7 1531.3C135.6 1530.9 135.6 1530.5 135.6 1530C135.5 1529.6 135.5 1529.2 135.5 1528.7C135.6 1528.3 135.6 1527.9 135.6 1527.4C135.7 1527 135.8 1526.5 135.9 1526.1Z"/>
<path d="M122.5 1537L131.2 1543.8"/>
<path d="M594 1748.4C599.6 1749.9 615.8 1754.4 627.7 1757.7C639.6 1760.9 654.4 1765.2 665.3 1767.7C676.2 1770.2 688.3 1771.7 692.9 1772.5"/>
<path d="M594 1764.2C601.7 1766.2 626.3 1773 640.2 1776.5C654.2 1780 668.2 1782.8 677.8 1785.2C687.4 1787.6 694.5 1789.9 697.9 1790.9"/>
<path d="M635.9 1728.8C638.7 1730.1 646.8 1733.6 652.8 1736.4C658.7 1739.1 665.3 1742.2 671.6 1745.1C677.8 1748.1 685.8 1751.2 690.4 1753.9C695 1756.6 696.6 1759.1 699.1 1761.4C701.6 1763.7 702.7 1765.6 705.4 1767.7C708.1 1769.8 713.1 1771.9 715.4 1774C717.7 1776 718.8 1777.7 719.2 1780.2C719.6 1782.7 719 1786.3 717.9 1789C716.9 1791.7 714.8 1794.9 712.9 1796.5C711 1798.1 708.7 1798.6 706.7 1798.4C704.6 1798.2 702.1 1796.5 700.4 1795.3C698.7 1794 697.3 1791.6 696.6 1790.9"/>
<path d="M635.9 1742C637.6 1742.9 642.6 1745.4 646.5 1747.6C650.4 1749.8 653.8 1752.7 659 1755.2C664.3 1757.7 672.2 1760.2 677.8 1762.7C683.5 1765.2 689.5 1768.4 692.9 1770.2C696.2 1772 697 1772.8 697.9 1773.3"/>
<path d="M594 1780C597.5 1779.9 608.5 1779.1 615.2 1779.6C621.8 1780.1 628.8 1781.5 634 1782.7C639.2 1784 642.3 1785 646.5 1787.1C650.7 1789.2 653.8 1792.2 659 1795.3C664.3 1798.3 671.6 1802.1 677.8 1805.3C684.1 1808.4 691.4 1811.5 696.6 1814.1C701.9 1816.6 706 1818.4 709.2 1820.3C712.3 1822.2 712.9 1824.1 715.4 1825.3C717.9 1826.6 721.3 1827.5 724.2 1827.8C727.1 1828.1 730.3 1827.8 733 1827.2C735.7 1826.6 739.2 1824.6 740.5 1824.1"/>
<path d="M646.5 1785.5L659 1787.5" stroke-width="4"/>
<path d="M594 1773.3C594.6 1773.5 596.6 1774.4 597.6 1774.2C598.7 1774 599.7 1772.4 600.1 1772.1"/>
<path d="M594 1770.2C594.6 1770.1 596.4 1769.9 597.6 1769.6C598.9 1769.3 600.8 1768.5 601.4 1768.3"/>
<path d="M594 1732C595.4 1732.9 599.5 1735.8 602.7 1737.6C605.8 1739.4 609.1 1741.1 612.7 1742.6C616.2 1744.2 622.1 1746.3 624 1747"/>
<path d="M990 871.7L1060.8 830L1060.8 862.5"/>
<path d="M1010 952.5C1009.9 948.8 1009.3 937.4 1009.2 930C1009 922.6 1008.6 913.3 1009.2 908.3C1009.7 903.3 1010.7 902.1 1012.5 900C1014.3 897.9 1018.8 896.5 1020 895.8"/>
<path d="M1020 895.8L1086.7 857.5L1106.7 857.5L1156.7 845"/>
<path d="M1022.5 895.8C1024 896.1 1028.8 897.4 1031.7 897.5C1034.6 897.6 1034.4 897.9 1040 896.7C1045.6 895.4 1056.7 892.2 1065 890C1073.3 887.8 1083.3 885.3 1090 883.3C1096.7 881.3 1102.5 878.9 1105 878"/>
<path d="M1156.7 845C1159.4 843.5 1168.9 838.5 1173.3 835.8C1177.8 833.2 1180.6 830.6 1183.3 829.2C1186.1 827.8 1187.5 827.2 1190 827.5C1192.5 827.8 1195.6 829 1198.3 830.8C1201.1 832.6 1204.2 835.4 1206.7 838.3C1209.2 841.2 1211.9 845 1213.3 848.3C1214.7 851.7 1215.1 855.3 1215 858.3C1214.9 861.4 1212.9 865.3 1212.5 866.7"/>
<path d="M1212.5 866.7L1192.5 878.3"/>
<path d="M1104.2 878.3L1163.3 842.5"/>
<path d="M1105 878.3C1113.6 880.4 1138.6 886.2 1156.7 890.8C1174.7 895.4 1202.2 902.5 1213.3 905.8C1224.4 909.2 1219.4 908.5 1223.3 910.8C1227.2 913.2 1232.2 917.1 1236.7 920C1241.1 922.9 1245.4 925.8 1250 928.3C1254.6 930.8 1261.7 933.9 1264 935"/>
<path d="M1215 857.5L1264 853.3"/>
<path d="M1214.2 864.2C1217.9 863.2 1228.4 859.6 1236.7 858.3C1245 857.1 1259.4 856.9 1264 856.7"/>
<path d="M1215 868.3C1217.8 867.6 1223.5 864.6 1231.7 864.2C1239.8 863.8 1258.6 865.6 1264 865.8"/>
<path d="M1217.5 843.3L1264 815.8"/>
<path d="M1223.3 901.7L1264 878.3"/>
<path d="M1103.3 900C1103.6 898.9 1103.9 894.7 1105 893.3C1106.1 891.9 1108.1 891.4 1110 891.7C1111.9 891.9 1114.7 893.1 1116.7 895C1118.6 896.9 1120.7 900.6 1121.7 903.3C1122.6 906.1 1123.1 909.7 1122.5 911.7C1121.9 913.6 1120 914.6 1118.3 915C1116.7 915.4 1113.5 914.3 1112.5 914.2"/>
<path d="M1106.7 918.3C1107.8 919.3 1110.8 923.1 1113.3 924.2C1115.8 925.3 1119.2 925.7 1121.7 925C1124.2 924.3 1126.8 922.2 1128.3 920C1129.9 917.8 1130.4 914.3 1130.8 911.7C1131.2 909 1130.8 905.4 1130.8 904.2"/>
<path d="M1115.8 904.2L1005 969.2"/>
<path d="M993.3 975.8L990 978.3"/>
<path d="M1130.8 904.2C1135.1 905.4 1146.8 908.9 1156.7 911.7C1166.5 914.4 1182.8 918.6 1190 920.8C1197.2 923.1 1197.6 923.2 1200 925C1202.4 926.8 1203.5 930.6 1204.2 931.7"/>
<path d="M1093.3 903C1090.6 903.6 1082.2 904.9 1076.7 906.7C1071.1 908.4 1063.3 911.4 1060 913.3C1056.7 915.3 1057.1 916.4 1056.7 918.3C1056.2 920.3 1057.4 923.9 1057.5 925"/>
<path d="M1047.5 931.7C1046.5 930.4 1043.8 926 1041.7 924.2C1039.6 922.4 1036.9 921 1035 920.8C1033.1 920.7 1031 921.5 1030 923.3C1029 925.1 1028.5 929 1029.2 931.7C1029.9 934.3 1033.3 937.9 1034.2 939.2"/>
<path d="M1121.7 926.7L1090 945L1063.3 958.3"/>
<path d="M1064.2 942.5C1064.2 944.3 1064.6 950.4 1064.2 953.3C1063.8 956.2 1063.1 957.9 1061.7 960C1060.3 962.1 1058.6 964.9 1055.8 965.8C1053.1 966.8 1048.5 966.8 1045 965.8C1041.5 964.9 1036.7 961 1035 960"/>
<path d="M1210 928.3C1210.1 927.4 1209.9 923.9 1210.8 922.5C1211.8 921.1 1213.9 919.9 1215.8 920C1217.8 920.1 1220.6 921.4 1222.5 923.3C1224.4 925.3 1226.5 928.9 1227.5 931.7C1228.5 934.4 1228.8 938.1 1228.3 940C1227.9 941.9 1226.5 942.9 1225 943.3C1223.5 943.8 1220.1 942.6 1219.2 942.5"/>
<path d="M1213.3 946.7C1214.4 947.6 1217.5 951.5 1220 952.5C1222.5 953.5 1225.8 953.5 1228.3 952.5C1230.8 951.5 1233.6 948.5 1235 946.7C1236.4 944.9 1235.6 942.9 1236.7 941.7C1237.8 940.4 1240.8 939.6 1241.7 939.2"/>
<path d="M1241.7 939.2L1264 952.5"/>
<path d="M1222.5 932.5L1111.7 996.7"/>
<path d="M1099.2 1004.2L1082.5 1013.3"/>
<path d="M1069.2 1020.8L990 1068.3"/>
<path d="M1251.7 929.2C1252.5 928.5 1254.6 926 1256.7 925C1258.7 924 1262.8 923.6 1264 923.3"/>
<path d="M1157.5 923C1156 924.7 1151.2 929.9 1148.3 933.3C1145.4 936.7 1142.2 940 1140 943.3C1137.8 946.7 1136 948.9 1135 953.3C1134 957.8 1134.3 967.2 1134.2 970"/>
<path d="M1093.3 946.7C1094.4 948.6 1098.2 954.2 1100 958.3C1101.8 962.5 1103.1 966.9 1104.2 971.7C1105.3 976.4 1106.2 984.2 1106.7 986.7"/>
<path d="M1080 954.2C1081.4 956.2 1086.1 962.4 1088.3 966.7C1090.6 971 1092.3 975.4 1093.3 980C1094.4 984.6 1094.4 991.8 1094.7 994.2"/>
<path d="M1073.3 955C1074.3 957.2 1077.7 963.3 1079.2 968.3C1080.6 973.3 1081.6 979.4 1082 985C1082.4 990.6 1081.4 998.9 1081.3 1001.7"/>
<path d="M1137.5 990.8C1137.9 995.1 1139.2 1008.2 1140 1016.7C1140.8 1025.1 1141.8 1034.7 1142.5 1041.7C1143.2 1048.6 1143.2 1051.9 1144.2 1058.3C1145.1 1064.7 1146.2 1072.5 1148.3 1080C1150.4 1087.5 1154.2 1095.8 1156.7 1103.3C1159.2 1110.8 1161.5 1119.2 1163.3 1125C1165.1 1130.8 1166.8 1136.1 1167.5 1138.3"/>
<path d="M1075.8 1026.7C1074.9 1029.7 1072.6 1038.6 1070 1045C1067.4 1051.4 1064.2 1058.1 1060 1065C1055.8 1071.9 1050 1080.3 1045 1086.7C1040 1093.1 1035 1098.9 1030 1103.3C1025 1107.8 1017.5 1111.7 1015 1113.3"/>
<path d="M1092.5 1016.7C1091.7 1020 1089.9 1029.4 1087.5 1036.7C1085.1 1043.9 1082.1 1052.5 1078.3 1060C1074.6 1067.5 1069.7 1075 1065 1081.7C1060.3 1088.3 1054.7 1095 1050 1100C1045.3 1105 1040.4 1108.8 1036.7 1111.7C1032.9 1114.6 1029 1116.5 1027.5 1117.5"/>
<path d="M1105 1010C1104.3 1013.1 1102.8 1021.7 1100.8 1028.3C1098.9 1035 1096.2 1043.1 1093.3 1050C1090.4 1056.9 1087.2 1063.6 1083.3 1070C1079.4 1076.4 1074.7 1082.2 1070 1088.3C1065.3 1094.4 1060 1101.4 1055 1106.7C1050 1111.9 1044.3 1116.7 1040 1120C1035.7 1123.3 1031 1125.6 1029.2 1126.7"/>
<path d="M1015 1113.3L1027.5 1117.5"/>
<path d="M1027.5 1117.5C1027.8 1119 1029 1124 1029.2 1126.7C1029.3 1129.3 1027.9 1131.4 1028.3 1133.3C1028.8 1135.3 1029.2 1137.2 1031.7 1138.3C1034.2 1139.4 1039.7 1138.3 1043.3 1140C1046.9 1141.7 1050 1144.7 1053.3 1148.3C1056.7 1151.9 1060.6 1156.7 1063.3 1161.7C1066.1 1166.6 1068.9 1175.3 1070 1178"/>
<path d="M1015 1113.3C1015.1 1118.1 1015.3 1133.6 1015.8 1141.7C1016.4 1149.7 1017.1 1155.6 1018.3 1161.7C1019.6 1167.7 1022.5 1175.3 1023.3 1178"/>
<path d="M1100 1089.2C1102.2 1089.2 1109.4 1088.2 1113.3 1089.2C1117.2 1090.1 1120 1092.1 1123.3 1095C1126.7 1097.9 1130.7 1102.2 1133.3 1106.7C1136 1111.1 1138.1 1116.4 1139.2 1121.7C1140.3 1126.9 1140.4 1133.1 1140 1138.3C1139.6 1143.6 1138.6 1148.9 1136.7 1153.3C1134.7 1157.8 1132.4 1161.4 1128.3 1165C1124.3 1168.6 1115.1 1173.3 1112.5 1175"/>
<path d="M1264 1095L1256.7 1099.2"/>
<path d="M1245 1106.7L1228.3 1115.8"/>
<path d="M1215 1123.3L1120 1178"/>
<path d="M1105 1173.3L1096.7 1178"/>
<path d="M1264 815.8L1278.2 808.3L1335.7 819.7"/>
<path d="M1349.8 821.7L1368.2 825.8"/>
<path d="M1382.3 828.3L1399 830.8"/>
<path d="M1399 830.8L1493.2 917.5"/>
<path d="M1504 929.2L1517.3 940.8"/>
<path d="M1514 950L1458.2 982.5"/>
<path d="M1399 830.8L1433.2 812"/>
<path d="M1445.7 805L1457.3 800"/>
<path d="M1399 830.8L1322.3 875.8"/>
<path d="M1264 853.3C1267.3 853.5 1277.9 853.5 1284 854.2C1290.1 854.9 1295.7 856.1 1300.7 857.5C1305.7 858.9 1310.4 861.1 1314 862.5C1317.6 863.9 1320.9 865.3 1322.3 865.8"/>
<path d="M1264 866.7L1280.7 867.5"/>
<path d="M1264 880C1266.8 878.3 1275.9 873.1 1280.7 870C1285.4 866.9 1289.3 863.3 1292.3 861.7C1295.4 860 1296.5 859.6 1299 860C1301.5 860.4 1304.6 861.9 1307.3 864.2C1310.1 866.4 1313.3 869.9 1315.7 873.3C1318 876.8 1320.4 881.4 1321.5 885C1322.6 888.6 1322.6 891.8 1322.3 895C1322.1 898.2 1320.2 902.6 1319.8 904.2"/>
<path d="M1270.7 919.2C1273.7 917.5 1284 911.9 1289 909.2C1294 906.4 1297.3 903.8 1300.7 902.5C1304 901.2 1306.5 901.1 1309 901.3C1311.5 901.6 1313.6 903.3 1315.7 904.2C1317.8 905.1 1317.6 904.3 1321.5 906.7C1325.4 909 1333.3 913.9 1339 918.3C1344.7 922.8 1348.7 926.9 1355.7 933.3C1362.6 939.7 1373.7 950.3 1380.7 956.7C1387.6 963.1 1393.4 968.6 1397.3 971.7C1401.2 974.7 1401.2 974.4 1404 975C1406.8 975.6 1410.7 975.4 1414 975C1417.3 974.6 1420.9 973.2 1424 972.5C1427.1 971.8 1430.1 970.7 1432.3 970.8C1434.6 971 1435.4 971.9 1437.3 973.3C1439.3 974.7 1442.1 977.2 1444 979.2C1445.9 981.1 1448.2 984 1449 985"/>
<path d="M1335.7 876.7C1336.5 877.1 1339 877.8 1340.7 879.2C1342.3 880.6 1344.1 883.1 1345.7 885C1347.2 886.9 1349.1 889.9 1349.8 890.8"/>
<path d="M1337.3 888.3C1339 888.8 1342.9 888.9 1347.3 890.8C1351.8 892.8 1356.8 896 1364 900C1371.2 904 1382.3 909.4 1390.7 915C1399 920.6 1407.3 927.5 1414 933.3C1420.7 939.2 1426.2 944.4 1430.7 950C1435.1 955.6 1437.6 961.1 1440.7 966.7C1443.7 972.2 1446.5 977.2 1449 983.3C1451.5 989.4 1454.6 1000 1455.7 1003.3"/>
<path d="M1447.3 976.7C1448.3 979.2 1451.5 986.8 1453.2 991.7C1454.8 996.5 1456.6 1003.5 1457.3 1005.8" stroke-width="4.5"/>
<path d="M1351.5 916.7C1354.7 917.2 1364.4 918.8 1370.7 920C1376.9 921.2 1383.2 922.2 1389 924.2C1394.8 926.1 1400.7 928.8 1405.7 931.7C1410.7 934.6 1416.8 940 1419 941.7"/>
<path d="M1354 931.7C1355.7 931.1 1359.6 929.3 1364 928.3C1368.4 927.4 1375.7 925.8 1380.7 925.8C1385.7 925.8 1389 926.8 1394 928.3C1399 929.9 1405.7 931.9 1410.7 935C1415.7 938.1 1421.8 944.7 1424 946.7"/>
<path d="M1264 922.5C1266.8 924.6 1273.7 929.9 1280.7 935C1287.6 940.1 1301.5 950.3 1305.7 953.3"/>
<path d="M1264 933.3C1267.6 935.8 1277.3 943.3 1285.7 948.3C1294 953.3 1306.5 958.9 1314 963.3C1321.5 967.8 1326.5 971.4 1330.7 975C1334.8 978.6 1335.9 980.8 1339 985C1342.1 989.2 1345.9 996.4 1349 1000C1352.1 1003.6 1353.7 1003.9 1357.3 1006.7C1360.9 1009.4 1367.3 1013.6 1370.7 1016.7C1374 1019.7 1374 1019.4 1377.3 1025C1380.7 1030.6 1384.6 1038.9 1390.7 1050C1396.8 1061.1 1407.3 1079.7 1414 1091.7C1420.7 1103.6 1425.9 1112.5 1430.7 1121.7C1435.4 1130.8 1439.6 1139.2 1442.3 1146.7C1445.1 1154.2 1446.2 1161.4 1447.3 1166.7C1448.4 1171.9 1448.7 1176.1 1449 1178"/>
<path d="M1264 952.5C1268.2 954.9 1280.7 962.1 1289 966.7C1297.3 971.2 1307.6 976.4 1314 980C1320.4 983.6 1323.4 984.7 1327.3 988.3C1331.2 991.9 1334.6 998.1 1337.3 1001.7C1340.1 1005.3 1341.9 1007.8 1344 1010C1346.1 1012.2 1348.7 1012.8 1349.8 1015C1350.9 1017.2 1350.8 1020.3 1350.7 1023.3C1350.5 1026.4 1349.3 1031.7 1349 1033.3"/>
<path d="M1295.7 977.5C1296.4 982.6 1298.6 997.6 1299.8 1008.3C1301.1 1019 1302.9 1032.9 1303.2 1041.7C1303.4 1050.4 1301.8 1057.6 1301.5 1060.8"/>
<path d="M1299.8 1083.3C1299.4 1086.1 1299.1 1091.9 1297.3 1100C1295.5 1108.1 1292.3 1121.9 1289 1131.7C1285.7 1141.4 1280.7 1150.6 1277.3 1158.3C1274 1166.1 1270.4 1174.7 1269 1178"/>
<path d="M1354.8 1030.8C1355 1029.7 1354.7 1025.7 1355.7 1024.2C1356.6 1022.6 1358.6 1021.5 1360.7 1021.7C1362.8 1021.8 1366.1 1023.1 1368.2 1025C1370.2 1026.9 1372.2 1030.6 1373.2 1033.3C1374.1 1036.1 1374.4 1039.6 1374 1041.7C1373.6 1043.8 1372.2 1045.3 1370.7 1045.8C1369.1 1046.4 1365.8 1045.1 1364.8 1045"/>
<path d="M1359 1049.2C1359.8 1050 1361.8 1053.1 1364 1054.2C1366.2 1055.3 1369.3 1056 1372.3 1055.8C1375.4 1055.7 1379.3 1051.5 1382.3 1053.3C1385.4 1055.1 1387.6 1061.1 1390.7 1066.7C1393.7 1072.2 1397.9 1081.4 1400.7 1086.7C1403.4 1091.9 1406.2 1095.7 1407.3 1098.3C1408.4 1101 1409 1101.4 1407.3 1102.5C1405.7 1103.6 1399.8 1103.5 1397.3 1105C1394.8 1106.5 1393.3 1108.3 1392.3 1111.7C1391.4 1115 1390.9 1120.4 1391.5 1125C1392.1 1129.6 1395 1136.8 1395.7 1139.2"/>
<path d="M1368.2 1034.7L1264 1095.8"/>
<path d="M1377.3 1009.2C1380.1 1011.8 1389.8 1020.1 1394 1025C1398.2 1029.9 1399 1033.1 1402.3 1038.3C1405.7 1043.6 1410.4 1050.8 1414 1056.7C1417.6 1062.5 1421.2 1068.9 1424 1073.3C1426.8 1077.8 1428.6 1080 1430.7 1083.3C1432.8 1086.7 1435.7 1090.6 1436.5 1093.3C1437.3 1096.1 1436.4 1098.5 1435.7 1100C1435 1101.5 1432.9 1102.1 1432.3 1102.5"/>
<path d="M1380.7 1028.3C1383.4 1033.6 1391.8 1049.7 1397.3 1060C1402.9 1070.3 1408.4 1080 1414 1090C1419.6 1100 1426.2 1112.2 1430.7 1120C1435.1 1127.8 1438.2 1131.7 1440.7 1136.7C1443.2 1141.7 1444.8 1147.8 1445.7 1150"/>
<path d="M1352.3 985C1353.2 985.7 1355.4 988.6 1357.3 989.2C1359.3 989.7 1358 991.1 1364 988.3C1370 985.6 1388.3 975.1 1393.2 972.5"/>
<path d="M1370.7 1005L1411.5 983.3"/>
<path d="M1408.2 1031.7L1441.5 1014.2"/>
<path d="M1434 1018.3C1434.3 1020 1434.3 1024.7 1435.7 1028.3C1437.1 1031.9 1440.4 1035.3 1442.3 1040C1444.3 1044.7 1445.7 1052.5 1447.3 1056.7C1449 1060.8 1450.4 1063.3 1452.3 1065C1454.3 1066.7 1457.9 1066.4 1459 1066.7"/>
<path d="M1433.2 1080C1437.5 1077.8 1451.1 1070.8 1459 1066.7C1466.9 1062.5 1475.7 1057.5 1480.7 1055C1485.7 1052.5 1486.2 1052.2 1489 1051.7C1491.8 1051.1 1494 1050.6 1497.3 1051.7C1500.7 1052.8 1505.4 1055.3 1509 1058.3C1512.6 1061.4 1516.5 1066.4 1519 1070C1521.5 1073.6 1523.2 1078.3 1524 1080"/>
<path d="M1448.2 1010.8C1448.9 1010.4 1451.1 1009 1452.3 1008.3C1453.6 1007.6 1452.3 1006.2 1455.7 1006.7C1459 1007.1 1466.8 1008.6 1472.3 1010.8C1477.9 1013.1 1483.7 1016 1489 1020C1494.3 1024 1499.6 1029.4 1504 1035C1508.4 1040.6 1512.6 1046.7 1515.7 1053.3C1518.7 1060 1520.4 1067.2 1522.3 1075C1524.3 1082.8 1525.9 1091.7 1527.3 1100C1528.7 1108.3 1529.8 1116.7 1530.7 1125C1531.5 1133.3 1532.6 1141.2 1532.3 1150C1532.1 1158.8 1529.6 1173.3 1529 1178"/>
<path d="M1527.3 1100C1526.8 1101.7 1526.8 1106.7 1524 1110C1521.2 1113.3 1515.7 1116.4 1510.7 1120C1505.7 1123.6 1498.7 1128.3 1494 1131.7C1489.3 1135 1484.8 1137.2 1482.3 1140C1479.8 1142.8 1479 1145.6 1479 1148.3C1479 1151.1 1479.8 1154.7 1482.3 1156.7C1484.8 1158.6 1492.1 1159.4 1494 1160"/>
<path d="M1501.5 1017.5L1538 997.5"/>
<path d="M1448.2 1139.2C1450.2 1138.2 1456.4 1134.6 1460.7 1133.3C1465 1132.1 1471.9 1130.8 1474 1131.7C1476.1 1132.5 1475.1 1135.8 1473.2 1138.3C1471.2 1140.8 1464.6 1143.3 1462.3 1146.7C1460.1 1150 1459.7 1155.6 1459.8 1158.3C1460 1161.1 1459.7 1162.9 1463.2 1163.3C1466.6 1163.8 1475.4 1161.5 1480.7 1160.8C1485.9 1160.1 1492.5 1159.4 1494.8 1159.2"/>
<path d="M1408.2 1132.5C1408.2 1131.4 1407.2 1127.4 1408.2 1125.8C1409.1 1124.3 1411.9 1123.2 1414 1123.3C1416.1 1123.5 1418.7 1124.7 1420.7 1126.7C1422.6 1128.6 1424.7 1132.2 1425.7 1135C1426.6 1137.8 1426.9 1141.4 1426.5 1143.3C1426.1 1145.3 1424.7 1146.2 1423.2 1146.7C1421.6 1147.2 1418.3 1146.4 1417.3 1146.3"/>
<path d="M1419.8 1136.7L1347.3 1178"/>
<path d="M1405.7 1155C1407.1 1156.4 1410.9 1161.4 1414 1163.3C1417.1 1165.3 1421.2 1165 1424 1166.7C1426.8 1168.3 1429.3 1171.4 1430.7 1173.3C1432.1 1175.2 1432.1 1177.2 1432.3 1178"/>
<path d="M1327.3 1135C1325.1 1135.8 1317.6 1137.8 1314 1140C1310.4 1142.2 1307.3 1145.3 1305.7 1148.3C1304 1151.4 1303.7 1153.4 1304 1158.3C1304.3 1163.3 1306.8 1174.7 1307.3 1178"/>
<path d="M1337.3 1132.5C1339 1132.6 1344 1131.8 1347.3 1133.3C1350.7 1134.9 1354.6 1138.6 1357.3 1141.7C1360.1 1144.7 1362.5 1149.2 1364 1151.7C1365.5 1154.2 1366.1 1155.8 1366.5 1156.7"/>
<path d="M1319 1143.3C1320.9 1143.9 1327.3 1144.7 1330.7 1146.7C1334 1148.6 1336.4 1151.7 1339 1155C1341.6 1158.3 1345.2 1164.7 1346.5 1166.7"/>
<path d="M1319 1178C1319 1175.8 1318.2 1167.9 1319 1165C1319.8 1162.1 1322.1 1160.8 1324 1160.8C1325.9 1160.8 1328.7 1162.9 1330.7 1165C1332.6 1167.1 1334.8 1171.9 1335.7 1173.3"/>
<path d="M1455.7 1178C1458.4 1176.7 1465.4 1171.6 1472.3 1170C1479.3 1168.4 1489.8 1167.8 1497.3 1168.3C1504.8 1168.9 1512.9 1171.7 1517.3 1173.3C1521.8 1174.9 1522.9 1177.2 1524 1178"/>
<path d="M1023.3 1178C1024.4 1179.2 1027.2 1181.9 1030 1185C1032.8 1188.1 1037.4 1192.9 1040 1196.7C1042.6 1200.4 1044.9 1205.7 1045.8 1207.5"/>
<path d="M1070.8 1178C1071 1178.9 1072.1 1180.8 1071.7 1183.3C1071.2 1185.9 1070 1190.8 1068.3 1193.3C1066.7 1195.8 1063.9 1197.4 1061.7 1198.3C1059.4 1199.3 1056.1 1199 1055 1199.2"/>
<path d="M1053 1161.6C1053.3 1162.1 1053.5 1162.6 1053.8 1163.1C1054 1163.6 1054.3 1164.2 1054.5 1164.7C1054.7 1165.2 1054.9 1165.7 1055 1166.3C1055.2 1166.8 1055.3 1167.3 1055.4 1167.8C1055.5 1168.4 1055.6 1168.9 1055.6 1169.4C1055.7 1169.9 1055.7 1170.4 1055.7 1170.8C1055.7 1171.3 1055.7 1171.8 1055.6 1172.2C1055.6 1172.7 1055.5 1173.1 1055.4 1173.5C1055.3 1173.9 1055.2 1174.3 1055 1174.6C1054.8 1174.9 1054.6 1175.3 1054.4 1175.6C1054.2 1175.9 1054 1176.1 1053.8 1176.4C1053.5 1176.6 1053.2 1176.8 1052.9 1177C1052.6 1177.1 1052.3 1177.3 1052 1177.4C1051.7 1177.5 1051.3 1177.6 1051 1177.6C1050.6 1177.6 1050.2 1177.6 1049.9 1177.6C1049.5 1177.6 1049.1 1177.5 1048.7 1177.4C1048.3 1177.3 1047.9 1177.1 1047.5 1177C1047.1 1176.8 1046.6 1176.6 1046.2 1176.4C1045.8 1176.1 1045.4 1175.9 1045 1175.6C1044.6 1175.3 1044.2 1175 1043.8 1174.6C1043.4 1174.3 1043 1173.9 1042.6 1173.5C1042.2 1173.1 1041.9 1172.7 1041.5 1172.2C1041.1 1171.8 1040.8 1171.3 1040.5 1170.8C1040.1 1170.4 1039.8 1169.9 1039.5 1169.4C1039.2 1168.9 1039 1168.4 1038.7 1167.8C1038.5 1167.3 1038.2 1166.8 1038 1166.3C1037.8 1165.7 1037.6 1165.2 1037.5 1164.7C1037.3 1164.2 1037.2 1163.6 1037.1 1163.1C1037 1162.6 1036.9 1162.1 1036.9 1161.6C1036.8 1161.1 1036.8 1160.6 1036.8 1160.1C1036.8 1159.6 1036.8 1159.2 1036.9 1158.7C1036.9 1158.3 1037 1157.9 1037.1 1157.5C1037.2 1157.1 1037.3 1156.7 1037.5 1156.4C1037.7 1156 1037.9 1155.7 1038.1 1155.4C1038.3 1155.1 1038.5 1154.8 1038.7 1154.6C1039 1154.4 1039.3 1154.2 1039.6 1154C1039.9 1153.8 1040.2 1153.7 1040.5 1153.6C1040.8 1153.5 1041.2 1153.4 1041.5 1153.4C1041.9 1153.3 1042.3 1153.3 1042.6 1153.4C1043 1153.4 1043.4 1153.5 1043.8 1153.6C1044.2 1153.7 1044.6 1153.8 1045 1154C1045.4 1154.2 1045.9 1154.4 1046.3 1154.6C1046.7 1154.8 1047.1 1155.1 1047.5 1155.4C1047.9 1155.7 1048.3 1156 1048.7 1156.4C1049.1 1156.7 1049.5 1157.1 1049.9 1157.5C1050.3 1157.9 1050.6 1158.3 1051 1158.7C1051.4 1159.2 1051.7 1159.6 1052 1160.1C1052.4 1160.6 1052.7 1161.1 1053 1161.6Z"/>
<path d="M1120 1178L1105 1186.7"/>
<path d="M1092.5 1195L1075.8 1203.3"/>
<path d="M1063.3 1211.7L990 1255"/>
<path d="M1096.7 1178L1055 1202.5"/>
<path d="M1061.7 1220.8C1063.1 1220.7 1067.2 1219.6 1070 1220C1072.8 1220.4 1075.6 1221.1 1078.3 1223.3C1081.1 1225.6 1084.6 1230 1086.7 1233.3C1088.8 1236.7 1090 1239.4 1090.8 1243.3C1091.7 1247.2 1091.5 1254.4 1091.7 1256.7"/>
<path d="M1067.4 1230.5C1067.6 1230.3 1067.9 1230.2 1068.2 1230.1C1068.5 1229.9 1068.8 1229.9 1069.1 1229.8C1069.4 1229.8 1069.8 1229.7 1070.1 1229.7C1070.5 1229.8 1070.8 1229.8 1071.2 1229.9C1071.6 1229.9 1072 1230.1 1072.4 1230.2C1072.8 1230.3 1073.2 1230.5 1073.6 1230.7C1074 1230.9 1074.4 1231.1 1074.8 1231.4C1075.3 1231.6 1075.7 1231.9 1076.1 1232.2C1076.5 1232.6 1076.9 1232.9 1077.3 1233.2C1077.7 1233.6 1078.1 1234 1078.5 1234.4C1078.9 1234.8 1079.3 1235.2 1079.7 1235.6C1080 1236.1 1080.4 1236.5 1080.7 1237C1081.1 1237.4 1081.4 1237.9 1081.7 1238.4C1082 1238.9 1082.3 1239.4 1082.5 1239.8C1082.8 1240.3 1083 1240.8 1083.3 1241.3C1083.5 1241.8 1083.7 1242.3 1083.9 1242.8C1084 1243.3 1084.2 1243.8 1084.3 1244.2C1084.4 1244.7 1084.5 1245.2 1084.6 1245.6C1084.6 1246.1 1084.7 1246.5 1084.7 1247C1084.7 1247.4 1084.7 1247.8 1084.7 1248.2C1084.6 1248.6 1084.5 1248.9 1084.4 1249.3C1084.4 1249.6 1084.2 1249.9 1084.1 1250.2C1083.9 1250.5 1083.8 1250.8 1083.6 1251C1083.4 1251.2 1083.2 1251.4 1082.9 1251.6C1082.7 1251.8 1082.4 1252 1082.1 1252.1C1081.8 1252.2 1081.5 1252.3 1081.2 1252.3C1080.9 1252.4 1080.5 1252.4 1080.2 1252.4C1079.8 1252.4 1079.5 1252.3 1079.1 1252.3C1078.7 1252.2 1078.3 1252.1 1077.9 1251.9C1077.5 1251.8 1077.1 1251.6 1076.7 1251.4C1076.3 1251.2 1075.9 1251 1075.5 1250.7C1075 1250.5 1074.6 1250.2 1074.2 1249.9C1073.8 1249.6 1073.4 1249.2 1073 1248.9C1072.6 1248.5 1072.2 1248.1 1071.8 1247.8C1071.4 1247.4 1071 1246.9 1070.6 1246.5C1070.3 1246.1 1069.9 1245.6 1069.6 1245.2C1069.2 1244.7 1068.9 1244.2 1068.6 1243.7C1068.3 1243.3 1068 1242.8 1067.8 1242.3C1067.5 1241.8 1067.3 1241.3 1067 1240.8C1066.8 1240.3 1066.6 1239.8 1066.4 1239.3C1066.3 1238.8 1066.1 1238.4 1066 1237.9C1065.9 1237.4 1065.8 1236.9 1065.7 1236.5C1065.7 1236 1065.6 1235.6 1065.6 1235.2C1065.6 1234.8 1065.6 1234.3 1065.6 1234C1065.7 1233.6 1065.8 1233.2 1065.9 1232.9C1065.9 1232.5 1066.1 1232.2 1066.2 1231.9C1066.4 1231.6 1066.5 1231.4 1066.7 1231.1C1066.9 1230.9 1067.2 1230.7 1067.4 1230.5Z"/>
<path d="M1051.7 1226.7C1052.5 1230.3 1054.7 1240.6 1056.7 1248.3C1058.6 1256.1 1061.1 1265.8 1063.3 1273.3C1065.6 1280.8 1068.1 1287.8 1070 1293.3C1071.9 1298.9 1073.3 1303.3 1075 1306.7C1076.7 1310 1078.2 1311.4 1080 1313.3C1081.8 1315.3 1084.9 1317.5 1085.8 1318.3"/>
<path d="M1091.7 1256.7C1090.8 1257.6 1089 1261.4 1086.7 1262.5C1084.3 1263.6 1078.9 1262.1 1077.5 1263.3C1076.1 1264.6 1077.6 1266.1 1078.3 1270C1079 1273.9 1080.6 1282.2 1081.7 1286.7C1082.8 1291.1 1083.6 1293.8 1085 1296.7C1086.4 1299.6 1087.6 1301.9 1090 1304.2C1092.4 1306.4 1097.6 1309.3 1099.2 1310.3"/>
<path d="M1091.7 1259.2C1096.9 1256.2 1115.8 1246.5 1123.3 1241.7C1130.8 1236.8 1133.1 1233.9 1136.7 1230C1140.3 1226.1 1142.8 1222.2 1145 1218.3C1147.2 1214.4 1149 1210 1150 1206.7C1151 1203.3 1151 1200.7 1150.8 1198.3C1150.7 1196 1149.4 1193.5 1149.2 1192.5"/>
<path d="M1095 1290L1173.3 1244.2"/>
<path d="M1120 1295L1169.2 1267.5"/>
<path d="M1128.3 1305.8L1144.2 1296.7"/>
<path d="M1157.5 1288.3L1264 1226.7"/>
<path d="M1207.5 1246.7C1210.1 1244.7 1217.9 1240.3 1223.3 1235C1228.8 1229.7 1234.4 1221.9 1240 1215C1245.6 1208.1 1252.7 1198.9 1256.7 1193.3C1260.7 1187.8 1262.8 1183.6 1264 1181.7"/>
<path d="M1190 1279.2L1264 1330"/>
<path d="M1115 1313.3L1005 1376.7"/>
<path d="M992.5 1384.2L990 1385.8"/>
<path d="M1115 1322.5C1130.3 1332.8 1190.6 1373.6 1206.7 1384.2C1222.8 1394.7 1210 1385.7 1211.7 1385.8C1213.3 1386 1215.7 1386.2 1216.7 1385C1217.6 1383.8 1216.8 1380.4 1217.5 1378.3C1218.2 1376.2 1219 1373.8 1220.8 1372.5C1222.6 1371.2 1225.7 1370.7 1228.3 1370.8C1231 1371 1233.9 1371.5 1236.7 1373.3C1239.4 1375.1 1242.8 1378.3 1245 1381.7C1247.2 1385 1248.6 1389.7 1250 1393.3C1251.4 1396.9 1251.9 1400.6 1253.3 1403.3C1254.7 1406.1 1256.6 1408.5 1258.3 1410C1260.1 1411.5 1263.1 1412.1 1264 1412.5"/>
<path d="M1101.7 1330C1102.5 1330.7 1103.1 1331.8 1106.7 1334.2C1110.3 1336.5 1115 1338.5 1123.3 1344.2C1131.7 1349.9 1145.6 1360.4 1156.7 1368.3C1167.8 1376.2 1180.3 1385.3 1190 1391.7C1199.7 1398.1 1208.1 1402.8 1215 1406.7C1221.9 1410.6 1226.1 1412.5 1231.7 1415C1237.2 1417.5 1242.9 1419.3 1248.3 1421.7C1253.7 1424 1261.4 1427.9 1264 1429.2"/>
<path d="M1220.8 1372.5L1264 1349.2"/>
<path d="M1240.7 1388.1C1241.1 1388.6 1241.4 1389.1 1241.7 1389.7C1242 1390.2 1242.3 1390.7 1242.5 1391.2C1242.8 1391.8 1243 1392.3 1243.2 1392.8C1243.4 1393.3 1243.6 1393.9 1243.8 1394.4C1244 1394.9 1244.1 1395.4 1244.2 1395.9C1244.3 1396.4 1244.4 1396.9 1244.5 1397.4C1244.5 1397.9 1244.6 1398.3 1244.6 1398.8C1244.6 1399.2 1244.6 1399.6 1244.5 1400C1244.5 1400.4 1244.4 1400.8 1244.3 1401.2C1244.2 1401.5 1244 1401.8 1243.9 1402.1C1243.7 1402.4 1243.5 1402.7 1243.3 1402.9C1243.1 1403.2 1242.9 1403.4 1242.6 1403.5C1242.4 1403.7 1242.1 1403.9 1241.8 1404C1241.5 1404.1 1241.2 1404.1 1240.8 1404.2C1240.5 1404.2 1240.2 1404.2 1239.8 1404.2C1239.4 1404.2 1239 1404.1 1238.7 1404C1238.3 1403.9 1237.9 1403.7 1237.5 1403.6C1237 1403.4 1236.6 1403.2 1236.2 1403C1235.8 1402.8 1235.4 1402.5 1234.9 1402.2C1234.5 1401.9 1234.1 1401.6 1233.7 1401.2C1233.3 1400.9 1232.8 1400.5 1232.4 1400.1C1232 1399.7 1231.6 1399.3 1231.2 1398.9C1230.8 1398.4 1230.4 1398 1230.1 1397.5C1229.7 1397 1229.4 1396.5 1229 1396C1228.7 1395.5 1228.4 1395 1228.1 1394.5C1227.8 1394 1227.5 1393.5 1227.2 1392.9C1227 1392.4 1226.7 1391.9 1226.5 1391.4C1226.3 1390.8 1226.1 1390.3 1225.9 1389.8C1225.8 1389.3 1225.6 1388.7 1225.5 1388.2C1225.4 1387.7 1225.3 1387.3 1225.3 1386.8C1225.2 1386.3 1225.2 1385.8 1225.2 1385.4C1225.2 1385 1225.2 1384.5 1225.2 1384.1C1225.3 1383.7 1225.4 1383.4 1225.5 1383C1225.6 1382.7 1225.7 1382.3 1225.9 1382C1226 1381.7 1226.2 1381.5 1226.4 1381.2C1226.6 1381 1226.9 1380.8 1227.1 1380.6C1227.4 1380.5 1227.6 1380.3 1227.9 1380.2C1228.2 1380.1 1228.6 1380 1228.9 1380C1229.2 1380 1229.6 1380 1229.9 1380C1230.3 1380 1230.7 1380.1 1231.1 1380.2C1231.5 1380.3 1231.9 1380.4 1232.3 1380.6C1232.7 1380.8 1233.1 1381 1233.5 1381.2C1233.9 1381.4 1234.4 1381.7 1234.8 1382C1235.2 1382.3 1235.6 1382.6 1236.1 1382.9C1236.5 1383.3 1236.9 1383.6 1237.3 1384C1237.7 1384.4 1238.1 1384.9 1238.5 1385.3C1238.9 1385.7 1239.3 1386.2 1239.7 1386.7C1240 1387.1 1240.4 1387.6 1240.7 1388.1Z"/>
<path d="M1264 1465L1169.2 1518"/>
<path d="M1269 1178C1268.6 1178.8 1267.3 1181.2 1266.5 1182.5C1265.7 1183.8 1264.4 1185.3 1264 1185.8"/>
<path d="M1307.3 1178C1308 1178.9 1310.2 1182 1311.5 1183.3C1312.8 1184.6 1314.3 1185.4 1314.8 1185.8"/>
<path d="M1347.3 1178L1309 1200.8"/>
<path d="M1297.3 1207.5L1280.7 1217.5"/>
<path d="M1268.2 1225L1264 1226.7"/>
<path d="M1350.7 1186.7C1350.5 1187.8 1350.9 1191.1 1349.8 1193.3C1348.7 1195.6 1346.4 1198.8 1344 1200C1341.6 1201.2 1338.2 1201.1 1335.7 1200.8C1333.2 1200.6 1330.1 1198.8 1329 1198.3"/>
<path d="M1349.8 1194.2L1363.2 1189.2"/>
<path d="M1432.3 1178C1433 1179.2 1433.7 1182.3 1436.5 1185C1439.3 1187.7 1446.9 1192.6 1449 1194.2"/>
<path d="M1426.5 1169.2C1425.8 1172.6 1424.4 1182.4 1422.3 1190C1420.2 1197.6 1417.3 1206.7 1414 1215C1410.7 1223.3 1406.5 1231.9 1402.3 1240C1398.2 1248.1 1394 1255.8 1389 1263.3C1384 1270.8 1378.2 1278.3 1372.3 1285C1366.5 1291.7 1359.6 1298.2 1354 1303.3C1348.4 1308.5 1341.5 1313.8 1339 1315.8"/>
<path d="M1449 1178L1449 1194.2"/>
<path d="M1449 1194.2C1450.9 1193.2 1455.9 1190.3 1460.7 1188.3C1465.4 1186.4 1472.6 1183.6 1477.3 1182.5C1482.1 1181.4 1485.7 1181.2 1489 1181.7C1492.3 1182.1 1494.8 1182.8 1497.3 1185C1499.8 1187.2 1502.6 1190 1504 1195C1505.4 1200 1505.7 1208.1 1505.7 1215C1505.7 1221.9 1505.4 1228.6 1504 1236.7C1502.6 1244.7 1500.1 1255 1497.3 1263.3C1494.6 1271.7 1491.2 1279.4 1487.3 1286.7C1483.4 1293.9 1478.7 1300.6 1474 1306.7C1469.3 1312.8 1464.6 1318.6 1459 1323.3C1453.4 1328.1 1443.7 1333.1 1440.7 1335"/>
<path d="M1524 1178C1524.6 1181.4 1526.2 1191.3 1527.3 1198.3C1528.4 1205.3 1530.4 1212.5 1530.7 1220C1530.9 1227.5 1530.4 1235 1529 1243.3C1527.6 1251.7 1525.1 1261.1 1522.3 1270C1519.6 1278.9 1516.5 1288.3 1512.3 1296.7C1508.2 1305 1502.6 1312.8 1497.3 1320C1492.1 1327.2 1485.7 1334.7 1480.7 1340C1475.7 1345.3 1471.5 1348.9 1467.3 1351.7C1463.2 1354.4 1457.6 1355.8 1455.7 1356.7"/>
<path d="M1495.7 1185C1497.3 1185.8 1502.6 1186.9 1505.7 1190C1508.7 1193.1 1511.8 1197.8 1514 1203.3C1516.2 1208.9 1518.4 1215.8 1519 1223.3C1519.6 1230.8 1519 1239.4 1517.3 1248.3C1515.7 1257.2 1512.3 1268.1 1509 1276.7C1505.7 1285.3 1502.1 1292.5 1497.3 1300C1492.6 1307.5 1486.2 1315.6 1480.7 1321.7C1475.1 1327.8 1468.4 1333.1 1464 1336.7C1459.6 1340.3 1455.7 1342.2 1454 1343.3"/>
<path d="M1538 1195C1537.3 1199.7 1535.8 1213.1 1534 1223.3C1532.2 1233.6 1530.7 1244.7 1527.3 1256.7C1524 1268.6 1519 1282.5 1514 1295C1509 1307.5 1502.9 1320.6 1497.3 1331.7C1491.8 1342.8 1485.1 1353.3 1480.7 1361.7C1476.2 1370 1472.3 1378.3 1470.7 1381.7"/>
<path d="M1510.7 1300C1512.3 1301.9 1517.8 1307.8 1520.7 1311.7C1523.6 1315.6 1526.6 1318.6 1528.2 1323.3C1529.7 1328.1 1530.2 1335 1529.8 1340C1529.4 1345 1528.3 1349.7 1525.7 1353.3C1523 1356.9 1515.9 1360.3 1514 1361.7"/>
<path d="M1514 1361.7L1470.7 1385"/>
<path d="M1458.2 1290.8C1457.2 1292.9 1455.2 1299 1452.3 1303.3C1449.4 1307.6 1444.8 1312.8 1440.7 1316.7C1436.5 1320.6 1431.8 1323.9 1427.3 1326.7C1422.9 1329.4 1417.3 1331.8 1414 1333.3C1410.7 1334.9 1408.4 1335.4 1407.3 1335.8"/>
<path d="M1403.2 1370.8C1402.5 1368.5 1399.7 1361 1399 1356.7C1398.3 1352.4 1398.2 1348.1 1399 1345C1399.8 1341.9 1402.1 1339.9 1404 1338.3C1405.9 1336.8 1408.2 1336.1 1410.7 1335.8C1413.2 1335.6 1416.2 1335.8 1419 1336.7C1421.8 1337.5 1424.3 1338.9 1427.3 1340.8C1430.4 1342.8 1435.7 1347.1 1437.3 1348.3"/>
<path d="M1437.3 1348.3L1441.5 1348.3L1441.5 1335.8L1454 1343.3L1455.7 1356.7"/>
<path d="M1416.5 1364.2C1416.5 1363.2 1415.8 1359.7 1416.5 1358.3C1417.2 1356.9 1419 1355.8 1420.7 1355.8C1422.3 1355.8 1424.6 1356.5 1426.5 1358.3C1428.4 1360.1 1431.1 1363.9 1432.3 1366.7C1433.6 1369.4 1434.3 1372.9 1434 1375C1433.7 1377.1 1432.2 1378.5 1430.7 1379.2C1429.1 1379.9 1425.8 1379.2 1424.8 1379.2"/>
<path d="M1428.2 1370L1318.2 1434.2"/>
<path d="M1304.8 1440.8L1289 1449.7"/>
<path d="M1275.7 1457.5L1264 1463.3"/>
<path d="M1411.5 1388.3C1412.8 1389.4 1415.8 1393.1 1419 1395C1422.2 1396.9 1428.2 1398.1 1430.7 1400C1433.2 1401.9 1434.3 1402.8 1434 1406.7C1433.7 1410.6 1430.9 1417.2 1429 1423.3C1427.1 1429.4 1424.3 1438.3 1422.3 1443.3C1420.4 1448.3 1418.2 1451.7 1417.3 1453.3"/>
<path d="M1454 1343.3L1456.5 1441.7"/>
<path d="M1470.7 1383.3L1470.7 1435L1455.7 1442.5"/>
<path d="M1455.7 1442.5L1438.2 1439.2L1419.8 1487.5"/>
<path d="M1455.7 1442.5C1455.1 1444.9 1453.7 1452.6 1452.3 1456.7C1450.9 1460.7 1449.8 1463.3 1447.3 1466.7C1444.8 1470 1441.8 1473.2 1437.3 1476.7C1432.9 1480.1 1423.4 1485.7 1420.7 1487.5"/>
<path d="M1264 1411.7L1304 1428.3"/>
<path d="M1264 1426.7L1289 1436.7"/>
<path d="M1324 1438.3C1330.7 1440.8 1354.6 1449.9 1364 1453.3C1373.4 1456.8 1377.2 1458.6 1380.7 1459.2C1384.1 1459.7 1383.9 1458.8 1384.8 1456.7C1385.8 1454.6 1385.2 1449.3 1386.5 1446.7C1387.8 1444 1390 1441.9 1392.3 1440.8C1394.7 1439.7 1397.9 1439.3 1400.7 1440C1403.4 1440.7 1406.2 1442.8 1409 1445C1411.8 1447.2 1415.9 1451.9 1417.3 1453.3"/>
<path d="M1310.7 1446.7C1316.8 1449.4 1335.7 1458.3 1347.3 1463.3C1359 1468.3 1372.3 1473.1 1380.7 1476.7C1389 1480.3 1392.3 1483.1 1397.3 1485C1402.3 1486.9 1406.8 1487.9 1410.7 1488.3C1414.6 1488.8 1419 1487.6 1420.7 1487.5"/>
<path d="M1395.7 1440L1420.7 1426.7"/>
<path d="M1409.3 1459.6C1409.6 1460.1 1409.9 1460.6 1410.2 1461.1C1410.5 1461.6 1410.7 1462.1 1411 1462.6C1411.2 1463.2 1411.5 1463.7 1411.7 1464.2C1411.9 1464.7 1412.1 1465.2 1412.2 1465.8C1412.4 1466.3 1412.5 1466.8 1412.6 1467.3C1412.7 1467.7 1412.8 1468.2 1412.9 1468.7C1412.9 1469.1 1413 1469.6 1413 1470C1413 1470.4 1412.9 1470.9 1412.9 1471.2C1412.8 1471.6 1412.8 1472 1412.7 1472.3C1412.6 1472.7 1412.4 1473 1412.3 1473.3C1412.1 1473.5 1412 1473.8 1411.8 1474C1411.6 1474.2 1411.3 1474.4 1411.1 1474.6C1410.8 1474.8 1410.6 1474.9 1410.3 1475C1410 1475.1 1409.7 1475.1 1409.4 1475.2C1409.1 1475.2 1408.7 1475.2 1408.4 1475.1C1408 1475.1 1407.7 1475 1407.3 1474.9C1406.9 1474.8 1406.5 1474.7 1406.1 1474.5C1405.8 1474.3 1405.4 1474.1 1405 1473.9C1404.6 1473.6 1404.1 1473.4 1403.7 1473.1C1403.3 1472.8 1402.9 1472.4 1402.5 1472.1C1402.1 1471.7 1401.7 1471.4 1401.3 1471C1400.9 1470.6 1400.6 1470.2 1400.2 1469.7C1399.8 1469.3 1399.4 1468.8 1399.1 1468.4C1398.7 1467.9 1398.4 1467.4 1398.1 1466.9C1397.7 1466.4 1397.4 1465.9 1397.1 1465.4C1396.9 1464.9 1396.6 1464.4 1396.3 1463.9C1396.1 1463.3 1395.9 1462.8 1395.7 1462.3C1395.4 1461.8 1395.3 1461.3 1395.1 1460.8C1394.9 1460.2 1394.8 1459.7 1394.7 1459.3C1394.6 1458.8 1394.5 1458.3 1394.5 1457.8C1394.4 1457.4 1394.4 1456.9 1394.4 1456.5C1394.4 1456.1 1394.4 1455.6 1394.4 1455.3C1394.5 1454.9 1394.6 1454.5 1394.7 1454.2C1394.8 1453.8 1394.9 1453.5 1395 1453.2C1395.2 1453 1395.4 1452.7 1395.6 1452.5C1395.8 1452.3 1396 1452.1 1396.2 1451.9C1396.5 1451.8 1396.7 1451.6 1397 1451.5C1397.3 1451.4 1397.6 1451.4 1397.9 1451.4C1398.3 1451.3 1398.6 1451.3 1398.9 1451.4C1399.3 1451.4 1399.7 1451.5 1400 1451.6C1400.4 1451.7 1400.8 1451.9 1401.2 1452C1401.6 1452.2 1402 1452.4 1402.4 1452.6C1402.8 1452.9 1403.2 1453.1 1403.6 1453.4C1404 1453.7 1404.4 1454.1 1404.8 1454.4C1405.2 1454.8 1405.6 1455.1 1406 1455.5C1406.4 1455.9 1406.8 1456.3 1407.1 1456.8C1407.5 1457.2 1407.9 1457.7 1408.2 1458.1C1408.6 1458.6 1408.9 1459.1 1409.3 1459.6Z"/>
<path d="M1264 1348.3C1266.8 1346.8 1275.7 1341.4 1280.7 1339.2C1285.7 1336.9 1289.8 1335.7 1294 1335C1298.2 1334.3 1302.1 1334.2 1305.7 1335C1309.3 1335.8 1313 1337.8 1315.7 1340C1318.3 1342.2 1320.5 1345.3 1321.5 1348.3C1322.5 1351.4 1321.5 1356.7 1321.5 1358.3"/>
<path d="M1264 1397.5L1305.7 1372.5"/>
<path d="M1329.8 1371.7L1379 1385.8"/>
<path d="M1530.7 1111.7C1532 1115.3 1536.5 1128 1538 1133.3C1539.5 1138.5 1539.3 1137.8 1539.9 1143.2C1540.4 1148.6 1541.3 1157.9 1541.2 1165.7C1541.1 1173.4 1539.7 1184.6 1539.2 1189.5C1538.7 1194.4 1538.9 1189.4 1538 1195C1537.2 1200.7 1534.7 1218.6 1534 1223.3"/>
<path d="M1464.8 774.4L1604.6 696.8"/>
<path d="M1480.1 795.8L1602.6 725.6"/>
<path d="M1464.8 774.4C1464.5 775.2 1463.5 777.7 1463.4 779.1C1463.3 780.5 1464 782.4 1464.1 783.1"/>
<path d="M1466.8 777.8C1467.9 778 1471.4 777.8 1473.5 779.1C1475.5 780.4 1477.7 783.3 1478.8 785.8C1479.9 788.2 1479.9 792.5 1480.1 793.8"/>
<path d="M1472.8 795.8L1480.1 795.8"/>
<path d="M1473.5 773.7C1474.8 774.4 1479.4 775.5 1481.5 777.8C1483.6 780 1485.3 784.7 1486.2 787.1C1487.1 789.6 1486.7 791.6 1486.8 792.5"/>
<path d="M1482.2 769.1C1483.5 769.7 1488.1 770.8 1490.2 773.1C1492.3 775.3 1494 780 1494.9 782.4C1495.8 784.9 1495.4 786.9 1495.5 787.8"/>
<path d="M1490.9 764.4C1492.2 765 1496.8 766.2 1498.9 768.4C1501 770.6 1502.7 775.3 1503.6 777.8C1504.5 780.2 1504.1 782.2 1504.2 783.1"/>
<path d="M1500.2 759.7C1501.6 760.4 1506.1 761.5 1508.2 763.7C1510.4 765.9 1512 770.6 1512.9 773.1C1513.8 775.5 1513.5 777.5 1513.6 778.4"/>
<path d="M1509.6 754.3C1510.9 755 1515.5 756.1 1517.6 758.4C1519.7 760.6 1521.4 765.3 1522.3 767.7C1523.2 770.2 1522.9 772.2 1523 773.1"/>
<path d="M1518.3 749C1519.2 750 1522.3 752.4 1523.6 755C1525 757.6 1525.9 762.8 1526.3 764.4"/>
<path d="M1589.9 704.2C1589.9 702.4 1589.2 696.6 1589.9 693.5C1590.5 690.3 1592.1 687.2 1593.9 685.4C1595.7 683.6 1598.4 682.9 1600.6 682.7C1602.8 682.6 1604.8 683.2 1607.3 684.8C1609.7 686.3 1612.9 689.1 1615.3 692.1C1617.8 695.1 1620.3 699.3 1622 702.8C1623.7 706.4 1624.8 710.2 1625.3 713.5C1625.9 716.9 1625.9 720.3 1625.3 722.9C1624.8 725.5 1623.7 727.6 1622 728.9C1620.3 730.3 1617.5 730.9 1615.3 730.9C1613.1 730.9 1610.7 729.8 1608.6 728.9C1606.5 728 1603.6 726.1 1602.6 725.6"/>
<path d="M1604.6 696.8C1605.5 697 1608.2 696.9 1610 698.1C1611.7 699.4 1614.1 702 1615.3 704.2C1616.5 706.3 1617.3 709.1 1617.3 710.9C1617.3 712.6 1616.5 713.5 1615.3 714.9C1614.1 716.2 1610.8 718.2 1610 718.9"/>
<path d="M1605.9 684.1C1607.1 683.2 1610.2 679.4 1612.6 678.7C1615.1 678.1 1617.8 678.7 1620.7 680.1C1623.6 681.4 1627.5 684.1 1630 686.8C1632.6 689.4 1634.7 692.8 1636 696.1C1637.4 699.5 1638.1 703.7 1638.1 706.8C1638.1 710 1637.8 712.3 1636 714.9C1634.3 717.4 1628.8 721 1627.3 722.2"/>
<path d="M1607.3 684.8C1608.8 685.8 1613.7 687.8 1616.6 690.8C1619.5 693.8 1622.9 699 1624.7 702.8C1626.5 706.6 1627 710.2 1627.3 713.5C1627.7 716.9 1626.8 721.3 1626.7 722.9"/>
<path d="M1616.6 690.8L1623.3 684.1"/>
<path d="M1626.7 712.9L1636.7 706.8"/>
<path d="M1462.1 795.8L1446 804.5"/>
<path d="M1608.1 1003.8L1743.9 925.5"/>
<path d="M1630.1 1032.6L1765.3 952.9"/>
<path d="M1608.1 1003.8C1607.8 1004.8 1606.7 1007.5 1606.7 1009.8C1606.7 1012.1 1607.8 1016.5 1608.1 1017.8"/>
<path d="M1614.8 1002.4C1616 1003 1619.9 1003.9 1622.1 1005.8C1624.3 1007.7 1626.7 1010.9 1628.1 1013.8C1629.6 1016.7 1630.5 1020.3 1630.8 1023.2C1631.1 1026.1 1631.3 1029.5 1630.1 1031.2C1629 1032.9 1626.1 1033.2 1624.1 1033.2C1622.1 1033.2 1619.1 1031.6 1618.1 1031.2"/>
<path d="M1618.8 1001.1C1620.4 1001.7 1625.8 1002.3 1628.8 1004.5C1631.8 1006.6 1634.7 1010.3 1636.8 1013.8C1639 1017.4 1640.7 1023.9 1641.5 1025.9"/>
<path d="M1630.1 995.1C1631.8 995.6 1637.2 996.3 1640.2 998.4C1643.2 1000.5 1646.1 1004.2 1648.2 1007.8C1650.3 1011.4 1652.1 1017.8 1652.9 1019.8"/>
<path d="M1641.5 989.1C1643.2 989.6 1648.5 990.3 1651.6 992.4C1654.6 994.5 1657.5 998.2 1659.6 1001.8C1661.7 1005.3 1663.5 1011.8 1664.3 1013.8"/>
<path d="M1652.9 982.4C1654.6 982.9 1659.9 983.6 1662.9 985.7C1665.9 987.8 1668.8 991.5 1671 995.1C1673.1 998.7 1674.9 1005.1 1675.6 1007.1"/>
<path d="M1662.9 975.7C1664.4 976.7 1669.3 979.1 1671.6 981.7C1674 984.3 1675.8 988.2 1677 991.1C1678.2 994 1678.7 997.8 1679 999.1"/>
<path d="M1743.9 925.5C1745.5 925.4 1750.4 923.7 1753.3 924.8C1756.2 925.9 1759.2 929.2 1761.3 932.2C1763.4 935.2 1765.3 939.4 1766 942.9C1766.6 946.4 1765.4 951.3 1765.3 952.9"/>
<path d="M1723.8 934.9C1723.6 932.4 1722 924.8 1722.5 920.1C1722.9 915.5 1724.3 910.1 1726.5 906.8C1728.7 903.4 1732.3 901.4 1735.9 900.1C1739.4 898.7 1743.9 897.8 1747.9 898.7C1751.9 899.6 1756.2 902.3 1760 905.4C1763.7 908.5 1767.5 912.8 1770.7 917.5C1773.8 922.2 1776.7 928 1778.7 933.5C1780.7 939.1 1782 946 1782.7 950.9C1783.4 955.8 1783.4 959.2 1782.7 963C1782 966.8 1780.9 970.9 1778.7 973.7C1776.5 976.5 1772.7 978.7 1769.3 979.7C1766 980.7 1762 980.7 1758.6 979.7C1755.3 978.7 1751.9 975.8 1749.2 973.7C1746.6 971.6 1743.7 968.1 1742.6 967"/>
<path d="M1747.9 898.7C1749.7 898.7 1754.8 897.6 1758.6 898.7C1762.4 899.8 1766.6 902.3 1770.7 905.4C1774.7 908.5 1779.4 912.8 1782.7 917.5C1786 922.2 1788.9 928.2 1790.7 933.5C1792.5 938.9 1793.4 944.7 1793.4 949.6C1793.4 954.5 1792.3 959.2 1790.7 963C1789.2 966.8 1786 970.4 1784 972.3C1782 974.2 1779.6 974 1778.7 974.3"/>
<path d="M1750.6 901.4C1752.8 903 1759.5 906.3 1764 910.8C1768.4 915.2 1773.9 922.2 1777.3 928.2C1780.8 934.2 1783.3 941.6 1784.7 946.9C1786.2 952.3 1786.4 956.3 1786 960.3C1785.7 964.3 1783.3 969.2 1782.7 971"/>
<path d="M1590 1040L1620.1 1021.8"/>
<path d="M1860.7 652.8C1869.1 658.1 1901.6 678 1911.1 684.6C1920.6 691.2 1916.2 689.9 1917.7 692.3C1919.1 694.6 1919.9 696.8 1919.9 698.8C1919.9 700.8 1918.9 703 1917.7 704.3C1916.4 705.6 1914.7 706.1 1912.2 706.5C1909.6 706.9 1905.8 707.4 1902.3 706.5C1898.9 705.6 1900 705.8 1891.4 701C1882.8 696.3 1857.6 681.9 1850.9 678"/>
<path d="M1860.7 652.8C1859.6 653.6 1856.2 655 1854.2 657.2C1852.2 659.4 1849.8 663.1 1848.7 666C1847.6 668.9 1847.2 672.6 1847.6 674.7C1848 676.9 1850.3 678.4 1850.9 679.1" stroke-width="4.5"/>
<path d="M1857.4 657.2C1856.5 658.3 1853.2 661.2 1852 663.8C1850.7 666.4 1850.1 671.1 1849.8 672.6"/>
<path d="M1816.9 645.7L1824.6 639.7L1853.1 637.5L1860.2 641.9L1836.6 652.8L1816.9 645.7" stroke-width="3.5"/>
<path d="M1816.9 645.7L1816.9 651.8"/>
<path d="M1836.6 652.8L1836.6 683.5" stroke-width="4"/>
<path d="M1860.2 641.9L1860.2 652.8"/>
<path d="M1827.9 679.1L1836.6 684.1L1844.3 680.2"/>
<path d="M1820.8 645.7L1825.7 641L1852 639.2L1857.4 645.4"/>
<path d="M1836.6 663.8C1837.4 662.5 1839.2 658.1 1841 656.1C1842.8 654.1 1845 652.8 1847.6 651.8C1850.1 650.7 1854.9 649.9 1856.4 649.6"/>
<path d="M1838.8 671.5C1839.6 669.8 1841.2 664.3 1843.2 661.6C1845.2 658.9 1848.3 656.5 1850.9 655C1853.4 653.6 1857.3 653.2 1858.5 652.8"/>
<path d="M1816.9 651.8C1815.8 651.8 1812.4 651.2 1810.4 651.8C1808.4 652.3 1806.3 653.6 1804.9 655C1803.5 656.5 1802.5 658.7 1802.2 660.5C1801.8 662.3 1802.6 665.1 1802.7 666"/>
<path d="M1811.5 655C1812.6 655.8 1816.2 657.4 1818 659.4C1819.9 661.4 1821.3 664.2 1822.4 667.1C1823.5 670 1824.2 675.3 1824.6 676.9"/>
<path d="M1816.9 652.8C1818 653.6 1821.7 655.2 1823.5 657.2C1825.3 659.2 1826.8 662 1827.9 664.9C1829 667.8 1829.7 673.1 1830.1 674.7"/>
<path d="M1821.3 651.8C1822.4 652.5 1826.1 654.1 1827.9 656.1C1829.7 658.1 1831.2 660.9 1832.3 663.8C1833.4 666.7 1834.1 672 1834.5 673.6"/>
<path d="M1808.2 657.2C1809.3 658.1 1812.9 660.3 1814.7 662.7C1816.6 665.1 1818.2 668.5 1819.1 671.5C1820 674.4 1820.9 678.4 1820.2 680.2C1819.5 682 1815.7 682 1814.7 682.4"/>
<path d="M1802.2 663.8C1803.2 663.6 1806.1 662.2 1808.2 662.7C1810.3 663.2 1813.1 665.1 1814.7 667.1C1816.4 669.1 1817.6 672.4 1818 674.7C1818.5 677.1 1818 679.9 1817.5 681.3C1816.9 682.7 1815.2 682.7 1814.7 683"/>
<path d="M1798.3 669.3L1808.2 663.8"/>
<path d="M1806 681.3L1813.6 675.8"/>
<path d="M1801.6 672.6C1802.7 673.1 1806.5 675.5 1808.2 675.8C1809.8 676.2 1810.9 674.9 1811.5 674.7"/>
<path d="M1803.2 676.6C1803.5 677.3 1803.7 677.9 1803.9 678.5C1804.2 679.1 1804.3 679.8 1804.5 680.4C1804.6 681.1 1804.7 681.7 1804.8 682.4C1804.9 683 1804.9 683.7 1804.9 684.3C1804.9 685 1804.8 685.6 1804.7 686.3C1804.7 686.9 1804.5 687.5 1804.4 688.1C1804.2 688.7 1804 689.3 1803.8 689.8C1803.5 690.4 1803.3 690.9 1803 691.5C1802.7 692 1802.3 692.5 1802 692.9C1801.6 693.4 1801.2 693.8 1800.8 694.2C1800.4 694.6 1799.9 694.9 1799.4 695.2C1799 695.6 1798.5 695.8 1798 696.1C1797.4 696.3 1796.9 696.5 1796.4 696.7C1795.8 696.9 1795.3 697 1794.7 697.1C1794.1 697.1 1793.5 697.2 1793 697.2C1792.4 697.1 1791.8 697.1 1791.2 697C1790.6 696.9 1790 696.8 1789.4 696.6C1788.9 696.4 1788.3 696.2 1787.7 695.9C1787.2 695.7 1786.6 695.4 1786.1 695.1C1785.5 694.7 1785 694.3 1784.5 693.9C1784 693.5 1783.5 693.1 1783 692.6C1782.6 692.2 1782.1 691.7 1781.7 691.2C1781.3 690.6 1780.9 690.1 1780.6 689.5C1780.2 688.9 1779.9 688.3 1779.6 687.7C1779.4 687.1 1779.1 686.5 1778.9 685.9C1778.7 685.3 1778.5 684.6 1778.3 684C1778.2 683.3 1778.1 682.7 1778 682C1778 681.4 1777.9 680.7 1777.9 680.1C1777.9 679.4 1778 678.8 1778.1 678.1C1778.2 677.5 1778.3 676.9 1778.5 676.3C1778.6 675.7 1778.8 675.1 1779 674.6C1779.3 674 1779.6 673.4 1779.9 672.9C1780.2 672.4 1780.5 671.9 1780.9 671.5C1781.2 671 1781.6 670.6 1782 670.2C1782.5 669.8 1782.9 669.5 1783.4 669.1C1783.9 668.8 1784.3 668.5 1784.9 668.3C1785.4 668.1 1785.9 667.9 1786.5 667.7C1787 667.5 1787.6 667.4 1788.1 667.3C1788.7 667.3 1789.3 667.2 1789.9 667.2C1790.4 667.2 1791 667.3 1791.6 667.4C1792.2 667.5 1792.8 667.6 1793.4 667.8C1794 668 1794.5 668.2 1795.1 668.4C1795.7 668.7 1796.2 669 1796.8 669.3C1797.3 669.7 1797.8 670 1798.3 670.4C1798.8 670.8 1799.3 671.3 1799.8 671.8C1800.2 672.2 1800.7 672.7 1801.1 673.2C1801.5 673.8 1801.9 674.3 1802.2 674.9C1802.6 675.4 1802.9 676 1803.2 676.6Z" stroke-width="3.5"/>
<path d="M1781.4 679.1C1782 678.6 1783.8 675.5 1785.2 675.8C1786.6 676.2 1788.3 679.1 1789.6 681.3C1790.8 683.5 1792.4 687 1792.8 689C1793.3 691 1792.4 692.6 1792.3 693.4"/>
<path d="M1785.2 674.7C1786.3 675.3 1789.9 676.2 1791.8 678C1793.6 679.9 1795.4 683.3 1796.1 685.7C1796.9 688.1 1796.1 691.2 1796.1 692.3"/>
<path d="M1777.5 697.7L1760 707.6"/>
<path d="M1852.3 568.3L1852.3 626.7"/>
<path d="M1549 661.7L1549 720"/>
<path d="M1747.7 830.7L1747.7 890.7"/>
<path d="M1446.7 805L1431.7 813.3"/>
<path d="M1420 819.3L1400 830"/>
<path d="M1776.7 698.3L1668.3 760"/>
<path d="M1653.3 769.3L1638.3 777.3"/>
<path d="M1626.7 785L1620.7 790L1620.7 910"/>
<path d="M1620.7 921.7L1620.7 943.3"/>
<path d="M1611.7 953.3L1538.3 996.7"/>
<path d="M1620 1021.7L1581.7 1043.3L1528.3 1075"/>
<path d="M1584.3 1043.3L1584.3 1165"/>
<path d="M1584.3 1180L1584.3 1201.7"/>
<path d="M1584.3 1216.6L1584.3 1278.1L1525.7 1307.4"/>
<path d="M1268.6 1674.3C1267.9 1673 1266.7 1668.8 1264.3 1666.3C1261.8 1663.7 1257.7 1660.6 1254.1 1659C1250.4 1657.4 1246.5 1656.7 1242.4 1656.8C1238.2 1656.9 1233.9 1657.6 1229.2 1659.7C1224.6 1661.8 1219.5 1664.9 1214.6 1669.2C1209.8 1673.5 1204.4 1679.4 1200 1685.3C1195.7 1691.1 1191.5 1697.7 1188.4 1704.2C1185.2 1710.8 1182.6 1717.9 1181.1 1724.7C1179.5 1731.5 1178.6 1739.3 1178.9 1745.1C1179.1 1750.9 1180.7 1755.8 1182.5 1759.7C1184.3 1763.6 1186.9 1766.2 1189.8 1768.5C1192.7 1770.8 1195.9 1772.7 1200 1773.6C1204.2 1774.4 1209.8 1774.7 1214.6 1773.6C1219.5 1772.5 1224.6 1770 1229.2 1767C1233.9 1764 1238.5 1759.5 1242.4 1755.3C1246.3 1751.2 1249.7 1746.8 1252.6 1742.2C1255.5 1737.6 1257.7 1732 1259.9 1727.6C1262.1 1723.2 1264.1 1719.1 1265.7 1715.9C1267.3 1712.7 1268.8 1709.8 1269.4 1708.6"/>
<path d="M1252.6 1671.4C1251.6 1670.8 1249.2 1668.3 1246.8 1667.7C1244.3 1667.1 1241.4 1667 1238 1667.7C1234.6 1668.5 1230.5 1669.4 1226.3 1672.1C1222.2 1674.8 1217.3 1678.9 1213.2 1683.8C1209 1688.7 1204.8 1695.2 1201.5 1701.3C1198.2 1707.4 1195.3 1714 1193.5 1720.3C1191.6 1726.6 1190.7 1733.7 1190.5 1739.3C1190.4 1744.9 1191.4 1750 1192.7 1753.9C1194.1 1757.8 1195.9 1760.7 1198.6 1762.6C1201.3 1764.6 1205.1 1765.5 1208.8 1765.5C1212.4 1765.5 1216.6 1764.6 1220.5 1762.6C1224.4 1760.7 1228.5 1757.5 1232.2 1753.9C1235.8 1750.2 1239.5 1745.4 1242.4 1740.7C1245.3 1736.1 1247.7 1730.5 1249.7 1726.1C1251.6 1721.8 1252.8 1717.5 1254.1 1714.5C1255.3 1711.4 1256.5 1709 1257 1707.9"/>
<path d="M1252.6 1671.4L1257 1678L1262.8 1680.1L1268.6 1674.3" stroke-width="5"/>
<path d="M1258.4 1676.5L1265.7 1675" stroke-width="5"/>
<path d="M1257 1707.9C1257.7 1707.5 1259.6 1705.9 1261.4 1705.7C1263.1 1705.5 1265.7 1705.8 1267.2 1706.4C1268.6 1707 1269.6 1708.9 1270.1 1709.3"/>
<path d="M1260.6 1711.5L1257 1723.2"/>
<path d="M1265.7 1712.3L1261.4 1726.1"/>
<path d="M1185.4 1733.4C1185.3 1735.9 1184.2 1743.4 1184.7 1748C1185.2 1752.7 1186.5 1757.8 1188.4 1761.2C1190.2 1764.6 1194.4 1767.3 1195.7 1768.5"/>
<path d="M1238 1661.9L1249.7 1659.7"/>
<path d="M1198.6 1763.4C1200 1764 1204.2 1766.9 1207.3 1767C1210.5 1767.1 1215.9 1764.6 1217.6 1764.1"/>
<path d="M1165 1680.9L1187.6 1694"/>
<path d="M1228.5 1718.1L1293.5 1754.6"/>
<path d="M1360.6 1723.9C1358.2 1722.6 1350.6 1716.9 1346 1715.9C1341.4 1714.9 1337.5 1715.9 1332.9 1718.1C1328.3 1720.3 1323.2 1724.5 1318.3 1729.1C1313.4 1733.6 1308.1 1739 1303.7 1745.1C1299.3 1751.2 1295.2 1758.7 1292 1765.5C1288.8 1772.4 1286.4 1779.7 1284.7 1786C1283 1792.3 1282 1798.4 1281.8 1803.5C1281.5 1808.6 1282 1812.7 1283.2 1816.6C1284.5 1820.5 1286.4 1824.2 1289.1 1826.9C1291.8 1829.5 1296.1 1830.9 1299.3 1832.7C1302.5 1834.5 1306.6 1837 1308.1 1837.8"/>
<path d="M1346 1715.9L1382.5 1733.4"/>
<path d="M1375.4 1735.3C1376.6 1736 1377.8 1736.9 1378.9 1737.9C1380 1738.9 1381 1740.1 1381.9 1741.4C1382.8 1742.7 1383.6 1744.1 1384.3 1745.6C1385 1747.2 1385.6 1748.9 1386 1750.6C1386.5 1752.4 1386.8 1754.3 1387.1 1756.2C1387.3 1758.2 1387.4 1760.3 1387.4 1762.4C1387.4 1764.5 1387.2 1766.7 1387 1769C1386.7 1771.2 1386.4 1773.5 1385.9 1775.9C1385.4 1778.2 1384.8 1780.6 1384.1 1783C1383.4 1785.4 1382.5 1787.8 1381.6 1790.2C1380.7 1792.5 1379.7 1794.9 1378.6 1797.3C1377.4 1799.6 1376.2 1802 1374.9 1804.3C1373.6 1806.5 1372.2 1808.8 1370.8 1811C1369.3 1813.1 1367.8 1815.2 1366.2 1817.2C1364.6 1819.2 1363 1821.2 1361.3 1823C1359.6 1824.8 1357.9 1826.6 1356.1 1828.2C1354.4 1829.8 1352.6 1831.3 1350.8 1832.7C1349 1834 1347.1 1835.3 1345.3 1836.4C1343.5 1837.5 1341.7 1838.4 1339.9 1839.2C1338.1 1840.1 1336.3 1840.7 1334.5 1841.2C1332.8 1841.7 1331 1842.1 1329.3 1842.3C1327.7 1842.5 1326 1842.6 1324.5 1842.4C1322.9 1842.3 1321.4 1842.1 1319.9 1841.6C1318.5 1841.2 1317.1 1840.6 1315.9 1839.9C1314.6 1839.2 1313.4 1838.3 1312.3 1837.3C1311.2 1836.3 1310.2 1835.1 1309.3 1833.8C1308.4 1832.5 1307.6 1831.1 1306.9 1829.6C1306.2 1828 1305.7 1826.3 1305.2 1824.6C1304.7 1822.8 1304.4 1820.9 1304.2 1819C1304 1817 1303.8 1814.9 1303.9 1812.8C1303.9 1810.7 1304 1808.5 1304.3 1806.2C1304.5 1804 1304.9 1801.7 1305.4 1799.3C1305.9 1797 1306.5 1794.6 1307.2 1792.2C1307.9 1789.8 1308.7 1787.4 1309.6 1785C1310.5 1782.7 1311.6 1780.3 1312.7 1777.9C1313.8 1775.6 1315 1773.2 1316.3 1770.9C1317.6 1768.7 1319 1766.4 1320.5 1764.3C1321.9 1762.1 1323.4 1760 1325 1758C1326.6 1756 1328.2 1754 1329.9 1752.2C1331.6 1750.4 1333.4 1748.6 1335.1 1747C1336.9 1745.4 1338.7 1743.9 1340.5 1742.5C1342.3 1741.2 1344.1 1739.9 1345.9 1738.8C1347.8 1737.7 1349.6 1736.8 1351.4 1736C1353.2 1735.1 1355 1734.5 1356.7 1734C1358.5 1733.5 1360.2 1733.1 1361.9 1732.9C1363.6 1732.7 1365.2 1732.6 1366.8 1732.8C1368.3 1732.9 1369.9 1733.1 1371.3 1733.6C1372.7 1734 1374.1 1734.6 1375.4 1735.3Z"/>
<path d="M1357.7 1728.3C1359.6 1728.2 1365.7 1726.5 1369.4 1727.6C1373 1728.7 1376.9 1731.5 1379.6 1734.9C1382.3 1738.3 1384.3 1743.6 1385.4 1748C1386.5 1752.4 1386.5 1756.8 1386.2 1761.2C1385.8 1765.5 1383.7 1772.1 1383.2 1774.3"/>
<path d="M1303.7 1788.9C1303.3 1791.3 1301.5 1798.4 1301.5 1803.5C1301.5 1808.6 1302.1 1814.9 1303.7 1819.6C1305.3 1824.2 1307.8 1828.6 1311 1831.2C1314.1 1833.9 1318.6 1835.3 1322.7 1835.6C1326.7 1836 1333 1833.8 1335.1 1833.4"/>
<path d="M1362.8 1733.4C1363.2 1736.1 1365.4 1743.6 1365 1749.5C1364.6 1755.3 1363.1 1761.9 1360.6 1768.5C1358.2 1775 1354.5 1782.6 1350.4 1788.9C1346.3 1795.2 1340.7 1801.6 1335.8 1806.4C1330.9 1811.3 1325.3 1815.5 1321.2 1818.1C1317.1 1820.7 1312.7 1821.1 1311 1821.8"/>
<path d="M1346.5 1652.4L1346.5 1709.3"/>
<path d="M1334.3 1778.7L1405 1820.3"/>
<path d="M1524.4 1766.1C1526.7 1767.4 1528.9 1769 1530.8 1770.8C1532.8 1772.6 1534.6 1774.7 1536.3 1777C1537.9 1779.3 1539.3 1781.9 1540.6 1784.6C1541.8 1787.4 1542.9 1790.3 1543.7 1793.5C1544.6 1796.6 1545.2 1799.9 1545.6 1803.4C1546.1 1806.9 1546.3 1810.5 1546.3 1814.3C1546.3 1818 1546.1 1821.9 1545.7 1825.9C1545.2 1829.8 1544.6 1833.9 1543.8 1838C1542.9 1842.1 1541.9 1846.3 1540.7 1850.4C1539.4 1854.6 1538 1858.8 1536.4 1863C1534.8 1867.2 1532.9 1871.4 1531 1875.5C1529 1879.6 1526.8 1883.7 1524.6 1887.6C1522.3 1891.6 1519.8 1895.5 1517.2 1899.3C1514.7 1903 1512 1906.7 1509.2 1910.2C1506.4 1913.7 1503.4 1917.1 1500.4 1920.2C1497.4 1923.4 1494.3 1926.4 1491.2 1929.2C1488.1 1931.9 1484.9 1934.5 1481.7 1936.9C1478.4 1939.2 1475.2 1941.3 1471.9 1943.2C1468.7 1945.1 1465.4 1946.7 1462.2 1948.1C1459 1949.5 1455.8 1950.6 1452.7 1951.4C1449.5 1952.3 1446.4 1952.8 1443.4 1953.1C1440.4 1953.4 1437.5 1953.4 1434.7 1953.2C1431.9 1952.9 1429.2 1952.4 1426.6 1951.6C1424 1950.8 1421.6 1949.8 1419.3 1948.4C1417 1947.1 1414.8 1945.5 1412.8 1943.7C1410.9 1941.9 1409 1939.8 1407.4 1937.5C1405.8 1935.2 1404.3 1932.6 1403.1 1929.9C1401.8 1927.1 1400.8 1924.1 1399.9 1921C1399.1 1917.9 1398.5 1914.5 1398 1911.1C1397.6 1907.6 1397.4 1904 1397.4 1900.2C1397.4 1896.5 1397.6 1892.6 1398 1888.6C1398.4 1884.7 1399 1880.6 1399.9 1876.5C1400.7 1872.4 1401.8 1868.2 1403 1864.1C1404.2 1859.9 1405.7 1855.7 1407.3 1851.5C1408.9 1847.3 1410.7 1843.1 1412.7 1839C1414.7 1834.9 1416.8 1830.8 1419.1 1826.8C1421.4 1822.9 1423.8 1819 1426.4 1815.2C1429 1811.4 1431.7 1807.8 1434.5 1804.3C1437.3 1800.8 1440.2 1797.4 1443.2 1794.3C1446.2 1791.1 1449.3 1788.1 1452.4 1785.3C1455.6 1782.6 1458.8 1780 1462 1777.6C1465.2 1775.3 1468.5 1773.1 1471.7 1771.3C1475 1769.4 1478.2 1767.8 1481.4 1766.4C1484.6 1765 1487.9 1763.9 1491 1763.1C1494.1 1762.2 1497.2 1761.7 1500.2 1761.4C1503.2 1761.1 1506.1 1761 1509 1761.3C1511.8 1761.6 1514.5 1762.1 1517.1 1762.9C1519.6 1763.7 1522.1 1764.7 1524.4 1766.1Z"/>
<path d="M1532.8 1799.7C1532.3 1798.3 1531.5 1794.1 1529.5 1791C1527.5 1787.9 1524.4 1783.9 1520.8 1781.1C1517.1 1778.4 1512 1775.7 1507.6 1774.6C1503.2 1773.4 1499.4 1773.3 1494.5 1774C1489.6 1774.7 1484.5 1775.2 1478.1 1778.9C1471.7 1782.7 1463.1 1789.7 1456.2 1796.5C1449.2 1803.2 1442.3 1811.6 1436.5 1819.5C1430.6 1827.3 1425.3 1835.3 1421.1 1843.5C1416.9 1851.8 1413.6 1860.5 1411.3 1868.7C1409 1876.9 1407.8 1885.3 1407.4 1892.8C1407.1 1900.3 1407.7 1907.6 1409.1 1913.6C1410.5 1919.6 1412.7 1924.7 1415.7 1928.9C1418.6 1933.1 1422.6 1936.6 1426.6 1938.8C1430.6 1941 1435.7 1941.7 1439.7 1942.1C1443.8 1942.4 1448.9 1941.2 1450.7 1941"/>
<path d="M1542.7 1838.1C1542.7 1835.3 1543 1826.6 1542.7 1821.6C1542.3 1816.7 1541.9 1812.3 1540.5 1808.5C1539 1804.7 1536.8 1801.2 1533.9 1798.6C1531 1796.1 1526.8 1794.3 1523 1793.2C1519.1 1792.1 1515.1 1791.7 1510.9 1792.1C1506.7 1792.4 1502.3 1793.2 1497.8 1795.4C1493.2 1797.6 1488.5 1800.8 1483.5 1805.2C1478.6 1809.6 1473.3 1815.4 1468.2 1821.6C1463.1 1827.8 1457.6 1835.1 1452.9 1842.4C1448.1 1849.7 1443.4 1857.6 1439.7 1865.4C1436.1 1873.3 1432.8 1882.2 1431 1889.5C1429.2 1896.8 1428.6 1903.2 1428.8 1909.2C1429 1915.3 1430.3 1920.9 1432.1 1925.7C1433.9 1930.4 1436.8 1934.8 1439.7 1937.7C1442.7 1940.6 1445.6 1942.6 1449.6 1943.2C1453.6 1943.7 1458.9 1942.1 1463.8 1941C1468.8 1939.9 1476.6 1937.3 1479.2 1936.6"/>
<path d="M1510.9 1803.6C1508.9 1803.7 1503.4 1802.6 1498.9 1804.1C1494.3 1805.7 1488.6 1808.9 1483.5 1812.9C1478.4 1816.9 1473 1822.7 1468.2 1828.2C1463.5 1833.7 1459.1 1839.2 1455.1 1845.7C1451.1 1852.3 1446.9 1860.3 1444.1 1867.6C1441.4 1874.9 1439.6 1883.1 1438.6 1889.5C1437.7 1895.9 1437.9 1901.4 1438.6 1905.9C1439.4 1910.5 1441.2 1914.5 1443 1916.9C1444.9 1919.3 1446.5 1920.2 1449.6 1920.2C1452.7 1920.2 1457.4 1918.7 1461.6 1916.9C1465.8 1915.1 1470.6 1912.5 1474.8 1909.2C1479 1905.9 1483 1901.4 1486.8 1897.2C1490.7 1893 1495.9 1886.2 1497.8 1884.1"/>
<path d="M1494.5 1804.7L1510.9 1803.6" stroke-width="5"/>
<path d="M1438.6 1903.8C1439.2 1905.4 1440.6 1911 1441.9 1913.6C1443.3 1916.3 1446 1918.6 1446.9 1919.6" stroke-width="5"/>
<path d="M1441.9 1870.9C1441.2 1874.6 1437.9 1886.1 1437.6 1892.8C1437.2 1899.6 1438.3 1906.3 1439.7 1911.4C1441.2 1916.5 1443.6 1920.5 1446.3 1923.5C1449.1 1926.4 1452.5 1928.2 1456.2 1928.9C1459.8 1929.7 1464 1928.9 1468.2 1927.8C1472.4 1926.8 1479.2 1923.3 1481.4 1922.4"/>
<path d="M1510.9 1806.3C1511.6 1808.5 1514.4 1814.5 1515.3 1819.5C1516.2 1824.4 1516.8 1830.4 1516.4 1835.9C1516 1841.4 1514.6 1847 1513.1 1852.3C1511.6 1857.6 1508.5 1865.1 1507.6 1867.6"/>
<path d="M1513.1 1807.4C1514.6 1808.9 1519.7 1812.7 1521.9 1816.2C1524.1 1819.6 1525.3 1824 1526.2 1828.2C1527.2 1832.4 1527.4 1836.6 1527.3 1841.4C1527.2 1846.1 1526 1854.1 1525.7 1856.7"/>
<path d="M1514.2 1804.7C1515.8 1805.5 1521.3 1807.1 1524.1 1809.6C1526.8 1812.1 1529.2 1816 1530.6 1819.5C1532.1 1822.9 1532.4 1827.3 1532.8 1830.4C1533.3 1833.5 1533.3 1836.8 1533.4 1838.1"/>
<path d="M1528.4 1879.7C1529.7 1876.4 1534.1 1866.5 1536.1 1860C1538.1 1853.4 1539.4 1846.6 1540.5 1840.3C1541.6 1833.9 1542.3 1824.7 1542.7 1821.6"/>
<path d="M1448.5 1920.2C1449.8 1920.9 1452.9 1923.8 1456.2 1924.6C1459.5 1925.3 1464 1925.5 1468.2 1924.6C1472.4 1923.6 1477.3 1921.5 1481.4 1919.1C1485.4 1916.7 1490.5 1911.8 1492.3 1910.3"/>
<path d="M1519.1 1896.6C1517.8 1898.7 1514.1 1905.1 1510.9 1909.2C1507.7 1913.3 1504.2 1917.6 1500 1921.3C1495.8 1924.9 1490.3 1928.6 1485.7 1931.1C1481.2 1933.7 1477.5 1935.3 1472.6 1936.6C1467.7 1937.9 1460.5 1938.6 1456.2 1938.8C1451.8 1939 1448 1937.9 1446.3 1937.7"/>
<path d="M1385 1808L1418.9 1828.2"/>
<path d="M1487.4 1867.6L1565 1913.6"/>
<path d="M1518.4 1745L1518.4 1757.6"/>
<path d="M1232.7 1596L1232.7 1650"/>
<path d="M1346.7 1652.7L1346.7 1680"/>
<path d="M1518.7 1660L1518.7 1746.7"/>
<path d="M1460.7 1613.3L1488.3 1585.7L1618.3 1585.7L1644 1557.3"/>
<path d="M1240 1480L1165 1521.7"/>
<path d="M1151.7 1530L1135 1538.3"/>
<path d="M1120 1546.7L1100 1560"/>
<path d="M1100 1643.3L1166.7 1681.7"/>
<path d="M1644 1557.3L1670 1585L1804 1585L1830 1612.7"/>
<path d="M1778.7 1597.3L1778.7 1965"/>
<path d="M1550 1905L1598.3 1931.7"/>
<path d="M1646.7 1901.7C1644.4 1901.7 1638.3 1899.7 1633.3 1901.7C1628.3 1903.6 1622.2 1907.5 1616.7 1913.3C1611.1 1919.2 1603.9 1928.3 1600 1936.7C1596.1 1945 1594.2 1955.6 1593.3 1963.3C1592.5 1971.1 1593.9 1978.3 1595 1983.3C1596.1 1988.3 1599.2 1991.7 1600 1993.3"/>
<path d="M1646.7 1901.7L1843.3 2011.7"/>
<path d="M1600 1993.3L1791.7 2101.7"/>
<path d="M1633.3 1906.7L1716.7 1947.7L1721.7 1943.3"/>
<path d="M1621.7 1915L1704 1957.3L1709.3 1953.3"/>
<path d="M1611.7 1925L1692.7 1967.3L1697.3 1962.7"/>
<path d="M1604 1936.7L1683.3 1978.3L1687.3 1973.3"/>
<path d="M1598.3 1948.3L1676.7 1992.3L1680 1986.7"/>
<path d="M1595 1961.7L1672.7 2005.7L1675.3 2000"/>
<path d="M1594 1975L1670.7 2020L1672.7 2014"/>
<path d="M1596.7 1988.3L1673.3 2033.3L1673.3 2026.7"/>
<path d="M1841.7 2011.7C1843.6 2010.7 1848.9 2007.1 1853.3 2005.8C1857.8 2004.6 1863.9 2004 1868.3 2004.2C1872.8 2004.3 1878.1 2006.2 1880 2006.7"/>
<path d="M1880 2006.7L1913.3 2025L1923.3 2023.3"/>
<path d="M1841.7 2011.7C1839.2 2013.6 1831.7 2018.3 1826.7 2023.3C1821.7 2028.3 1816.1 2035 1811.7 2041.7C1807.2 2048.3 1803.1 2056.1 1800 2063.3C1796.9 2070.6 1794.6 2078.1 1793.3 2085C1792.1 2091.9 1792.2 2098.9 1792.5 2105C1792.8 2111.1 1793.5 2116.9 1795 2121.7C1796.5 2126.4 1800.6 2131.4 1801.7 2133.3"/>
<path d="M1801.7 2133.3L1836.7 2156.7"/>
<path d="M1923.3 2023.3C1920.6 2023.9 1912.5 2024.7 1906.7 2026.7C1900.8 2028.6 1894.4 2030.8 1888.3 2035C1882.2 2039.2 1875.8 2045 1870 2051.7C1864.2 2058.3 1858.3 2066.7 1853.3 2075C1848.3 2083.3 1843.3 2093.3 1840 2101.7C1836.7 2110 1834.6 2118.3 1833.3 2125C1832.1 2131.7 1831.9 2136.4 1832.5 2141.7C1833.1 2146.9 1835.4 2152.5 1836.7 2156.7C1837.9 2160.8 1839.4 2165 1840 2166.7"/>
<path d="M1913.3 2027.5C1910.6 2028.5 1902.5 2029.6 1896.7 2033.3C1890.8 2037.1 1884.2 2043.6 1878.3 2050C1872.5 2056.4 1866.7 2063.9 1861.7 2071.7C1856.7 2079.4 1851.9 2088.3 1848.3 2096.7C1844.7 2105 1841.9 2114.2 1840 2121.7C1838.1 2129.2 1837.1 2136.7 1836.7 2141.7C1836.2 2146.7 1837.4 2150 1837.5 2151.7"/>
<path d="M2010 2015.8C2008.6 2014.6 2005.8 2010.6 2001.7 2008.3C1997.5 2006.1 1991.4 2003.2 1985 2002.5C1978.6 2001.8 1970.3 2002.6 1963.3 2004.2C1956.4 2005.7 1949.7 2008.3 1943.3 2011.7C1936.9 2015 1931.1 2019.4 1925 2024.2C1918.9 2028.9 1912.8 2033.2 1906.7 2040C1900.6 2046.8 1893.9 2056.4 1888.3 2065C1882.8 2073.6 1877.8 2082.8 1873.3 2091.7C1868.9 2100.6 1865.6 2109.4 1861.7 2118.3C1857.8 2127.2 1853.1 2137.2 1850 2145C1846.9 2152.8 1844.7 2158.3 1843.3 2165C1841.9 2171.7 1841.4 2177.8 1841.7 2185C1841.9 2192.2 1843.1 2201.1 1845 2208.3C1846.9 2215.6 1849.7 2222.8 1853.3 2228.3C1856.9 2233.9 1862.5 2238.3 1866.7 2241.7C1870.8 2245 1876.4 2247.2 1878.3 2248.3"/>
<path d="M1893.6 2100.2C1896.6 2095.2 1899.9 2090.3 1903.3 2085.5C1906.6 2080.8 1910.2 2076.2 1913.8 2071.8C1917.5 2067.4 1921.3 2063.1 1925.1 2059.1C1929 2055.1 1932.9 2051.4 1936.9 2047.8C1940.9 2044.3 1945 2041.1 1949.1 2038.1C1953.1 2035.1 1957.2 2032.4 1961.3 2030.1C1965.4 2027.7 1969.4 2025.6 1973.4 2023.9C1977.4 2022.2 1981.4 2020.7 1985.3 2019.7C1989.2 2018.6 1993 2017.8 1996.6 2017.5C2000.3 2017.1 2003.9 2017 2007.3 2017.3C2010.7 2017.6 2014 2018.3 2017 2019.2C2020.1 2020.2 2023 2021.6 2025.8 2023.2C2028.5 2024.9 2031 2026.8 2033.3 2029.1C2035.6 2031.4 2037.6 2034 2039.5 2036.9C2041.3 2039.8 2042.9 2043 2044.2 2046.4C2045.5 2049.9 2046.6 2053.6 2047.5 2057.5C2048.3 2061.5 2048.8 2065.7 2049.1 2070C2049.4 2074.4 2049.4 2078.9 2049.2 2083.6C2049 2088.3 2048.5 2093.2 2047.7 2098.2C2046.9 2103.2 2045.9 2108.3 2044.6 2113.4C2043.3 2118.6 2041.8 2123.9 2040 2129.1C2038.2 2134.4 2036.2 2139.7 2033.9 2144.9C2031.7 2150.2 2029.2 2155.5 2026.5 2160.6C2023.9 2165.8 2021 2171 2017.9 2176C2014.9 2181 2011.6 2185.9 2008.3 2190.6C2004.9 2195.4 2001.3 2200 1997.7 2204.4C1994.1 2208.8 1990.3 2213 1986.4 2217C1982.6 2221 1978.6 2224.8 1974.6 2228.3C1970.6 2231.8 1966.5 2235.1 1962.5 2238.1C1958.4 2241 1954.3 2243.7 1950.2 2246.1C1946.2 2248.5 1942.1 2250.5 1938.1 2252.3C1934.1 2254 1930.1 2255.4 1926.2 2256.5C1922.4 2257.6 1918.6 2258.3 1914.9 2258.7C1911.2 2259.1 1907.6 2259.1 1904.2 2258.8C1900.8 2258.6 1897.6 2257.9 1894.5 2256.9C1891.4 2255.9 1888.5 2254.6 1885.8 2253C1883.1 2251.3 1880.5 2249.3 1878.3 2247C1876 2244.7 1873.9 2242.1 1872.1 2239.2C1870.2 2236.4 1868.6 2233.2 1867.3 2229.7C1866 2226.3 1864.9 2222.6 1864.1 2218.6C1863.3 2214.7 1862.7 2210.5 1862.4 2206.2C1862.1 2201.8 1862.1 2197.2 1862.3 2192.5C1862.6 2187.8 1863.1 2182.9 1863.8 2178C1864.6 2173 1865.7 2167.9 1866.9 2162.7C1868.2 2157.6 1869.8 2152.3 1871.5 2147.1C1873.3 2141.8 1875.4 2136.5 1877.6 2131.2C1879.8 2126 1882.3 2120.7 1885 2115.5C1887.7 2110.4 1890.6 2105.2 1893.6 2100.2Z"/>
<path d="M1936.7 2068.3C1938.3 2066.7 1943.3 2061.1 1946.7 2058.3C1950 2055.6 1954.2 2052.5 1956.7 2051.7C1959.2 2050.8 1960 2052.4 1961.7 2053.3C1963.3 2054.3 1964.2 2056.8 1966.7 2057.5C1969.2 2058.2 1973.6 2058.8 1976.7 2057.5C1979.7 2056.2 1982.5 2052.5 1985 2050C1987.5 2047.5 1989.2 2044 1991.7 2042.5C1994.2 2041 1996.4 2040.1 2000 2040.8C2003.6 2041.5 2010 2044.3 2013.3 2046.7C2016.7 2049 2019.4 2051.9 2020 2055C2020.6 2058.1 2017.5 2060.6 2016.7 2065C2015.8 2069.4 2014.4 2077.8 2015 2081.7C2015.6 2085.6 2017.8 2086.7 2020 2088.3C2022.2 2090 2026.7 2090 2028.3 2091.7C2030 2093.3 2030.3 2093.9 2030 2098.3C2029.7 2102.8 2028.3 2111.1 2026.7 2118.3C2025 2125.6 2021.7 2136.9 2020 2141.7C2018.3 2146.4 2018.6 2145.3 2016.7 2146.7C2014.7 2148.1 2011.1 2148.1 2008.3 2150C2005.6 2151.9 2002.4 2155.3 2000 2158.3C1997.6 2161.4 1995.3 2163.9 1994.2 2168.3C1993.1 2172.8 1994.3 2180.6 1993.3 2185C1992.4 2189.4 1991.1 2191.4 1988.3 2195C1985.6 2198.6 1981.7 2202.4 1976.7 2206.7C1971.7 2211 1962.5 2218.3 1958.3 2220.8C1954.2 2223.3 1954.7 2222.9 1951.7 2221.7C1948.6 2220.4 1943.9 2216.7 1940 2213.3C1936.1 2210 1930.3 2203.6 1928.3 2201.7"/>
<path d="M1936.7 2068.3C1934.7 2070.3 1927.9 2077.2 1925 2080C1922.1 2082.8 1920.3 2082.2 1919.2 2085C1918.1 2087.8 1918.6 2093.3 1918.3 2096.7C1918.1 2100 1918.6 2101.7 1917.5 2105C1916.4 2108.3 1914 2113.3 1911.7 2116.7C1909.3 2120 1906.4 2123.1 1903.3 2125C1900.3 2126.9 1895.6 2126.7 1893.3 2128.3C1891.1 2130 1891.1 2131.1 1890 2135C1888.9 2138.9 1887.9 2146.1 1886.7 2151.7C1885.4 2157.2 1883.2 2163.3 1882.5 2168.3C1881.8 2173.3 1881.2 2178.9 1882.5 2181.7C1883.8 2184.4 1887.9 2183.9 1890 2185C1892.1 2186.1 1893.9 2186.4 1895 2188.3C1896.1 2190.3 1896.9 2193.6 1896.7 2196.7C1896.4 2199.7 1894.2 2203.1 1893.3 2206.7C1892.5 2210.3 1890.6 2215 1891.7 2218.3C1892.8 2221.7 1896.9 2224.4 1900 2226.7C1903.1 2228.9 1906.7 2230.8 1910 2231.7C1913.3 2232.5 1917.2 2232.8 1920 2231.7C1922.8 2230.6 1924.4 2227.5 1926.7 2225C1928.9 2222.5 1930.6 2218.5 1933.3 2216.7C1936.1 2214.9 1941.7 2214.6 1943.3 2214.2"/>
<path d="M1905.2 2107.9C1906.8 2105.1 1908.5 2102.2 1910.4 2099.5C1912.2 2096.8 1914.1 2094.1 1916 2091.5C1918 2089 1920 2086.5 1922.1 2084.2C1924.1 2081.9 1926.3 2079.6 1928.4 2077.6C1930.5 2075.5 1932.7 2073.6 1934.9 2071.8C1937 2070 1939.2 2068.4 1941.4 2066.9C1943.6 2065.5 1945.7 2064.2 1947.8 2063.1C1950 2062 1952.1 2061.1 1954.1 2060.4C1956.2 2059.6 1958.2 2059.1 1960.1 2058.8C1962.1 2058.4 1964 2058.3 1965.8 2058.3C1967.6 2058.4 1969.3 2058.6 1970.9 2059C1972.5 2059.5 1974.1 2060.1 1975.5 2060.9C1976.9 2061.7 1978.2 2062.8 1979.4 2063.9C1980.6 2065.1 1981.7 2066.5 1982.6 2068C1983.6 2069.5 1984.4 2071.3 1985.1 2073.1C1985.8 2074.9 1986.3 2077 1986.7 2079.1C1987.1 2081.2 1987.4 2083.5 1987.5 2085.9C1987.7 2088.3 1987.6 2090.8 1987.5 2093.4C1987.3 2096 1987 2098.7 1986.6 2101.5C1986.1 2104.3 1985.6 2107.1 1984.8 2110C1984.1 2112.9 1983.3 2115.8 1982.3 2118.8C1981.3 2121.7 1980.2 2124.7 1979 2127.7C1977.8 2130.7 1976.4 2133.7 1975 2136.6C1973.5 2139.6 1972 2142.5 1970.3 2145.4C1968.7 2148.2 1966.9 2151 1965.1 2153.8C1963.3 2156.5 1961.4 2159.2 1959.5 2161.7C1957.5 2164.3 1955.5 2166.8 1953.4 2169.1C1951.3 2171.4 1949.2 2173.6 1947.1 2175.7C1945 2177.8 1942.8 2179.7 1940.6 2181.5C1938.5 2183.3 1936.3 2184.9 1934.1 2186.3C1931.9 2187.8 1929.8 2189.1 1927.6 2190.2C1925.5 2191.3 1923.4 2192.2 1921.3 2192.9C1919.3 2193.6 1917.3 2194.2 1915.3 2194.5C1913.4 2194.9 1911.5 2195 1909.7 2195C1907.9 2194.9 1906.2 2194.7 1904.6 2194.2C1903 2193.8 1901.4 2193.2 1900 2192.3C1898.6 2191.5 1897.3 2190.5 1896.1 2189.3C1894.9 2188.2 1893.8 2186.8 1892.8 2185.3C1891.9 2183.7 1891.1 2182 1890.4 2180.2C1889.7 2178.3 1889.2 2176.3 1888.8 2174.2C1888.4 2172 1888.1 2169.8 1888 2167.4C1887.8 2165 1887.8 2162.5 1888 2159.9C1888.2 2157.3 1888.5 2154.6 1888.9 2151.8C1889.3 2149 1889.9 2146.2 1890.6 2143.3C1891.4 2140.4 1892.2 2137.4 1893.2 2134.5C1894.2 2131.5 1895.3 2128.5 1896.5 2125.6C1897.7 2122.6 1899.1 2119.6 1900.5 2116.7C1901.9 2113.7 1903.5 2110.8 1905.2 2107.9Z"/>
<path d="M1920 2091.7C1921.7 2090.6 1926.1 2086.8 1930 2085C1933.9 2083.2 1939.4 2081.2 1943.3 2080.8C1947.2 2080.4 1950.4 2081 1953.3 2082.5C1956.2 2084 1959 2086.8 1960.8 2090C1962.6 2093.2 1963.8 2097.5 1964.2 2101.7C1964.6 2105.8 1964.2 2110.8 1963.3 2115C1962.5 2119.2 1960.6 2123.3 1959.2 2126.7C1957.8 2130 1955.7 2133.6 1955 2135"/>
<path d="M1904.2 2126.7C1903.9 2128.6 1902.5 2134.4 1902.5 2138.3C1902.5 2142.2 1903.2 2146.7 1904.2 2150C1905.1 2153.3 1906.9 2156.5 1908.3 2158.3C1909.7 2160.1 1911.8 2160.4 1912.5 2160.8"/>
<path d="M1980 2059.2C1981.7 2060.7 1987.2 2064.6 1990 2068.3C1992.8 2072.1 1995.3 2076.7 1996.7 2081.7C1998.1 2086.7 1998.3 2092.9 1998.3 2098.3C1998.3 2103.8 1996.9 2111.5 1996.7 2114.2"/>
<path d="M1937.5 2068.3C1939.3 2066.9 1944.7 2062.2 1948.3 2060C1951.9 2057.8 1957.4 2055.8 1959.2 2055"/>
<path d="M1938.3 2070L1958.3 2057.5"/>
<path d="M1900 2193.3C1902.2 2194.3 1908.3 2198.5 1913.3 2199.2C1918.3 2199.9 1924.7 2198.8 1930 2197.5C1935.3 2196.2 1942.5 2192.6 1945 2191.7"/>
<path d="M1985.8 2036.7C1985.7 2035.7 1986 2032.1 1985 2030.8C1984 2029.6 1981.9 2028.8 1980 2029.2C1978.1 2029.6 1975.1 2031.2 1973.3 2033.3C1971.5 2035.4 1969.7 2039 1969.2 2041.7C1968.6 2044.3 1969 2047.6 1970 2049.2C1971 2050.7 1974.2 2050.6 1975 2050.8"/>
<path d="M2039.2 2074.2C2039.2 2072.6 2040 2067.2 2039.2 2065C2038.3 2062.8 2036 2061 2034.2 2060.8C2032.4 2060.7 2030 2062.2 2028.3 2064.2C2026.7 2066.1 2024.9 2069.9 2024.2 2072.5C2023.5 2075.1 2023.8 2078.3 2024.2 2080C2024.6 2081.7 2026.2 2082.1 2026.7 2082.5"/>
<path d="M1911.7 2109.2C1911.8 2107.9 1913.1 2103.8 1912.5 2101.7C1911.9 2099.6 1910.1 2097.2 1908.3 2096.7C1906.5 2096.1 1903.8 2096.7 1901.7 2098.3C1899.6 2100 1896.9 2104 1895.8 2106.7C1894.7 2109.3 1894.6 2112.4 1895 2114.2C1895.4 2116 1897.8 2116.9 1898.3 2117.5"/>
<path d="M2015.8 2170C2015.8 2168.3 2016.7 2162.2 2015.8 2160C2015 2157.8 2012.6 2156.7 2010.8 2156.7C2009 2156.7 2006.5 2158.1 2005 2160C2003.5 2161.9 2002.2 2165.8 2001.7 2168.3C2001.1 2170.8 2001.2 2173.5 2001.7 2175C2002.1 2176.5 2003.8 2177.1 2004.2 2177.5"/>
<path d="M1883.3 2212.5C1883.9 2212.1 1885.7 2211.5 1886.7 2210C1887.6 2208.5 1888.8 2205.7 1889.2 2203.3C1889.6 2201 1890 2197.6 1889.2 2195.8C1888.3 2194 1886 2192.5 1884.2 2192.5C1882.4 2192.5 1880 2193.8 1878.3 2195.8C1876.7 2197.9 1874.9 2202.4 1874.2 2205C1873.5 2207.6 1874.2 2210.6 1874.2 2211.7"/>
<path d="M1944.2 2231.7C1943.9 2230.6 1943.8 2226.4 1942.5 2225C1941.2 2223.6 1938.6 2222.9 1936.7 2223.3C1934.7 2223.8 1932.4 2225.3 1930.8 2227.5C1929.3 2229.7 1927.9 2234 1927.5 2236.7C1927.1 2239.3 1927.2 2241.9 1928.3 2243.3C1929.4 2244.7 1933.2 2244.7 1934.2 2245"/>
<path d="M276.7 2325L308.3 2292.7L430 2292.7L460 2264L490 2292.7L616.7 2292.7L647.3 2324"/>
<path d="M320 2313.3L320 2593.3"/>
<path d="M590.7 2360.7L590.7 2486.7"/>
<path d="M212.3 2601.7L212.3 2726.7"/>
<path d="M450 2140L466.7 2149.3"/>
<path d="M478.3 2156.7L590 2219.3"/>
<path d="M605 2228.3L620 2236.7"/>
<path d="M633.3 2243.3L678 2268.3"/>
<path d="M206.5 2754.2C206.8 2752.1 206.8 2745.1 208.3 2741.5C209.8 2737.8 212.3 2734.3 215.6 2732.3C219 2730.4 223.8 2729.3 228.4 2729.6C233 2729.9 238.1 2731.6 243 2734.2C247.9 2736.7 252.7 2740.2 257.6 2745.1C262.5 2750 267.9 2756.7 272.2 2763.4C276.4 2770 280.2 2778 283.1 2785.3C286 2792.6 288.5 2800.8 289.5 2807.2C290.6 2813.5 290.6 2819 289.5 2823.6C288.5 2828.1 286 2832.2 283.1 2834.5C280.2 2836.8 276.1 2837 272.2 2837.3C268.2 2837.6 263.1 2837.4 259.4 2836.4C255.8 2835.3 251.8 2831.8 250.3 2830.9"/>
<path d="M192.8 2766.6L214.7 2754.2L244.8 2762.4L223.8 2773.4L192.8 2766.6"/>
<path d="M223.8 2773.4C225.2 2777.8 229.3 2793.6 232 2799.9C234.8 2806.1 238.9 2809 240.3 2810.8"/>
<path d="M240.3 2810.8L262.2 2799.9"/>
<path d="M244.8 2762.4C246.6 2764.7 252.9 2771.4 255.8 2776.1C258.7 2780.8 260.8 2785.9 262.2 2790.7C263.5 2795.6 264.1 2800.5 264 2805.3C263.8 2810.2 263.8 2815.7 261.2 2819.9C258.7 2824.2 252.4 2827.8 248.5 2830.9C244.5 2833.9 242.4 2837.1 237.5 2838.2C232.7 2839.2 222.3 2837.4 219.3 2837.3"/>
<path d="M240.3 2810.8L235.7 2825.4L235.7 2838.2"/>
<path d="M192.8 2766.6C191.7 2768.8 188.4 2775.8 186.4 2779.8C184.4 2783.8 182 2786.8 180.9 2790.7C179.9 2794.7 179.6 2799.2 180 2803.5C180.5 2807.8 181.7 2812 183.7 2816.3C185.7 2820.5 188.1 2825.7 191.9 2829.1C195.7 2832.4 201.9 2835 206.5 2836.4C211.1 2837.7 217.1 2837.1 219.3 2837.3"/>
<path d="M227.4 2794.8C228.1 2796 228.7 2797.2 229.3 2798.5C229.9 2799.8 230.4 2801.1 230.9 2802.4C231.3 2803.7 231.7 2805 232 2806.3C232.3 2807.7 232.6 2809 232.7 2810.3C232.9 2811.6 233 2812.9 233 2814.2C233 2815.5 233 2816.8 232.8 2818C232.7 2819.2 232.5 2820.4 232.2 2821.6C231.9 2822.7 231.5 2823.9 231.1 2824.9C230.7 2826 230.2 2827 229.6 2828C229.1 2828.9 228.4 2829.8 227.8 2830.6C227.1 2831.4 226.3 2832.2 225.5 2832.9C224.7 2833.6 223.9 2834.2 223 2834.7C222.1 2835.2 221.1 2835.7 220.1 2836.1C219.1 2836.4 218.1 2836.7 217 2836.9C216 2837.1 214.9 2837.2 213.8 2837.2C212.7 2837.3 211.6 2837.2 210.4 2837C209.3 2836.9 208.1 2836.7 207 2836.3C205.8 2836 204.7 2835.6 203.6 2835.1C202.4 2834.6 201.3 2834.1 200.2 2833.4C199.1 2832.8 198 2832.1 196.9 2831.3C195.8 2830.5 194.8 2829.6 193.8 2828.7C192.8 2827.8 191.8 2826.8 190.9 2825.8C190 2824.8 189.1 2823.7 188.3 2822.5C187.5 2821.4 186.7 2820.2 186 2819C185.3 2817.8 184.6 2816.5 184 2815.3C183.4 2814 182.9 2812.7 182.5 2811.4C182 2810.1 181.6 2808.8 181.3 2807.4C181 2806.1 180.8 2804.8 180.6 2803.5C180.4 2802.2 180.4 2800.8 180.3 2799.6C180.3 2798.3 180.4 2797 180.5 2795.8C180.7 2794.6 180.9 2793.3 181.2 2792.2C181.4 2791 181.8 2789.9 182.2 2788.9C182.6 2787.8 183.1 2786.8 183.7 2785.8C184.3 2784.9 184.9 2784 185.6 2783.2C186.3 2782.3 187 2781.6 187.8 2780.9C188.6 2780.2 189.5 2779.6 190.4 2779.1C191.3 2778.5 192.2 2778.1 193.2 2777.7C194.2 2777.4 195.2 2777.1 196.3 2776.9C197.3 2776.7 198.4 2776.6 199.5 2776.5C200.6 2776.5 201.8 2776.6 202.9 2776.7C204 2776.9 205.2 2777.1 206.3 2777.4C207.5 2777.8 208.7 2778.2 209.8 2778.6C210.9 2779.1 212.1 2779.7 213.2 2780.3C214.3 2781 215.4 2781.7 216.5 2782.5C217.5 2783.3 218.6 2784.1 219.6 2785C220.6 2786 221.5 2787 222.4 2788C223.4 2789 224.2 2790.1 225.1 2791.2C225.9 2792.4 226.7 2793.6 227.4 2794.8Z"/>
<path d="M187.3 2799.9C187.8 2798.9 188.4 2795.3 190.1 2794.4C191.7 2793.5 194.6 2792.9 197.4 2794.4C200.1 2795.9 204.1 2799.9 206.5 2803.5C208.9 2807.2 211.2 2812.3 212 2816.3C212.7 2820.2 211.8 2825.2 211.1 2827.2C210.3 2829.2 208 2828 207.4 2828.1"/>
<path d="M185.5 2801.7C185.5 2803.2 184.6 2808.2 185.5 2810.8C186.4 2813.4 190.1 2816.1 191 2817.2"/>
<path d="M284.1 2764.3L382.6 2706.8"/>
<path d="M290.4 2746.9C289.5 2744.8 287.1 2740.2 285 2734.2C282.8 2728.1 279.8 2718.6 277.7 2710.4C275.5 2702.2 273.4 2692.8 272.2 2684.9C271 2677 270.1 2670 270.4 2663C270.7 2656 271.9 2649 274 2642.9C276.1 2636.8 279.2 2631.4 283.1 2626.5C287.1 2621.6 293.2 2616.5 297.7 2613.7C302.3 2611 305.3 2610.4 310.5 2610.1C315.7 2609.8 322.4 2610.4 328.8 2611.9C335.1 2613.4 341.8 2615.5 348.8 2619.2C355.8 2622.8 363.7 2628 370.7 2633.8C377.7 2639.6 384.7 2646.9 390.8 2653.9C396.9 2660.9 402.4 2668.2 407.2 2675.8C412.1 2683.4 416.4 2691.9 420 2699.5C423.6 2707.1 426.5 2713.8 429.1 2721.4C431.7 2729 434 2737.2 435.5 2745.1C437 2753 438.4 2761.2 438.2 2768.8C438.1 2776.4 436.4 2784 434.6 2790.7C432.8 2797.4 430 2804.1 427.3 2809C424.6 2813.8 421.8 2816.9 418.2 2819.9C414.5 2823 410.3 2825.4 405.4 2827.2C400.5 2829.1 394.8 2831.2 389 2830.9C383.2 2830.6 377.4 2828.4 370.7 2825.4C364 2822.4 356.1 2817.8 348.8 2812.6C341.5 2807.5 333.6 2800.5 326.9 2794.4C320.2 2788.3 313.2 2781.1 308.7 2776.1C304.1 2771.1 301.1 2766.2 299.6 2764.3"/>
<path d="M306.9 2609.2C309.3 2607.9 316.3 2603.4 321.5 2601.9C326.6 2600.3 332.1 2599.6 337.9 2600C343.7 2600.5 349.7 2602 356.1 2604.6C362.5 2607.2 369.2 2610.4 376.2 2615.5C383.2 2620.7 390.8 2627.7 398.1 2635.6C405.4 2643.5 413.3 2653 420 2663C426.7 2673 433.1 2684.9 438.2 2695.8C443.4 2706.8 447.7 2718.3 451 2728.7C454.4 2739 457.1 2749.1 458.3 2757.9C459.5 2766.7 459.2 2774.6 458.3 2781.6C457.4 2788.6 455.6 2794.7 452.8 2799.9C450.1 2805 446.2 2809.4 441.9 2812.6C437.6 2815.8 429.7 2818 427.3 2819"/>
<path d="M378 2614.6C379.5 2613.9 383.5 2611.3 387.2 2610.1C390.8 2608.9 395.7 2607.6 399.9 2607.3C404.2 2607 410.6 2608.1 412.7 2608.2"/>
<path d="M412.7 2608.2L451 2590"/>
<path d="M379.9 2615.5C382.9 2618 391.7 2623.8 398.1 2630.1C404.5 2636.5 412.1 2645.4 418.2 2653.9C424.3 2662.4 429.7 2671.8 434.6 2681.2C439.5 2690.7 443.7 2700.7 447.4 2710.4C451 2720.2 454.4 2730.5 456.5 2739.6C458.6 2748.8 459.8 2757.3 460.1 2765.2C460.5 2773.1 459.5 2780.7 458.3 2787.1C457.1 2793.5 453.8 2800.8 452.8 2803.5"/>
<path d="M295.9 2652C296.2 2650.8 296.2 2647.2 297.7 2644.7C299.3 2642.3 301.4 2639.3 305 2637.4C308.7 2635.6 316 2633.5 319.6 2633.8C323.3 2634.1 324.5 2637.1 326.9 2639.3C329.4 2641.4 331.5 2645 334.2 2646.6C337 2648.1 340.3 2648.9 343.4 2648.4C346.4 2647.9 349.7 2644.1 352.5 2643.8C355.2 2643.5 356.1 2644.3 359.8 2646.6C363.4 2648.9 370.1 2653.9 374.4 2657.5C378.6 2661.2 382.9 2665.4 385.3 2668.5C387.8 2671.5 388.1 2672.4 389 2675.8C389.9 2679.1 389.9 2684.9 390.8 2688.5C391.7 2692.2 392 2694 394.5 2697.7C396.9 2701.3 402.4 2707.1 405.4 2710.4C408.4 2713.8 410.9 2714.7 412.7 2717.7C414.5 2720.8 414.8 2723.8 416.4 2728.7C417.9 2733.6 420.8 2742.1 421.8 2746.9C422.9 2751.8 423.6 2755.1 422.7 2757.9C421.8 2760.6 418.6 2761.2 416.4 2763.4C414.1 2765.5 410 2767.3 409.1 2770.7C408.1 2774 410.3 2779.5 410.9 2783.4C411.5 2787.4 413.6 2791 412.7 2794.4C411.8 2797.7 409.1 2801.1 405.4 2803.5C401.8 2805.9 394.5 2809 390.8 2809C387.2 2809 386.2 2805.9 383.5 2803.5C380.8 2801.1 377.4 2796.2 374.4 2794.4C371.3 2792.6 368.3 2791.8 365.3 2792.6C362.2 2793.3 359.5 2798.9 356.1 2798.9C352.8 2798.9 349.4 2796.1 345.2 2792.6C340.9 2789.1 334.5 2782.2 330.6 2778C326.6 2773.7 323.3 2771.3 321.5 2767C319.6 2762.7 319.9 2754.8 319.6 2752.4"/>
<path d="M295.9 2652C296.5 2653.9 298.6 2659.3 299.6 2663C300.5 2666.6 303.2 2670.9 301.4 2673.9C299.6 2677 290.4 2677 288.6 2681.2C286.8 2685.5 289.2 2692.5 290.4 2699.5C291.7 2706.5 293.8 2717.7 295.9 2723.2C298 2728.7 300.8 2730.1 303.2 2732.3C305.6 2734.6 309.3 2736.1 310.5 2736.9"/>
<path d="M288.6 2680.3L316 2670.3L336.1 2673.9"/>
<path d="M341.5 2662.1C342.1 2661.9 343.4 2660.4 345.2 2661.2C347 2661.9 348.5 2664.5 352.5 2666.6C356.4 2668.8 362.8 2672.7 368.9 2673.9C375 2675.2 385.6 2673.9 389 2673.9"/>
<path d="M341.5 2662.1C341.7 2664.4 342.7 2670.7 342.4 2675.8C342.1 2680.8 340.9 2687.9 339.7 2692.2C338.5 2696.4 335.5 2698.6 335.1 2701.3C334.8 2704.1 336.4 2706 337.9 2708.6C339.4 2711.2 343.2 2715.5 344.3 2716.8"/>
<path d="M341.5 2700.4L361.6 2688.5"/>
<path d="M368.9 2675.8C368.4 2677 365.9 2680.3 366.2 2683.1C366.5 2685.8 368.8 2688.5 370.7 2692.2C372.7 2695.8 375.9 2702.5 378 2705C380.2 2707.4 382.6 2706.5 383.5 2706.8"/>
<path d="M382.6 2707.7L386.2 2721.4L391.7 2736L409.1 2734.2L413.6 2725"/>
<path d="M409.1 2734.2C408.6 2739.3 409.7 2761.7 406.3 2765.2C403 2768.7 394.3 2757.4 389 2755.1C383.7 2752.9 378.9 2752 374.4 2751.5C369.8 2751 365.1 2755.3 361.6 2752.4C358.1 2749.5 354.8 2737.2 353.4 2734.2"/>
<path d="M365.3 2748.8L391.7 2736"/>
<path d="M405.4 2712.3C406.9 2713.8 413 2718 414.5 2721.4C416 2724.7 414.5 2730.5 414.5 2732.3" stroke-width="4.5"/>
<path d="M328.8 2632C329.1 2630.9 329.4 2626.8 330.6 2625.6C331.8 2624.4 334.2 2623.9 336.1 2624.7C337.9 2625.4 340.3 2627.7 341.5 2630.1C342.7 2632.6 343.5 2637 343.4 2639.3C343.2 2641.6 341.1 2643.1 340.6 2643.8"/>
<path d="M281.3 2663.9C281.3 2662.5 280.4 2657.5 281.3 2655.7C282.2 2653.9 285 2652.5 286.8 2653C288.6 2653.4 290.9 2655.8 292.3 2658.4C293.6 2661 294.7 2666.3 295 2668.5C295.3 2670.6 294.2 2670.7 294.1 2671.2"/>
<path d="M397.2 2697.7C397.2 2696.1 396.3 2690.7 397.2 2688.5C398.1 2686.4 400.8 2684.6 402.7 2684.9C404.5 2685.2 406.8 2687.9 408.1 2690.4C409.5 2692.8 410.7 2697.2 410.9 2699.5C411 2701.8 409.4 2703.3 409.1 2704.1"/>
<path d="M416.4 2788.9C416.2 2787.4 414.7 2781.9 415.4 2779.8C416.2 2777.7 418.9 2775.8 420.9 2776.1C422.9 2776.4 425.8 2779.3 427.3 2781.6C428.8 2783.9 429.6 2788.4 430 2789.8"/>
<path d="M366.2 2809C366.3 2807.9 365.9 2803.8 367.1 2802.6C368.3 2801.4 371.3 2800.6 373.5 2801.7C375.6 2802.7 378.5 2806.5 379.9 2809C381.2 2811.4 382.4 2814.5 381.7 2816.3C380.9 2818.1 376.4 2819.3 375.3 2819.9"/>
<path d="M298.6 2742.4L305 2739.6"/>
<path d="M312.3 2759.7L316 2754.2"/>
<path d="M414.6 2607C418.1 2605 430 2598.3 435.6 2595.1C441.2 2591.9 444.1 2589.5 448.4 2587.8C452.7 2586.1 456.6 2585.1 461.2 2585.1C465.7 2585.1 471.2 2585.8 475.8 2587.8C480.3 2589.8 484 2592.7 488.5 2596.9C493.1 2601.2 498.6 2607.3 503.1 2613.4C507.7 2619.4 512.3 2626.4 515.9 2633.4C519.6 2640.4 522.6 2648 525 2655.3C527.5 2662.6 529.6 2671.1 530.5 2677.2C531.4 2683.3 531.4 2687.6 530.5 2691.8C529.6 2696.1 527.5 2699.7 525 2702.8C522.6 2705.8 517.4 2708.9 515.9 2710.1"/>
<path d="M515.9 2710.1L484 2730.1"/>
<path d="M475.8 2587.8C479.7 2585.5 494 2576.6 499.5 2574.1C505 2571.6 505 2572.5 508.6 2572.8C512.3 2573.2 517.1 2573.8 521.4 2575.9C525.6 2578.1 530.2 2582.2 534.2 2586C538.1 2589.8 541.8 2593.9 545.1 2598.8C548.5 2603.6 551.5 2609.4 554.2 2615.2C557 2621 559.9 2627.7 561.5 2633.4C563.2 2639.2 564.3 2644.7 564.3 2649.9C564.3 2655 563.2 2660.8 561.5 2664.5C559.9 2668.1 555.5 2670.5 554.2 2671.8"/>
<path d="M554.2 2671.8L531.4 2684.5"/>
<path d="M420.1 2609.7C422.7 2610.6 430.6 2612.1 435.6 2615.2C440.6 2618.2 445.4 2622.5 450.2 2628C455.1 2633.4 460.6 2641 464.8 2648C469.1 2655 472.7 2662.6 475.8 2669.9C478.8 2677.2 481.2 2684.5 483.1 2691.8C484.9 2699.1 486.6 2707.3 486.7 2713.7C486.9 2720.1 484.4 2727.4 484 2730.1"/>
<path d="M427.4 2612.4C430.3 2614.4 439.1 2618.7 444.7 2624.3C450.4 2629.9 456.6 2638.6 461.2 2646.2C465.7 2653.8 469.1 2662.3 472.1 2669.9C475.2 2677.5 477.6 2684.8 479.4 2691.8C481.2 2698.8 482.5 2706.7 483.1 2711.9C483.7 2717.1 483.1 2721 483.1 2722.8"/>
<path d="M559.7 2607L621.8 2571.4"/>
<path d="M590.7 2440L590.7 2486.5"/>
<path d="M565.2 2589.6C563.7 2585.4 558.2 2572.6 556.1 2564.1C553.9 2555.6 552.9 2546.4 552.4 2538.5C552 2530.6 552.1 2523 553.3 2516.6C554.5 2510.3 556.5 2504.6 559.7 2500.2C562.9 2495.8 567.6 2492.3 572.5 2490.2C577.3 2488.1 584.6 2487.7 588.9 2487.4C593.2 2487.1 593.8 2487.1 598 2488.4C602.3 2489.6 608.4 2491.2 614.5 2494.7C620.5 2498.2 628.1 2503.6 634.5 2509.3C640.9 2515.1 647.3 2521.8 652.8 2529.4C658.2 2537 663.4 2546.4 667.4 2555C671.3 2563.5 674.2 2572.3 676.5 2580.5C678.8 2588.7 680.5 2596.9 681.1 2604.2C681.7 2611.5 681.2 2618.2 680.1 2624.3C679.1 2630.4 677.4 2636.2 674.7 2640.7C671.9 2645.3 668 2649.4 663.7 2651.7C659.5 2654 654.9 2654.7 649.1 2654.4C643.3 2654.1 635.7 2652.4 629.1 2649.9C622.4 2647.3 615.4 2643.5 609 2638.9C602.6 2634.3 596.2 2628 590.7 2622.5C585.3 2617 578.6 2608.8 576.1 2606.1"/>
<path d="M562.4 2518.5C563.5 2516.6 565.9 2510.6 568.8 2507.5C571.7 2504.5 575.8 2501.7 579.8 2500.2C583.7 2498.7 587.7 2498.1 592.6 2498.4C597.4 2498.7 603.2 2499.3 609 2502C614.8 2504.8 621.1 2509.3 627.2 2514.8C633.3 2520.3 640 2527.6 645.5 2534.9C650.9 2542.2 656.1 2550.4 660.1 2558.6C664 2566.8 667.1 2575.9 669.2 2584.2C671.3 2592.4 672.5 2600.9 672.8 2607.9C673.2 2614.9 672.5 2621.3 671 2626.1C669.5 2631 666.8 2634.3 663.7 2637.1C660.7 2639.8 657 2641.8 652.8 2642.6C648.5 2643.3 642.7 2642.6 638.2 2641.6C633.6 2640.7 627.5 2637.8 625.4 2637.1"/>
<path d="M567 2575.9C566.2 2572.8 563.4 2563 562.4 2556.8C561.5 2550.6 561.1 2543.7 561.5 2538.5C562 2533.4 563.4 2529.1 565.2 2525.8C567 2522.4 569.7 2520.3 572.5 2518.5C575.2 2516.6 577.7 2515.1 581.6 2514.8C585.6 2514.5 593.8 2516.3 596.2 2516.6"/>
<path d="M567.9 2545.8C568.4 2544 569.3 2537.9 570.7 2534.9C572 2531.8 574 2529.4 576.1 2527.6C578.3 2525.8 582.2 2524.5 583.4 2523.9"/>
<path d="M576.1 2525.8C578 2525.3 583.4 2523.2 587.1 2523C590.7 2522.9 596.2 2524.5 598 2524.9" stroke-width="4.5"/>
<path d="M598 2524.9C599.9 2525.9 605 2528 609 2531.2C612.9 2534.4 617.8 2539.1 621.8 2544C625.7 2548.9 629.4 2554.4 632.7 2560.4C636 2566.5 639.7 2574.1 641.8 2580.5C644 2586.9 644.9 2593.6 645.5 2598.8C646.1 2603.9 646.4 2607.9 645.5 2611.5C644.6 2615.2 642.4 2618.8 640 2620.7C637.6 2622.5 634.5 2623.1 630.9 2622.5C627.2 2621.9 622.4 2619.7 618.1 2617C613.8 2614.3 609.3 2609.9 605.3 2606.1C601.4 2602.3 596.2 2596.2 594.4 2594.2"/>
<path d="M585.3 2578.7C584.3 2576.3 581.1 2569 579.8 2564.1C578.4 2559.2 577.3 2554.1 577 2549.5C576.7 2544.9 577.2 2540.1 578 2536.7C578.7 2533.4 580.1 2531.4 581.6 2529.4C583.1 2527.4 586.2 2525.6 587.1 2524.9"/>
<path d="M651.9 2592.4C652.2 2595 653.8 2602.9 653.7 2607.9C653.5 2612.9 652.6 2618.2 650.9 2622.5C649.3 2626.7 646.4 2630.7 643.6 2633.4C640.9 2636.2 636 2638 634.5 2638.9"/>
<path d="M605.3 2620.7C607.5 2621.6 613.8 2625.2 618.1 2626.1C622.4 2627 627.2 2626.9 630.9 2626.1C634.5 2625.4 638.5 2622.3 640 2621.6"/>
<path d="M603.5 2624.3C605.6 2625.4 612 2629.5 616.3 2630.7C620.5 2631.9 625.4 2632.1 629.1 2631.6C632.7 2631.1 636.7 2628.6 638.2 2628"/>
<path d="M555.1 2542.2C555.6 2545.2 556.7 2554.7 557.9 2560.4C559.1 2566.2 561.1 2571.8 562.4 2576.9C563.8 2581.9 565.5 2588.3 566.1 2590.5"/>
<path d="M713.3 2362.7L713.3 2444.2"/>
<path d="M684.1 2523.3C683.1 2519.3 678.8 2506.3 678 2499C677.2 2491.7 677.8 2485.2 679.2 2479.5C680.6 2473.8 683.3 2468.2 686.5 2464.9C689.8 2461.7 693.4 2460.3 698.7 2460C704 2459.8 712.1 2460.9 718.2 2463.7C724.2 2466.5 729.9 2471.2 735.2 2477.1C740.5 2483 745.9 2491.3 749.8 2499C753.6 2506.7 756.7 2515.6 758.3 2523.3C759.9 2531 760.1 2539.1 759.5 2545.2C758.9 2551.3 757.5 2556.4 754.6 2559.8C751.8 2563.3 746.9 2565.1 742.5 2565.9C738 2566.7 733.2 2566.5 727.9 2564.7C722.6 2562.8 716.1 2559 710.9 2554.9C705.6 2550.9 698.7 2542.8 696.3 2540.3"/>
<path d="M691.4 2455.2C689.6 2456.8 683.1 2460.5 680.4 2464.9C677.8 2469.4 676.2 2475.5 675.6 2481.9C675 2488.4 675.2 2497 676.8 2503.8C678.4 2510.7 683.9 2520.1 685.3 2523.3"/>
<path d="M691.4 2455.2C695 2453.6 707.2 2447.3 713.3 2445.5C719.4 2443.6 722.6 2443 727.9 2444.2C733.2 2445.5 739.2 2448.1 744.9 2452.7C750.6 2457.4 757.1 2465.3 761.9 2472.2C766.8 2479.1 770.9 2486.4 774.1 2494.1C777.4 2501.8 780.2 2510.7 781.4 2518.4C782.6 2526.1 782.4 2534.7 781.4 2540.3C780.4 2546 779.4 2548.9 775.3 2552.5C771.3 2556.2 762.1 2559.6 757.1 2562.2C752 2564.9 746.9 2567.3 744.9 2568.3"/>
<path d="M701.1 2461.3C700.9 2464.7 699.5 2475.7 699.9 2481.9C700.3 2488.2 702.1 2494.3 703.6 2499C705 2503.6 707.6 2508.1 708.4 2509.9"/>
<path d="M718.2 2525.7C720.2 2528.2 725.9 2536.3 730.3 2540.3C734.8 2544.4 740.9 2548.2 744.9 2550.1C749 2551.9 753 2551.1 754.6 2551.3"/>
<path d="M761.9 2528.2C762.1 2531 763.8 2539.9 763.2 2545.2C762.6 2550.5 759.1 2557.4 758.3 2559.8"/>
<path d="M725.5 2559.8C727.9 2560.4 735.6 2563.5 740 2563.5C744.5 2563.5 750.2 2560.4 752.2 2559.8"/>
<path d="M691.4 2460C693.8 2459.4 702.3 2456.8 706 2456.4C709.6 2456 712.1 2457.4 713.3 2457.6"/>
<path d="M670.7 2545.2L737.6 2506.3"/>
<path d="M783.8 2481.9L892.1 2419.9"/>
<path d="M904.3 2412.6L915.2 2406.5L907.9 2404.1"/>
<path d="M755.9 2315.3L771.7 2325"/>
<path d="M783.8 2331.1L895.8 2395.6"/>
<path d="M1383.4 2554.1L1383.4 2626.5"/>
<path d="M1224.8 2628.5L1293.1 2586.1L1301.3 2588.6L1298.9 2593.4L1231 2635.4L1224.8 2628.5"/>
<path d="M1301.3 2592.3L1466.8 2685.4"/>
<path d="M1232.1 2635.8L1431.6 2749.5"/>
<path d="M1300.3 2593.4C1301.9 2594.6 1307 2597.7 1309.6 2600.6C1312.2 2603.5 1315 2607.5 1315.8 2610.9C1316.7 2614.4 1316.5 2618.2 1314.8 2621.3C1313.1 2624.4 1309.8 2627.3 1305.5 2629.6C1301.2 2631.8 1295.1 2633.5 1288.9 2634.7C1282.7 2635.9 1275.1 2636.6 1268.2 2636.8C1261.4 2637 1253.4 2636.3 1247.6 2635.8C1241.7 2635.2 1235.5 2634 1233.1 2633.7"/>
<path d="M1466.8 2685.4C1464.7 2685.7 1458.5 2685.4 1454.4 2687.5C1450.2 2689.5 1445.8 2693 1442 2697.8C1438.2 2702.6 1434 2710.2 1431.6 2716.4C1429.2 2722.6 1427.8 2729.9 1427.5 2735C1427.1 2740.2 1427.8 2744.7 1429.6 2747.4C1431.3 2750.2 1434.4 2751.2 1437.8 2751.6C1441.3 2751.9 1446.8 2750.9 1450.2 2749.5C1453.7 2748.1 1457.1 2744.3 1458.5 2743.3"/>
<path d="M1466.8 2685.4C1467.8 2686.1 1471.3 2687.1 1473 2689.5C1474.7 2692 1476.6 2696.1 1477.1 2699.9C1477.6 2703.7 1476.3 2710.2 1476.1 2712.3"/>
<path d="M1466.8 2711.3C1465.4 2711.6 1460.8 2711.4 1458.5 2713.3C1456.3 2715.2 1454.4 2719.4 1453.3 2722.6C1452.3 2725.9 1451.8 2729.9 1452.3 2733C1452.8 2736.1 1455.1 2739.9 1456.4 2741.2C1457.8 2742.6 1459.9 2741.2 1460.6 2741.2"/>
<path d="M1466.8 2711.3L1473 2715.4L1511.3 2740.2"/>
<path d="M1456.4 2741.2L1501.9 2756.8"/>
<path d="M1502.8 2746.1C1503 2745.7 1503.3 2745.4 1503.5 2745C1503.7 2744.7 1503.9 2744.4 1504.2 2744.1C1504.4 2743.8 1504.7 2743.5 1504.9 2743.2C1505.2 2742.9 1505.5 2742.6 1505.7 2742.4C1506 2742.1 1506.3 2741.9 1506.6 2741.7C1506.8 2741.5 1507.1 2741.3 1507.4 2741.1C1507.7 2740.9 1508 2740.8 1508.2 2740.7C1508.5 2740.5 1508.8 2740.4 1509.1 2740.3C1509.3 2740.3 1509.6 2740.2 1509.9 2740.2C1510.1 2740.1 1510.4 2740.1 1510.6 2740.1C1510.8 2740.2 1511.1 2740.2 1511.3 2740.3C1511.5 2740.3 1511.7 2740.4 1511.9 2740.5C1512.1 2740.6 1512.3 2740.8 1512.5 2740.9C1512.6 2741.1 1512.8 2741.3 1512.9 2741.5C1513.1 2741.7 1513.2 2741.9 1513.3 2742.1C1513.4 2742.4 1513.5 2742.6 1513.6 2742.9C1513.6 2743.2 1513.7 2743.4 1513.7 2743.8C1513.7 2744.1 1513.8 2744.4 1513.8 2744.7C1513.7 2745 1513.7 2745.4 1513.7 2745.7C1513.6 2746.1 1513.6 2746.4 1513.5 2746.8C1513.4 2747.1 1513.3 2747.5 1513.2 2747.9C1513.1 2748.2 1513 2748.6 1512.9 2749C1512.7 2749.4 1512.6 2749.7 1512.4 2750.1C1512.2 2750.5 1512 2750.8 1511.8 2751.2C1511.6 2751.5 1511.4 2751.9 1511.2 2752.2C1511 2752.5 1510.7 2752.9 1510.5 2753.2C1510.2 2753.5 1510 2753.8 1509.7 2754.1C1509.5 2754.4 1509.2 2754.6 1508.9 2754.9C1508.7 2755.1 1508.4 2755.4 1508.1 2755.6C1507.8 2755.8 1507.5 2756 1507.3 2756.1C1507 2756.3 1506.7 2756.5 1506.4 2756.6C1506.1 2756.7 1505.9 2756.8 1505.6 2756.9C1505.3 2757 1505.1 2757 1504.8 2757.1C1504.5 2757.1 1504.3 2757.1 1504.1 2757.1C1503.8 2757.1 1503.6 2757 1503.4 2757C1503.1 2756.9 1502.9 2756.8 1502.7 2756.7C1502.5 2756.6 1502.4 2756.5 1502.2 2756.3C1502 2756.2 1501.9 2756 1501.7 2755.8C1501.6 2755.6 1501.5 2755.4 1501.4 2755.1C1501.3 2754.9 1501.2 2754.6 1501.1 2754.4C1501 2754.1 1501 2753.8 1501 2753.5C1500.9 2753.2 1500.9 2752.9 1500.9 2752.5C1500.9 2752.2 1500.9 2751.9 1501 2751.5C1501 2751.2 1501.1 2750.8 1501.1 2750.5C1501.2 2750.1 1501.3 2749.7 1501.4 2749.4C1501.5 2749 1501.7 2748.6 1501.8 2748.3C1501.9 2747.9 1502.1 2747.5 1502.3 2747.2C1502.5 2746.8 1502.6 2746.4 1502.8 2746.1Z"/>
<path d="M628.3 1080L1060.8 830"/>
<path d="M840 927.5L840 957.5"/>
<path d="M783.3 658.3L893.3 721.7"/>
<path d="M908.3 730L921.7 736.7"/>
<path d="M936.7 746.7L951.7 755"/>
<path d="M951.7 755L855 807.5"/>
<path d="M832.5 820L812.5 831"/>
<path d="M792.5 842.5L705 892.5"/>
<path d="M685 903.5L670 912.5"/>
<path d="M650 923.5L550 980"/>
<path d="M532.5 990L515 1000"/>
<path d="M495 1011L400 1065"/>
<path d="M385 1081.7L368.3 1090"/>
<path d="M356.7 1098.3L260 1153.3L273.3 1161.7"/>
<path d="M288.3 1169.3L305 1179.3"/>
<path d="M316.7 1186L400 1233.3"/>
<path d="M993.3 975.8L975.8 985.8"/>
<path d="M962.5 993.3L855 1052.5"/>
<path d="M840 1062.5L822.5 1072.5"/>
<path d="M990 1068.3L958.3 1084.7"/>
<path d="M990 1255L952 1277"/>
<path d="M992.5 1384.2L976 1394"/>
<path d="M1120 1546.7L1074 1574.2"/>
<path d="M1077 1630L1100 1643.3"/>
<path d="M46.7 1892.7L33.3 1900L60 1914.2"/>
<path d="M241.7 2018L285 2043.3"/>
<path d="M298.3 2050.7L315 2060.7"/>
<path d="M326.7 2067.3L436.7 2131.7"/>
<path d="M678 2268.3L742.5 2308"/>
<path d="M145 1530.5L239.5 1586.2"/>
</g>
<g font-family="'Liberation Sans', sans-serif" fill="#000" stroke="none">
<text x="426" y="65.7" font-size="53">11</text>
<text x="567.5" y="166.7" font-size="53">13</text>
<text x="698" y="346.7" font-size="53">9</text>
<text x="791" y="408.3" font-size="53">14</text>
<text x="956.5" y="1977" font-size="53">3</text>
<text x="106" y="1408.3" font-size="53">3</text>
<text x="1824" y="555" font-size="53">20</text>
<text x="1522" y="648.3" font-size="53">17</text>
<text x="1719" y="820" font-size="53">18</text>
<text x="1206" y="1585" font-size="53">14</text>
<text x="1332.5" y="1637.3" font-size="53">8</text>
<text x="1489" y="1641.7" font-size="53">12</text>
<text x="446" y="2253.3" font-size="53">5</text>
<text x="576" y="2350" font-size="53">6</text>
<text x="196.5" y="2591.7" font-size="53">4</text>
<text x="702" y="2350.6" font-size="53">7</text>
<text x="1351" y="2536.5" font-size="53">22</text>
<text x="829" y="917.5" font-size="53">1</text>
<text x="1630.8" y="1540.8" font-size="53">10</text>
</g>
</svg></body></html>
